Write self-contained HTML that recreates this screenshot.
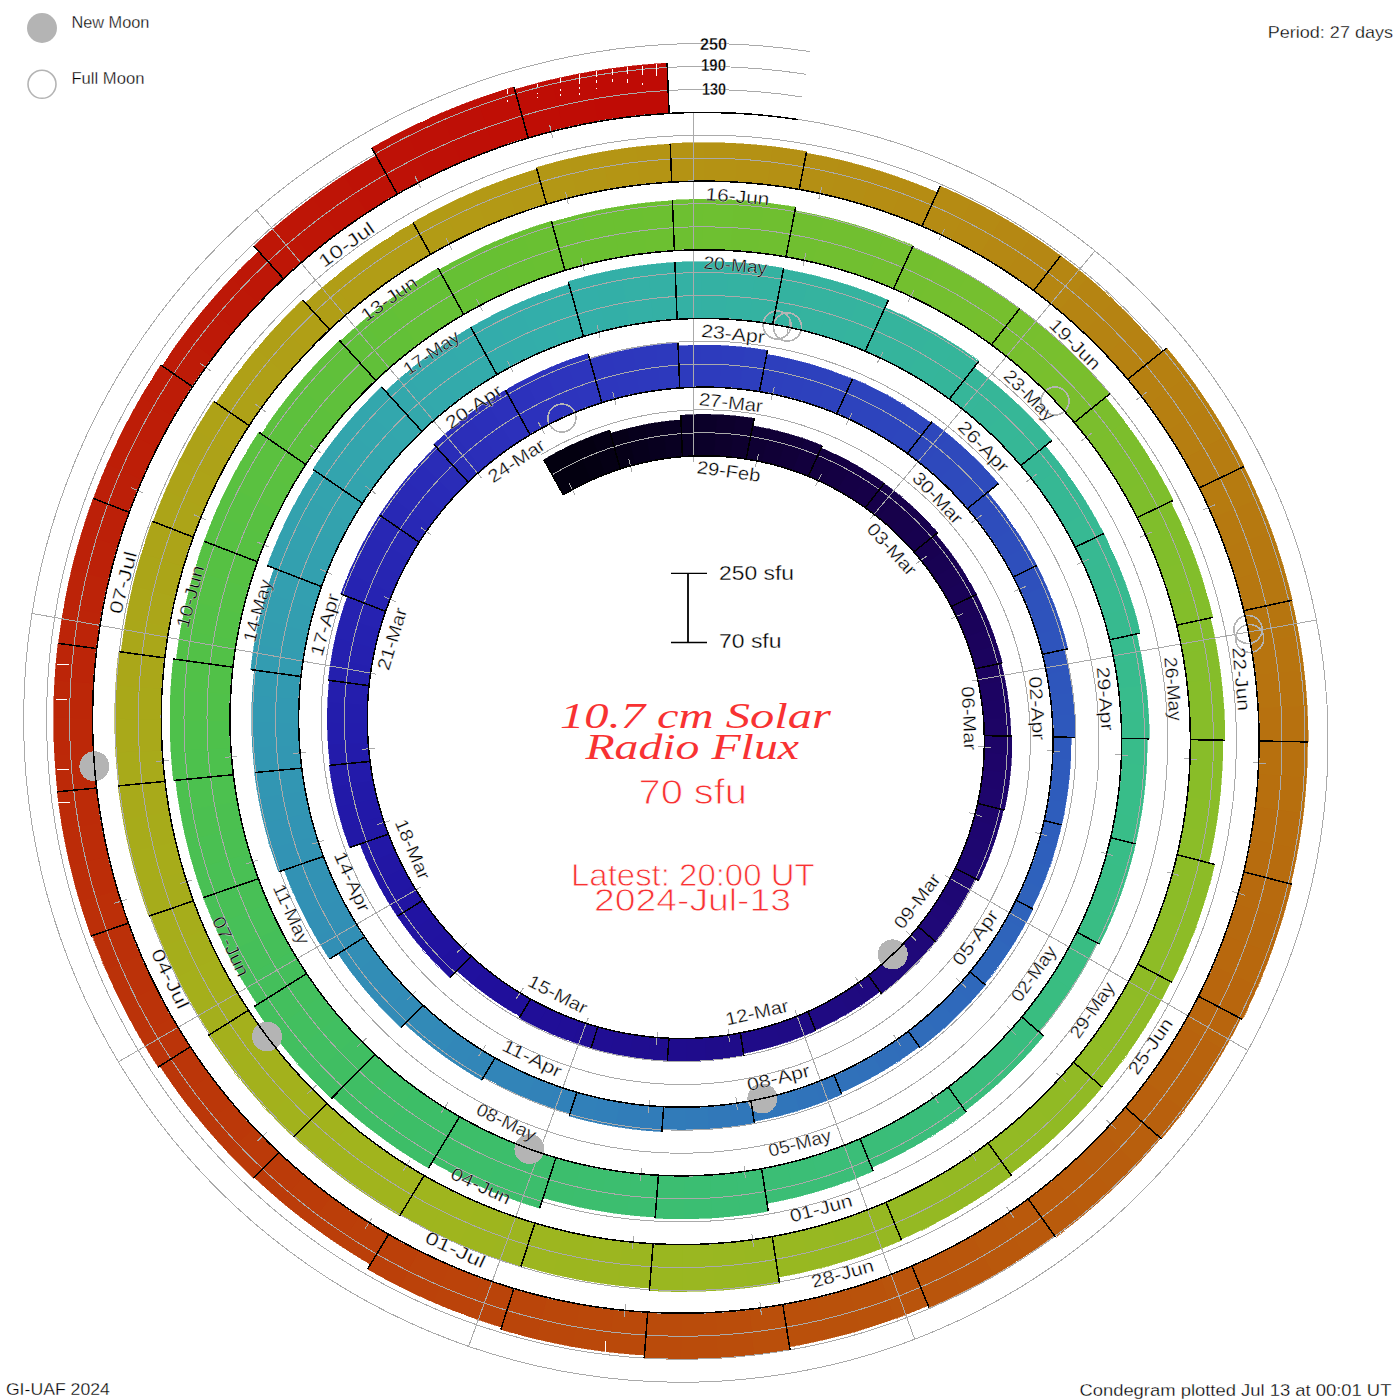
<!DOCTYPE html><html><head><meta charset="utf-8"><style>html,body{margin:0;padding:0;background:#fff;width:1400px;height:1400px;overflow:hidden}svg{display:block}text{font-family:"Liberation Sans",sans-serif;stroke:#fff;stroke-width:0.3px}</style></head><body>
<svg width="1400" height="1400" viewBox="0 0 1400 1400">
<rect width="1400" height="1400" fill="#fff"/>
<g shape-rendering="crispEdges">
<polygon fill="#030010" stroke="#030010" stroke-width="0.6" points="563.3,494.9 567.8,492.3 572.3,489.7 576.9,487.2 559.5,450.9 554.2,453.7 549.0,456.7 543.8,459.7"/>
<polygon fill="#030010" stroke="#030010" stroke-width="0.6" points="576.9,487.2 581.5,484.8 586.2,482.5 591.0,480.3 575.8,443.0 570.3,445.5 564.9,448.2 559.5,450.9"/>
<polygon fill="#040012" stroke="#040012" stroke-width="0.6" points="591.0,480.3 595.8,478.1 600.6,476.1 605.5,474.2 592.4,436.1 586.8,438.3 581.3,440.6 575.8,443.0"/>
<polygon fill="#050015" stroke="#050015" stroke-width="0.6" points="605.5,474.2 610.4,472.3 615.3,470.6 620.3,468.9 609.5,430.1 603.8,432.0 598.1,434.0 592.4,436.1"/>
<polygon fill="#060018" stroke="#060018" stroke-width="0.6" points="620.3,468.9 625.3,467.3 630.4,465.9 635.5,464.5 627.7,428.5 621.9,430.1 616.2,431.7 610.4,433.4"/>
<polygon fill="#07001c" stroke="#07001c" stroke-width="0.6" points="635.5,464.5 640.6,463.2 645.7,462.0 650.9,461.0 645.2,424.6 639.4,425.8 633.5,427.1 627.7,428.5"/>
<polygon fill="#08001f" stroke="#08001f" stroke-width="0.6" points="650.9,461.0 656.1,460.0 661.3,459.1 666.6,458.3 663.0,421.7 657.1,422.6 651.1,423.5 645.2,424.6"/>
<polygon fill="#090022" stroke="#090022" stroke-width="0.6" points="666.6,458.3 671.8,457.7 677.1,457.1 682.4,456.6 681.0,419.9 675.0,420.4 669.0,421.0 663.0,421.7"/>
<polygon fill="#0a0026" stroke="#0a0026" stroke-width="0.6" points="682.4,456.6 687.7,456.3 693.0,456.0 698.3,455.8 699.1,414.4 693.0,414.6 686.9,414.9 680.8,415.3"/>
<polygon fill="#0b0029" stroke="#0b0029" stroke-width="0.6" points="698.3,455.8 703.6,455.8 709.0,455.8 714.3,456.0 717.5,414.7 711.4,414.5 705.2,414.4 699.1,414.4"/>
<polygon fill="#0d002c" stroke="#0d002c" stroke-width="0.6" points="714.3,456.0 719.6,456.2 725.0,456.6 730.3,457.0 735.9,416.0 729.8,415.5 723.6,415.0 717.5,414.7"/>
<polygon fill="#0e002f" stroke="#0e002f" stroke-width="0.6" points="730.3,457.0 735.6,457.6 740.9,458.3 746.2,459.1 754.2,418.4 748.1,417.5 742.0,416.7 735.9,416.0"/>
<polygon fill="#0f0033" stroke="#0f0033" stroke-width="0.6" points="746.2,459.1 751.5,459.9 756.8,460.9 762.0,462.0 770.4,429.4 764.5,428.1 758.6,427.0 752.7,426.0"/>
<polygon fill="#100036" stroke="#100036" stroke-width="0.6" points="762.0,462.0 767.3,463.2 772.5,464.5 777.7,465.9 788.0,433.8 782.2,432.2 776.3,430.7 770.4,429.4"/>
<polygon fill="#110039" stroke="#110039" stroke-width="0.6" points="777.7,465.9 782.9,467.3 788.0,468.9 793.1,470.6 805.3,439.2 799.5,437.3 793.8,435.5 788.0,433.8"/>
<polygon fill="#12003d" stroke="#12003d" stroke-width="0.6" points="793.1,470.6 798.2,472.4 803.3,474.3 808.3,476.3 822.3,445.6 816.6,443.4 811.0,441.2 805.3,439.2"/>
<polygon fill="#130040" stroke="#130040" stroke-width="0.6" points="808.3,476.3 813.3,478.4 818.3,480.6 823.2,482.9 837.6,455.5 832.2,452.9 826.7,450.4 821.1,448.1"/>
<polygon fill="#140043" stroke="#140043" stroke-width="0.6" points="823.2,482.9 828.0,485.3 832.9,487.8 837.6,490.3 853.7,463.8 848.4,460.9 843.0,458.1 837.6,455.5"/>
<polygon fill="#150046" stroke="#150046" stroke-width="0.6" points="837.6,490.3 842.4,493.0 847.1,495.8 851.7,498.6 869.2,473.1 864.1,469.9 858.9,466.8 853.7,463.8"/>
<polygon fill="#160048" stroke="#160048" stroke-width="0.6" points="851.7,498.6 856.3,501.6 860.8,504.6 865.3,507.7 884.3,483.2 879.3,479.7 874.3,476.3 869.2,473.1"/>
<polygon fill="#16004a" stroke="#16004a" stroke-width="0.6" points="865.3,507.7 869.7,511.0 874.0,514.3 878.3,517.6 898.5,494.5 893.8,490.7 889.0,487.1 884.1,483.5"/>
<polygon fill="#17014b" stroke="#17014b" stroke-width="0.6" points="878.3,517.6 882.5,521.1 886.7,524.7 890.8,528.3 912.3,506.4 907.8,502.4 903.2,498.4 898.5,494.5"/>
<polygon fill="#17014d" stroke="#17014d" stroke-width="0.6" points="890.8,528.3 894.8,532.1 898.8,535.9 902.7,539.7 925.4,519.1 921.1,514.8 916.7,510.6 912.3,506.4"/>
<polygon fill="#17014f" stroke="#17014f" stroke-width="0.6" points="902.7,539.7 906.5,543.7 910.2,547.7 913.9,551.9 937.8,532.6 933.7,528.0 929.6,523.5 925.4,519.1"/>
<polygon fill="#180151" stroke="#180151" stroke-width="0.6" points="913.9,551.9 917.4,556.0 920.9,560.3 924.4,564.6 947.1,548.3 943.4,543.6 939.6,538.9 935.7,534.3"/>
<polygon fill="#180253" stroke="#180253" stroke-width="0.6" points="924.4,564.6 927.7,569.0 931.0,573.5 934.1,578.0 957.8,563.1 954.4,558.1 950.8,553.2 947.1,548.3"/>
<polygon fill="#190255" stroke="#190255" stroke-width="0.6" points="934.1,578.0 937.2,582.6 940.2,587.3 943.1,592.0 967.6,578.5 964.5,573.3 961.2,568.1 957.8,563.1"/>
<polygon fill="#190257" stroke="#190257" stroke-width="0.6" points="943.1,592.0 945.9,596.8 948.7,601.6 951.3,606.5 976.5,594.4 973.7,589.0 970.7,583.7 967.6,578.5"/>
<polygon fill="#1a0258" stroke="#1a0258" stroke-width="0.6" points="951.3,606.5 953.8,611.4 956.3,616.4 958.6,621.5 984.2,611.0 981.6,605.5 979.0,600.0 976.2,594.6"/>
<polygon fill="#1a025a" stroke="#1a025a" stroke-width="0.6" points="958.6,621.5 960.9,626.6 963.0,631.7 965.1,636.9 991.2,628.0 989.0,622.3 986.6,616.6 984.2,611.0"/>
<polygon fill="#1b025c" stroke="#1b025c" stroke-width="0.6" points="965.1,636.9 967.0,642.1 968.9,647.4 970.6,652.7 997.2,645.3 995.3,639.5 993.3,633.7 991.2,628.0"/>
<polygon fill="#1b035e" stroke="#1b035e" stroke-width="0.6" points="970.6,652.7 972.3,658.1 973.8,663.4 975.3,668.8 1002.3,663.0 1000.7,657.1 999.0,651.2 997.2,645.3"/>
<polygon fill="#1c0360" stroke="#1c0360" stroke-width="0.6" points="975.3,668.8 976.6,674.3 977.9,679.8 979.0,685.3 1005.2,681.2 1004.0,675.2 1002.6,669.2 1001.2,663.2"/>
<polygon fill="#1c0362" stroke="#1c0362" stroke-width="0.6" points="979.0,685.3 980.0,690.8 980.9,696.3 981.8,701.9 1008.1,699.3 1007.3,693.3 1006.3,687.2 1005.2,681.2"/>
<polygon fill="#1c0364" stroke="#1c0364" stroke-width="0.6" points="981.8,701.9 982.5,707.5 983.0,713.1 983.5,718.7 1010.0,717.7 1009.5,711.6 1008.9,705.4 1008.1,699.3"/>
<polygon fill="#1d0465" stroke="#1d0465" stroke-width="0.6" points="983.5,718.7 983.9,724.4 984.2,730.0 984.3,735.6 1010.8,736.2 1010.7,730.0 1010.4,723.8 1010.0,717.7"/>
<polygon fill="#1d0467" stroke="#1d0467" stroke-width="0.6" points="984.3,735.6 984.4,741.3 984.3,747.0 984.1,752.6 1011.7,754.8 1011.9,748.6 1012.0,742.4 1011.9,736.2"/>
<polygon fill="#1e0469" stroke="#1e0469" stroke-width="0.6" points="984.1,752.6 983.9,758.3 983.5,763.9 983.0,769.6 1010.3,773.3 1010.9,767.2 1011.3,761.0 1011.7,754.8"/>
<polygon fill="#1e046b" stroke="#1e046b" stroke-width="0.6" points="983.0,769.6 982.4,775.3 981.6,780.9 980.8,786.5 1007.9,791.8 1008.8,785.7 1009.6,779.5 1010.3,773.3"/>
<polygon fill="#1e056c" stroke="#1e056c" stroke-width="0.6" points="980.8,786.5 979.9,792.1 978.8,797.7 977.6,803.3 1004.4,810.2 1005.7,804.1 1006.8,798.0 1007.9,791.8"/>
<polygon fill="#1e056d" stroke="#1e056d" stroke-width="0.6" points="977.6,803.3 976.4,808.9 975.0,814.4 973.5,819.9 998.7,828.0 1000.4,822.0 1001.9,816.0 1003.3,809.9"/>
<polygon fill="#1e056f" stroke="#1e056f" stroke-width="0.6" points="973.5,819.9 971.9,825.4 970.2,830.9 968.4,836.3 993.1,845.9 995.1,840.0 997.0,834.0 998.7,828.0"/>
<polygon fill="#1e0670" stroke="#1e0670" stroke-width="0.6" points="968.4,836.3 966.5,841.7 964.5,847.1 962.3,852.4 986.4,863.4 988.8,857.6 991.0,851.7 993.1,845.9"/>
<polygon fill="#1e0672" stroke="#1e0672" stroke-width="0.6" points="962.3,852.4 960.1,857.7 957.8,863.0 955.3,868.2 978.8,880.5 981.4,874.9 984.0,869.1 986.4,863.4"/>
<polygon fill="#1e0673" stroke="#1e0673" stroke-width="0.6" points="955.3,868.2 952.8,873.3 950.1,878.4 947.4,883.5 967.4,895.6 970.4,890.1 973.3,884.6 976.0,879.1"/>
<polygon fill="#1e0774" stroke="#1e0774" stroke-width="0.6" points="947.4,883.5 944.5,888.5 941.6,893.5 938.5,898.4 957.8,911.6 961.1,906.4 964.3,901.0 967.4,895.6"/>
<polygon fill="#1f0776" stroke="#1f0776" stroke-width="0.6" points="938.5,898.4 935.4,903.3 932.2,908.1 928.8,912.8 947.3,927.1 950.9,922.0 954.4,916.9 957.8,911.6"/>
<polygon fill="#1f0877" stroke="#1f0877" stroke-width="0.6" points="928.8,912.8 925.4,917.5 921.9,922.1 918.3,926.6 935.9,942.0 939.8,937.1 943.6,932.2 947.3,927.1"/>
<polygon fill="#1f0878" stroke="#1f0878" stroke-width="0.6" points="918.3,926.6 914.6,931.1 910.8,935.5 906.9,939.8 923.4,955.9 927.5,951.3 931.6,946.5 935.6,941.7"/>
<polygon fill="#1f087a" stroke="#1f087a" stroke-width="0.6" points="906.9,939.8 903.0,944.1 898.9,948.3 894.8,952.4 910.3,969.4 914.7,965.0 919.1,960.5 923.4,955.9"/>
<polygon fill="#1f097b" stroke="#1f097b" stroke-width="0.6" points="894.8,952.4 890.6,956.4 886.3,960.4 881.9,964.2 896.4,982.1 901.1,978.0 905.7,973.7 910.3,969.4"/>
<polygon fill="#1f097d" stroke="#1f097d" stroke-width="0.6" points="881.9,964.2 877.5,968.0 873.0,971.7 868.4,975.3 881.7,994.0 886.7,990.2 891.6,986.2 896.4,982.1"/>
<polygon fill="#1f097e" stroke="#1f097e" stroke-width="0.6" points="868.4,975.3 863.7,978.9 858.9,982.3 854.1,985.7 864.7,1002.5 869.9,998.9 874.9,995.3 879.9,991.5"/>
<polygon fill="#1f0a7f" stroke="#1f0a7f" stroke-width="0.6" points="854.1,985.7 849.3,988.9 844.3,992.1 839.3,995.2 848.9,1012.6 854.3,1009.3 859.5,1006.0 864.7,1002.5"/>
<polygon fill="#1f0a81" stroke="#1f0a81" stroke-width="0.6" points="839.3,995.2 834.2,998.1 829.1,1001.0 823.9,1003.8 832.5,1021.7 838.0,1018.8 843.5,1015.7 848.9,1012.6"/>
<polygon fill="#1f0a82" stroke="#1f0a82" stroke-width="0.6" points="823.9,1003.8 818.7,1006.5 813.4,1009.0 808.0,1011.5 815.5,1029.9 821.3,1027.3 826.9,1024.6 832.5,1021.7"/>
<polygon fill="#1f0b84" stroke="#1f0b84" stroke-width="0.6" points="808.0,1011.5 802.6,1013.9 797.2,1016.2 791.7,1018.3 798.4,1037.9 804.2,1035.6 810.1,1033.2 815.8,1030.7"/>
<polygon fill="#1f0b85" stroke="#1f0b85" stroke-width="0.6" points="791.7,1018.3 786.1,1020.4 780.5,1022.3 774.9,1024.2 780.4,1044.1 786.5,1042.2 792.4,1040.1 798.4,1037.9"/>
<polygon fill="#1f0b86" stroke="#1f0b86" stroke-width="0.6" points="774.9,1024.2 769.2,1025.9 763.5,1027.6 757.8,1029.1 762.2,1049.3 768.3,1047.7 774.4,1046.0 780.4,1044.1"/>
<polygon fill="#1f0b88" stroke="#1f0b88" stroke-width="0.6" points="757.8,1029.1 752.0,1030.5 746.2,1031.8 740.4,1033.0 743.6,1053.4 749.8,1052.2 756.0,1050.8 762.2,1049.3"/>
<polygon fill="#1f0c89" stroke="#1f0c89" stroke-width="0.6" points="740.4,1033.0 734.5,1034.0 728.7,1035.0 722.8,1035.8 725.0,1058.7 731.3,1057.8 737.6,1056.8 743.9,1055.7"/>
<polygon fill="#1f0c8a" stroke="#1f0c8a" stroke-width="0.6" points="722.8,1035.8 716.8,1036.6 710.9,1037.2 704.9,1037.7 705.8,1060.7 712.2,1060.2 718.6,1059.5 725.0,1058.7"/>
<polygon fill="#1f0c8c" stroke="#1f0c8c" stroke-width="0.6" points="704.9,1037.7 699.0,1038.1 693.0,1038.3 687.0,1038.5 686.6,1061.5 693.0,1061.3 699.4,1061.1 705.8,1060.7"/>
<polygon fill="#1f0c8d" stroke="#1f0c8d" stroke-width="0.6" points="687.0,1038.5 681.0,1038.5 675.0,1038.5 669.0,1038.3 667.3,1061.2 673.7,1061.4 680.1,1061.5 686.6,1061.5"/>
<polygon fill="#200d8f" stroke="#200d8f" stroke-width="0.6" points="669.0,1038.3 663.0,1038.0 657.1,1037.5 651.1,1037.0 648.1,1059.0 654.5,1059.6 660.9,1060.1 667.3,1060.4"/>
<polygon fill="#200d90" stroke="#200d90" stroke-width="0.6" points="651.1,1037.0 645.1,1036.3 639.1,1035.5 633.2,1034.7 628.9,1056.4 635.3,1057.4 641.7,1058.3 648.1,1059.0"/>
<polygon fill="#200d92" stroke="#200d92" stroke-width="0.6" points="633.2,1034.7 627.2,1033.6 621.3,1032.5 615.4,1031.3 609.9,1052.8 616.2,1054.1 622.5,1055.3 628.9,1056.4"/>
<polygon fill="#200d93" stroke="#200d93" stroke-width="0.6" points="615.4,1031.3 609.5,1029.9 603.7,1028.4 597.8,1026.9 591.0,1048.0 597.3,1049.7 603.6,1051.3 609.9,1052.8"/>
<polygon fill="#200e94" stroke="#200e94" stroke-width="0.6" points="597.8,1026.9 592.0,1025.2 586.2,1023.3 580.5,1021.4 572.6,1041.8 578.7,1043.9 584.9,1045.9 591.1,1047.7"/>
<polygon fill="#200e96" stroke="#200e96" stroke-width="0.6" points="580.5,1021.4 574.8,1019.4 569.1,1017.2 563.5,1015.0 554.4,1034.9 560.4,1037.3 566.5,1039.6 572.6,1041.8"/>
<polygon fill="#200e97" stroke="#200e97" stroke-width="0.6" points="563.5,1015.0 557.9,1012.6 552.3,1010.1 546.8,1007.5 536.6,1026.9 542.5,1029.7 548.4,1032.3 554.4,1034.9"/>
<polygon fill="#200e98" stroke="#200e98" stroke-width="0.6" points="546.8,1007.5 541.4,1004.8 536.0,1002.0 530.6,999.1 519.3,1017.8 525.0,1021.0 530.8,1024.0 536.6,1026.9"/>
<polygon fill="#200f9a" stroke="#200f9a" stroke-width="0.6" points="530.6,999.1 525.3,996.1 520.1,992.9 514.9,989.7 503.4,1006.5 508.9,1009.9 514.5,1013.2 520.1,1016.5"/>
<polygon fill="#200f9b" stroke="#200f9b" stroke-width="0.6" points="514.9,989.7 509.8,986.4 504.7,982.9 499.7,979.4 487.3,995.5 492.6,999.2 497.9,1002.9 503.4,1006.5"/>
<polygon fill="#200f9c" stroke="#200f9c" stroke-width="0.6" points="499.7,979.4 494.8,975.8 489.9,972.1 485.1,968.2 471.7,983.5 476.8,987.6 482.0,991.6 487.3,995.5"/>
<polygon fill="#20109e" stroke="#20109e" stroke-width="0.6" points="485.1,968.2 480.4,964.3 475.7,960.3 471.2,956.2 456.9,970.7 461.8,975.1 466.7,979.3 471.7,983.5"/>
<polygon fill="#20119e" stroke="#20119e" stroke-width="0.6" points="471.2,956.2 466.7,952.0 462.2,947.7 457.9,943.3 435.7,963.5 440.4,968.3 445.2,973.0 450.1,977.6"/>
<polygon fill="#2112a0" stroke="#2112a0" stroke-width="0.6" points="457.9,943.3 453.7,938.9 449.5,934.3 445.4,929.7 422.1,948.5 426.5,953.6 431.0,958.6 435.7,963.5"/>
<polygon fill="#2113a0" stroke="#2113a0" stroke-width="0.6" points="445.4,929.7 441.4,925.0 437.5,920.2 433.7,915.3 409.3,932.8 413.4,938.1 417.7,943.4 422.1,948.5"/>
<polygon fill="#2113a2" stroke="#2113a2" stroke-width="0.6" points="433.7,915.3 430.0,910.4 426.3,905.4 422.8,900.3 397.4,916.3 401.3,921.9 405.2,927.4 409.3,932.8"/>
<polygon fill="#2114a2" stroke="#2114a2" stroke-width="0.6" points="422.8,900.3 419.4,895.1 416.0,889.9 412.8,884.6 386.5,899.1 390.1,904.9 393.7,910.6 397.4,916.3"/>
<polygon fill="#2115a4" stroke="#2115a4" stroke-width="0.6" points="412.8,884.6 409.7,879.2 406.6,873.8 403.7,868.3 376.7,881.3 379.8,887.3 383.1,893.2 386.5,899.1"/>
<polygon fill="#2216a4" stroke="#2216a4" stroke-width="0.6" points="403.7,868.3 400.9,862.8 398.2,857.2 395.6,851.5 367.8,862.9 370.6,869.1 373.6,875.2 376.7,881.3"/>
<polygon fill="#2217a6" stroke="#2217a6" stroke-width="0.6" points="395.6,851.5 393.1,845.8 390.7,840.0 388.4,834.2 360.0,843.9 362.5,850.3 365.1,856.6 367.8,862.9"/>
<polygon fill="#2218a6" stroke="#2218a6" stroke-width="0.6" points="388.4,834.2 386.3,828.4 384.2,822.5 382.3,816.5 342.8,827.5 344.9,834.2 347.2,840.9 349.6,847.5"/>
<polygon fill="#2218a8" stroke="#2218a8" stroke-width="0.6" points="382.3,816.5 380.4,810.5 378.7,804.5 377.1,798.4 337.1,807.1 338.8,813.9 340.7,820.7 342.8,827.5"/>
<polygon fill="#2219a8" stroke="#2219a8" stroke-width="0.6" points="377.1,798.4 375.7,792.3 374.3,786.2 373.1,780.0 332.6,786.4 333.9,793.3 335.4,800.2 337.1,807.1"/>
<polygon fill="#231aaa" stroke="#231aaa" stroke-width="0.6" points="373.1,780.0 371.9,773.9 370.9,767.6 370.1,761.4 329.3,765.4 330.2,772.4 331.3,779.4 332.6,786.4"/>
<polygon fill="#231baa" stroke="#231baa" stroke-width="0.6" points="370.1,761.4 369.3,755.2 368.7,748.9 368.1,742.6 328.2,744.2 328.7,751.2 329.4,758.3 330.2,765.3"/>
<polygon fill="#231cac" stroke="#231cac" stroke-width="0.6" points="368.1,742.6 367.7,736.3 367.5,730.0 367.3,723.7 327.3,722.9 327.5,730.0 327.8,737.1 328.2,744.2"/>
<polygon fill="#231dac" stroke="#231dac" stroke-width="0.6" points="367.3,723.7 367.3,717.4 367.4,711.0 367.6,704.7 327.7,701.6 327.5,708.7 327.3,715.8 327.3,722.9"/>
<polygon fill="#241ead" stroke="#241ead" stroke-width="0.6" points="367.6,704.7 367.9,698.4 368.4,692.1 369.0,685.7 329.4,680.3 328.7,687.4 328.1,694.5 327.7,701.6"/>
<polygon fill="#241fae" stroke="#241fae" stroke-width="0.6" points="369.0,685.7 369.7,679.4 370.5,673.1 371.5,666.9 331.3,659.0 330.2,666.0 329.2,673.1 328.4,680.2"/>
<polygon fill="#2520af" stroke="#2520af" stroke-width="0.6" points="371.5,666.9 372.6,660.6 373.8,654.3 375.1,648.1 335.4,637.9 333.9,644.9 332.5,651.9 331.3,659.0"/>
<polygon fill="#2521b0" stroke="#2521b0" stroke-width="0.6" points="375.1,648.1 376.5,641.9 378.1,635.7 379.8,629.6 340.7,617.1 338.8,624.0 337.0,630.9 335.4,637.9"/>
<polygon fill="#2622b1" stroke="#2622b1" stroke-width="0.6" points="379.8,629.6 381.6,623.5 383.5,617.4 385.6,611.3 347.3,596.5 345.0,603.3 342.8,610.2 340.7,617.1"/>
<polygon fill="#2623b2" stroke="#2623b2" stroke-width="0.6" points="385.6,611.3 387.7,605.3 390.0,599.3 392.4,593.4 348.7,573.5 345.9,580.3 343.3,587.1 340.8,594.0"/>
<polygon fill="#2725b2" stroke="#2725b2" stroke-width="0.6" points="392.4,593.4 394.9,587.5 397.6,581.6 400.3,575.8 357.8,553.5 354.7,560.1 351.6,566.8 348.7,573.5"/>
<polygon fill="#2726b3" stroke="#2726b3" stroke-width="0.6" points="400.3,575.8 403.2,570.1 406.1,564.4 409.2,558.7 368.1,533.9 364.6,540.4 361.1,546.9 357.8,553.5"/>
<polygon fill="#2827b4" stroke="#2827b4" stroke-width="0.6" points="409.2,558.7 412.4,553.2 415.7,547.6 419.1,542.2 379.5,515.0 375.6,521.3 371.8,527.6 368.1,533.9"/>
<polygon fill="#2828b5" stroke="#2828b5" stroke-width="0.6" points="419.1,542.2 422.6,536.8 426.3,531.4 430.0,526.2 392.1,496.8 387.8,502.8 383.6,508.9 379.5,515.0"/>
<polygon fill="#2929b6" stroke="#2929b6" stroke-width="0.6" points="430.0,526.2 433.8,521.0 437.8,515.9 441.8,510.8 405.7,479.2 401.0,485.0 396.5,490.8 392.1,496.8"/>
<polygon fill="#292ab7" stroke="#292ab7" stroke-width="0.6" points="441.8,510.8 446.0,505.8 450.2,500.9 454.5,496.1 420.3,462.5 415.3,468.0 410.4,473.6 405.7,479.2"/>
<polygon fill="#2a2cb7" stroke="#2a2cb7" stroke-width="0.6" points="454.5,496.1 459.0,491.4 463.5,486.7 468.1,482.2 435.9,446.6 430.6,451.8 425.4,457.1 420.3,462.5"/>
<polygon fill="#2a2db8" stroke="#2a2db8" stroke-width="0.6" points="468.1,482.2 472.8,477.7 477.6,473.3 482.5,469.0 450.5,429.3 444.8,434.3 439.3,439.3 433.8,444.4"/>
<polygon fill="#2b2eb9" stroke="#2b2eb9" stroke-width="0.6" points="482.5,469.0 487.5,464.8 492.5,460.7 497.7,456.7 468.0,415.2 462.1,419.8 456.2,424.5 450.5,429.3"/>
<polygon fill="#2b2fba" stroke="#2b2fba" stroke-width="0.6" points="497.7,456.7 502.9,452.8 508.2,449.0 513.5,445.3 486.4,402.1 480.2,406.4 474.0,410.7 468.0,415.2"/>
<polygon fill="#2c30bb" stroke="#2c30bb" stroke-width="0.6" points="513.5,445.3 519.0,441.7 524.5,438.2 530.1,434.8 505.5,390.1 499.0,394.0 492.6,398.0 486.4,402.1"/>
<polygon fill="#2c31bc" stroke="#2c31bc" stroke-width="0.6" points="530.1,434.8 535.8,431.5 541.5,428.3 547.3,425.2 525.3,379.2 518.6,382.7 512.0,386.4 505.5,390.1"/>
<polygon fill="#2d32bd" stroke="#2d32bd" stroke-width="0.6" points="547.3,425.2 553.1,422.3 559.0,419.4 565.0,416.7 545.7,369.5 538.8,372.6 532.0,375.8 525.3,379.2"/>
<polygon fill="#2d34bd" stroke="#2d34bd" stroke-width="0.6" points="565.0,416.7 571.0,414.1 577.1,411.6 583.2,409.2 566.7,360.9 559.6,363.6 552.6,366.5 545.7,369.5"/>
<polygon fill="#2d35bd" stroke="#2d35bd" stroke-width="0.6" points="583.2,409.2 589.4,406.9 595.6,404.7 601.9,402.7 588.2,353.6 581.0,355.9 573.8,358.3 566.7,360.9"/>
<polygon fill="#2d36bd" stroke="#2d36bd" stroke-width="0.6" points="601.9,402.7 608.2,400.8 614.6,399.0 620.9,397.3 611.4,353.4 604.2,355.2 597.0,357.2 589.8,359.4"/>
<polygon fill="#2d37bd" stroke="#2d37bd" stroke-width="0.6" points="620.9,397.3 627.4,395.8 633.8,394.4 640.3,393.1 633.4,348.6 626.0,350.1 618.7,351.6 611.4,353.4"/>
<polygon fill="#2d38bd" stroke="#2d38bd" stroke-width="0.6" points="640.3,393.1 646.8,391.9 653.4,390.9 659.9,390.0 655.6,345.2 648.1,346.2 640.7,347.3 633.4,348.6"/>
<polygon fill="#2d39bd" stroke="#2d39bd" stroke-width="0.6" points="659.9,390.0 666.5,389.2 673.1,388.5 679.7,388.0 678.0,343.0 670.5,343.6 663.0,344.3 655.6,345.2"/>
<polygon fill="#2d3abd" stroke="#2d3abd" stroke-width="0.6" points="679.7,388.0 686.4,387.6 693.0,387.3 699.6,387.2 700.5,345.2 693.0,345.3 685.5,345.6 678.1,346.0"/>
<polygon fill="#2d3bbd" stroke="#2d3bbd" stroke-width="0.6" points="699.6,387.2 706.3,387.1 713.0,387.2 719.6,387.5 722.9,345.6 715.4,345.3 707.9,345.2 700.5,345.2"/>
<polygon fill="#2d3cbd" stroke="#2d3cbd" stroke-width="0.6" points="719.6,387.5 726.3,387.9 732.9,388.4 739.6,389.0 745.3,347.4 737.8,346.6 730.3,346.1 722.9,345.6"/>
<polygon fill="#2d3ebd" stroke="#2d3ebd" stroke-width="0.6" points="739.6,389.0 746.2,389.7 752.8,390.6 759.4,391.6 767.5,350.4 760.1,349.3 752.7,348.2 745.3,347.4"/>
<polygon fill="#2d3fbd" stroke="#2d3fbd" stroke-width="0.6" points="759.4,391.6 766.0,392.8 772.6,394.1 779.2,395.5 788.6,358.7 781.4,357.1 774.1,355.6 766.8,354.4"/>
<polygon fill="#2d40bd" stroke="#2d40bd" stroke-width="0.6" points="779.2,395.5 785.7,397.0 792.2,398.6 798.7,400.4 810.3,364.2 803.1,362.2 795.9,360.4 788.6,358.7"/>
<polygon fill="#2d41bd" stroke="#2d41bd" stroke-width="0.6" points="798.7,400.4 805.1,402.3 811.5,404.4 817.9,406.5 831.6,371.1 824.5,368.7 817.4,366.4 810.3,364.2"/>
<polygon fill="#2d42bd" stroke="#2d42bd" stroke-width="0.6" points="817.9,406.5 824.2,408.8 830.5,411.2 836.7,413.8 852.5,379.2 845.5,376.3 838.6,373.7 831.6,371.1"/>
<polygon fill="#2d43bd" stroke="#2d43bd" stroke-width="0.6" points="836.7,413.8 842.9,416.4 849.1,419.2 855.2,422.1 873.1,388.0 866.4,384.8 859.5,381.7 852.7,378.7"/>
<polygon fill="#2d44bd" stroke="#2d44bd" stroke-width="0.6" points="855.2,422.1 861.2,425.1 867.2,428.3 873.1,431.5 893.0,398.5 886.5,394.9 879.8,391.4 873.1,388.0"/>
<polygon fill="#2d45bd" stroke="#2d45bd" stroke-width="0.6" points="873.1,431.5 879.0,434.9 884.8,438.4 890.5,442.0 912.3,410.2 906.0,406.2 899.5,402.3 893.0,398.5"/>
<polygon fill="#2d46bd" stroke="#2d46bd" stroke-width="0.6" points="890.5,442.0 896.2,445.7 901.8,449.5 907.4,453.4 930.9,423.0 924.8,418.6 918.6,414.4 912.3,410.2"/>
<polygon fill="#2e48bc" stroke="#2e48bc" stroke-width="0.6" points="907.4,453.4 912.8,457.5 918.2,461.6 923.5,465.9 949.8,435.7 943.9,431.0 937.9,426.3 931.9,421.8"/>
<polygon fill="#2e49bc" stroke="#2e49bc" stroke-width="0.6" points="923.5,465.9 928.7,470.2 933.8,474.7 938.9,479.3 966.9,450.7 961.3,445.6 955.6,440.6 949.8,435.7"/>
<polygon fill="#2e4abc" stroke="#2e4abc" stroke-width="0.6" points="938.9,479.3 943.9,483.9 948.7,488.7 953.5,493.6 983.2,466.7 977.8,461.3 972.4,455.9 966.9,450.7"/>
<polygon fill="#2e4bbc" stroke="#2e4bbc" stroke-width="0.6" points="953.5,493.6 958.2,498.5 962.8,503.6 967.3,508.7 998.5,483.6 993.5,477.9 988.4,472.2 983.2,466.7"/>
<polygon fill="#2e4cbc" stroke="#2e4cbc" stroke-width="0.6" points="967.3,508.7 971.7,514.0 976.0,519.3 980.3,524.7 1001.4,509.6 996.9,503.7 992.3,498.0 987.6,492.4"/>
<polygon fill="#2e4dbc" stroke="#2e4dbc" stroke-width="0.6" points="980.3,524.7 984.4,530.2 988.4,535.7 992.2,541.4 1014.2,527.5 1010.1,521.5 1005.8,515.5 1001.4,509.6"/>
<polygon fill="#2e4ebc" stroke="#2e4ebc" stroke-width="0.6" points="992.2,541.4 996.0,547.1 999.7,552.9 1003.3,558.8 1026.0,546.2 1022.2,539.9 1018.3,533.7 1014.2,527.5"/>
<polygon fill="#2e4fbc" stroke="#2e4fbc" stroke-width="0.6" points="1003.3,558.8 1006.7,564.8 1010.0,570.8 1013.3,576.9 1036.7,565.6 1033.3,559.1 1029.7,552.6 1026.0,546.2"/>
<polygon fill="#2e50bc" stroke="#2e50bc" stroke-width="0.6" points="1013.3,576.9 1016.4,583.0 1019.4,589.2 1022.2,595.5 1046.3,585.7 1043.2,578.9 1040.0,572.2 1036.7,565.6"/>
<polygon fill="#2e52bc" stroke="#2e52bc" stroke-width="0.6" points="1022.2,595.5 1025.0,601.8 1027.6,608.2 1030.1,614.7 1054.7,606.2 1052.0,599.3 1049.2,592.5 1046.3,585.7"/>
<polygon fill="#2e53bc" stroke="#2e53bc" stroke-width="0.6" points="1030.1,614.7 1032.5,621.2 1034.7,627.7 1036.8,634.3 1061.9,627.3 1059.6,620.2 1057.2,613.2 1054.7,606.2"/>
<polygon fill="#2e54bc" stroke="#2e54bc" stroke-width="0.6" points="1036.8,634.3 1038.8,640.9 1040.7,647.6 1042.4,654.3 1067.8,648.8 1066.0,641.6 1064.0,634.4 1061.9,627.3"/>
<polygon fill="#2e55bc" stroke="#2e55bc" stroke-width="0.6" points="1042.4,654.3 1044.0,661.1 1045.5,667.8 1046.9,674.7 1068.9,671.2 1067.5,664.0 1065.9,656.8 1064.2,649.6"/>
<polygon fill="#2e56bc" stroke="#2e56bc" stroke-width="0.6" points="1046.9,674.7 1048.1,681.5 1049.2,688.4 1050.1,695.3 1072.3,693.1 1071.3,685.8 1070.2,678.5 1068.9,671.2"/>
<polygon fill="#2e57bc" stroke="#2e57bc" stroke-width="0.6" points="1050.1,695.3 1050.9,702.2 1051.6,709.1 1052.2,716.1 1074.5,715.2 1073.9,707.8 1073.2,700.4 1072.3,693.1"/>
<polygon fill="#2e58bc" stroke="#2e58bc" stroke-width="0.6" points="1052.2,716.1 1052.6,723.0 1052.9,730.0 1053.0,737.0 1075.3,737.4 1075.2,730.0 1074.9,722.6 1074.5,715.2"/>
<polygon fill="#2e59bc" stroke="#2e59bc" stroke-width="0.6" points="1053.0,737.0 1053.0,744.0 1052.9,751.0 1052.6,758.0 1070.6,759.3 1070.9,752.0 1071.0,744.7 1071.0,737.3"/>
<polygon fill="#2e5abc" stroke="#2e5abc" stroke-width="0.6" points="1052.6,758.0 1052.2,764.9 1051.7,771.9 1051.0,778.9 1068.9,781.3 1069.6,774.0 1070.2,766.7 1070.6,759.3"/>
<polygon fill="#2e5cbc" stroke="#2e5cbc" stroke-width="0.6" points="1051.0,778.9 1050.2,785.9 1049.3,792.8 1048.2,799.8 1065.9,803.2 1067.0,795.9 1068.0,788.6 1068.9,781.3"/>
<polygon fill="#2e5dbc" stroke="#2e5dbc" stroke-width="0.6" points="1048.2,799.8 1047.0,806.7 1045.7,813.6 1044.2,820.5 1061.6,824.9 1063.2,817.7 1064.6,810.5 1065.9,803.2"/>
<polygon fill="#2e5ebc" stroke="#2e5ebc" stroke-width="0.6" points="1044.2,820.5 1042.6,827.3 1040.8,834.1 1038.9,840.9 1056.1,846.4 1058.0,839.3 1059.9,832.1 1061.6,824.9"/>
<polygon fill="#2e5fbc" stroke="#2e5fbc" stroke-width="0.6" points="1038.9,840.9 1036.9,847.7 1034.8,854.4 1032.5,861.1 1049.3,867.6 1051.7,860.5 1053.9,853.5 1056.1,846.4"/>
<polygon fill="#2e61bc" stroke="#2e61bc" stroke-width="0.6" points="1032.5,861.1 1030.1,867.7 1027.5,874.3 1024.9,880.8 1041.3,888.3 1044.1,881.4 1046.7,874.5 1049.3,867.6"/>
<polygon fill="#2f62bb" stroke="#2f62bb" stroke-width="0.6" points="1024.9,880.8 1022.1,887.3 1019.1,893.8 1016.1,900.2 1032.0,908.6 1035.2,901.9 1038.3,895.1 1041.3,888.3"/>
<polygon fill="#2f63bb" stroke="#2f63bb" stroke-width="0.6" points="1016.1,900.2 1012.9,906.5 1009.6,912.8 1006.2,919.0 1022.5,928.8 1026.1,922.3 1029.6,915.7 1032.9,909.0"/>
<polygon fill="#2f64bb" stroke="#2f64bb" stroke-width="0.6" points="1006.2,919.0 1002.7,925.2 999.0,931.2 995.2,937.3 1010.9,948.0 1014.9,941.7 1018.7,935.3 1022.5,928.8"/>
<polygon fill="#2f66bb" stroke="#2f66bb" stroke-width="0.6" points="995.2,937.3 991.3,943.2 987.3,949.1 983.1,954.9 998.2,966.5 1002.5,960.4 1006.8,954.3 1010.9,948.0"/>
<polygon fill="#2f67bb" stroke="#2f67bb" stroke-width="0.6" points="983.1,954.9 978.9,960.6 974.5,966.2 970.1,971.8 984.4,984.3 989.1,978.4 993.7,972.5 998.2,966.5"/>
<polygon fill="#2f68bb" stroke="#2f68bb" stroke-width="0.6" points="970.1,971.8 965.5,977.3 960.8,982.6 956.0,987.9 970.5,1002.1 975.5,996.6 980.5,990.9 985.4,985.1"/>
<polygon fill="#2f69bb" stroke="#2f69bb" stroke-width="0.6" points="956.0,987.9 951.1,993.1 946.1,998.2 941.0,1003.3 954.6,1018.3 960.0,1013.0 965.3,1007.6 970.5,1002.1"/>
<polygon fill="#2f6bbb" stroke="#2f6bbb" stroke-width="0.6" points="941.0,1003.3 935.8,1008.2 930.5,1013.0 925.1,1017.7 937.8,1033.5 943.5,1028.5 949.1,1023.5 954.6,1018.3"/>
<polygon fill="#306cba" stroke="#306cba" stroke-width="0.6" points="925.1,1017.7 919.6,1022.3 914.0,1026.8 908.3,1031.2 920.1,1047.7 926.1,1043.1 932.0,1038.4 937.8,1033.5"/>
<polygon fill="#306dba" stroke="#306dba" stroke-width="0.6" points="908.3,1031.2 902.5,1035.5 896.7,1039.7 890.8,1043.8 900.8,1059.7 907.0,1055.4 913.2,1051.0 919.2,1046.5"/>
<polygon fill="#306eba" stroke="#306eba" stroke-width="0.6" points="890.8,1043.8 884.8,1047.7 878.7,1051.6 872.5,1055.3 881.6,1071.8 888.1,1067.9 894.5,1063.8 900.8,1059.7"/>
<polygon fill="#3070ba" stroke="#3070ba" stroke-width="0.6" points="872.5,1055.3 866.3,1058.9 859.9,1062.4 853.6,1065.8 861.7,1082.7 868.4,1079.2 875.0,1075.5 881.6,1071.8"/>
<polygon fill="#3071ba" stroke="#3071ba" stroke-width="0.6" points="853.6,1065.8 847.1,1069.0 840.6,1072.1 834.0,1075.1 841.1,1092.5 848.0,1089.4 854.9,1086.1 861.7,1082.7"/>
<polygon fill="#3072ba" stroke="#3072ba" stroke-width="0.6" points="834.0,1075.1 827.4,1078.0 820.7,1080.7 813.9,1083.3 820.6,1102.9 827.7,1100.2 834.8,1097.3 841.8,1094.3"/>
<polygon fill="#3073ba" stroke="#3073ba" stroke-width="0.6" points="813.9,1083.3 807.1,1085.8 800.2,1088.2 793.3,1090.4 798.9,1110.3 806.2,1108.0 813.4,1105.5 820.6,1102.9"/>
<polygon fill="#3075ba" stroke="#3075ba" stroke-width="0.6" points="793.3,1090.4 786.4,1092.5 779.4,1094.4 772.3,1096.2 776.7,1116.5 784.1,1114.6 791.5,1112.5 798.9,1110.3"/>
<polygon fill="#3076ba" stroke="#3076ba" stroke-width="0.6" points="772.3,1096.2 765.3,1097.9 758.1,1099.4 751.0,1100.8 754.2,1121.3 761.7,1119.8 769.2,1118.2 776.7,1116.5"/>
<polygon fill="#3077ba" stroke="#3077ba" stroke-width="0.6" points="751.0,1100.8 743.8,1102.1 736.6,1103.2 729.4,1104.2 731.6,1126.4 739.2,1125.4 746.8,1124.2 754.4,1122.9"/>
<polygon fill="#3178b9" stroke="#3178b9" stroke-width="0.6" points="729.4,1104.2 722.2,1105.1 714.9,1105.8 707.6,1106.3 708.5,1128.6 716.2,1128.0 723.9,1127.3 731.6,1126.4"/>
<polygon fill="#317ab9" stroke="#317ab9" stroke-width="0.6" points="707.6,1106.3 700.3,1106.8 693.0,1107.0 685.7,1107.2 685.3,1129.5 693.0,1129.3 700.7,1129.1 708.5,1128.6"/>
<polygon fill="#317bb9" stroke="#317bb9" stroke-width="0.6" points="685.7,1107.2 678.4,1107.2 671.0,1107.0 663.7,1106.8 662.0,1129.0 669.7,1129.3 677.5,1129.5 685.3,1129.5"/>
<polygon fill="#317cb9" stroke="#317cb9" stroke-width="0.6" points="663.7,1106.8 656.4,1106.3 649.1,1105.8 641.8,1105.1 638.4,1129.7 646.2,1130.5 654.0,1131.1 661.8,1131.6"/>
<polygon fill="#317db9" stroke="#317db9" stroke-width="0.6" points="641.8,1105.1 634.5,1104.2 627.2,1103.2 619.9,1102.1 615.1,1126.5 622.9,1127.7 630.6,1128.8 638.4,1129.7"/>
<polygon fill="#317fb9" stroke="#317fb9" stroke-width="0.6" points="619.9,1102.1 612.7,1100.8 605.5,1099.4 598.3,1097.8 592.1,1121.9 599.7,1123.6 607.4,1125.1 615.1,1126.5"/>
<polygon fill="#3180b9" stroke="#3180b9" stroke-width="0.6" points="598.3,1097.8 591.1,1096.1 584.0,1094.3 576.8,1092.3 569.2,1116.0 576.8,1118.1 584.4,1120.1 592.1,1121.9"/>
<polygon fill="#3181b9" stroke="#3181b9" stroke-width="0.6" points="576.8,1092.3 569.8,1090.2 562.7,1087.9 555.7,1085.5 547.7,1106.3 555.1,1108.9 562.6,1111.3 570.0,1113.5"/>
<polygon fill="#3282b8" stroke="#3282b8" stroke-width="0.6" points="555.7,1085.5 548.8,1083.0 541.9,1080.3 535.0,1077.5 525.8,1097.8 533.1,1100.8 540.4,1103.6 547.7,1106.3"/>
<polygon fill="#3284b8" stroke="#3284b8" stroke-width="0.6" points="535.0,1077.5 528.2,1074.6 521.5,1071.5 514.8,1068.3 504.4,1088.0 511.5,1091.4 518.6,1094.7 525.8,1097.8"/>
<polygon fill="#3285b8" stroke="#3285b8" stroke-width="0.6" points="514.8,1068.3 508.2,1065.0 501.6,1061.5 495.1,1057.9 483.6,1077.0 490.5,1080.8 497.4,1084.5 504.4,1088.0"/>
<polygon fill="#3286b8" stroke="#3286b8" stroke-width="0.6" points="495.1,1057.9 488.7,1054.2 482.3,1050.3 476.0,1046.4 461.3,1067.8 468.0,1072.1 474.8,1076.2 481.7,1080.2"/>
<polygon fill="#3287b8" stroke="#3287b8" stroke-width="0.6" points="476.0,1046.4 469.8,1042.3 463.7,1038.1 457.6,1033.7 441.7,1054.3 448.1,1058.9 454.7,1063.4 461.3,1067.8"/>
<polygon fill="#3289b8" stroke="#3289b8" stroke-width="0.6" points="457.6,1033.7 451.6,1029.3 445.7,1024.7 439.9,1020.0 422.8,1039.6 429.0,1044.6 435.3,1049.5 441.7,1054.3"/>
<polygon fill="#328ab7" stroke="#328ab7" stroke-width="0.6" points="439.9,1020.0 434.2,1015.2 428.6,1010.3 423.0,1005.2 404.8,1023.8 410.7,1029.2 416.7,1034.4 422.8,1039.6"/>
<polygon fill="#328bb7" stroke="#328bb7" stroke-width="0.6" points="423.0,1005.2 417.6,1000.1 412.3,994.9 407.0,989.5 383.8,1010.6 389.4,1016.4 395.2,1022.1 401.1,1027.7"/>
<polygon fill="#328cb7" stroke="#328cb7" stroke-width="0.6" points="407.0,989.5 401.9,984.1 396.9,978.5 391.9,972.8 367.5,992.6 372.8,998.7 378.2,1004.7 383.8,1010.6"/>
<polygon fill="#328db6" stroke="#328db6" stroke-width="0.6" points="391.9,972.8 387.1,967.1 382.4,961.2 377.8,955.3 352.3,973.6 357.2,980.0 362.3,986.3 367.5,992.6"/>
<polygon fill="#328eb6" stroke="#328eb6" stroke-width="0.6" points="377.8,955.3 373.3,949.3 368.9,943.1 364.7,936.9 338.1,953.7 342.7,960.4 347.4,967.0 352.3,973.6"/>
<polygon fill="#328fb5" stroke="#328fb5" stroke-width="0.6" points="364.7,936.9 360.6,930.6 356.6,924.3 352.7,917.8 316.3,937.8 320.6,945.0 325.0,952.1 329.6,959.1"/>
<polygon fill="#3290b5" stroke="#3290b5" stroke-width="0.6" points="352.7,917.8 348.9,911.3 345.3,904.6 341.7,898.0 304.3,915.9 308.2,923.3 312.2,930.6 316.3,937.8"/>
<polygon fill="#3291b5" stroke="#3291b5" stroke-width="0.6" points="341.7,898.0 338.4,891.2 335.1,884.4 332.0,877.5 293.6,893.2 297.0,900.8 300.6,908.4 304.3,915.9"/>
<polygon fill="#3292b4" stroke="#3292b4" stroke-width="0.6" points="332.0,877.5 329.0,870.5 326.1,863.5 323.4,856.5 284.2,869.9 287.1,877.7 290.3,885.5 293.6,893.2"/>
<polygon fill="#3293b4" stroke="#3293b4" stroke-width="0.6" points="323.4,856.5 320.8,849.3 318.4,842.2 316.1,834.9 270.5,847.6 273.1,855.7 275.8,863.8 278.7,871.8"/>
<polygon fill="#3294b4" stroke="#3294b4" stroke-width="0.6" points="316.1,834.9 313.9,827.7 311.9,820.3 310.0,813.0 263.8,823.0 265.9,831.2 268.1,839.5 270.5,847.6"/>
<polygon fill="#3295b3" stroke="#3295b3" stroke-width="0.6" points="310.0,813.0 308.2,805.6 306.6,798.1 305.2,790.7 258.5,798.0 260.1,806.3 261.8,814.7 263.8,823.0"/>
<polygon fill="#3296b3" stroke="#3296b3" stroke-width="0.6" points="305.2,790.7 303.9,783.2 302.7,775.6 301.7,768.1 254.6,772.6 255.7,781.1 257.0,789.6 258.5,798.0"/>
<polygon fill="#3297b2" stroke="#3297b2" stroke-width="0.6" points="301.7,768.1 300.8,760.5 300.1,752.9 299.5,745.3 252.5,747.1 253.2,755.6 253.9,764.1 254.9,772.6"/>
<polygon fill="#3298b2" stroke="#3298b2" stroke-width="0.6" points="299.5,745.3 299.1,737.6 298.8,730.0 298.6,722.4 251.6,721.4 251.8,730.0 252.1,738.6 252.5,747.1"/>
<polygon fill="#3299b2" stroke="#3299b2" stroke-width="0.6" points="298.6,722.4 298.6,714.7 298.8,707.0 299.1,699.4 252.3,695.7 251.9,704.3 251.7,712.9 251.6,721.4"/>
<polygon fill="#329ab1" stroke="#329ab1" stroke-width="0.6" points="299.1,699.4 299.6,691.7 300.2,684.1 300.9,676.5 254.4,670.1 253.5,678.6 252.8,687.2 252.3,695.7"/>
<polygon fill="#339cb1" stroke="#339cb1" stroke-width="0.6" points="300.9,676.5 301.8,668.8 302.9,661.2 304.1,653.6 254.4,643.9 253.1,652.4 251.8,661.0 250.8,669.6"/>
<polygon fill="#339db0" stroke="#339db0" stroke-width="0.6" points="304.1,653.6 305.4,646.1 306.9,638.5 308.6,631.0 259.6,618.4 257.7,626.8 256.0,635.3 254.4,643.9"/>
<polygon fill="#339eb0" stroke="#339eb0" stroke-width="0.6" points="308.6,631.0 310.4,623.5 312.3,616.0 314.4,608.6 266.2,593.2 263.8,601.5 261.6,609.9 259.6,618.4"/>
<polygon fill="#339fb0" stroke="#339fb0" stroke-width="0.6" points="314.4,608.6 316.6,601.2 319.0,593.9 321.5,586.6 274.3,568.3 271.4,576.6 268.7,584.8 266.2,593.2"/>
<polygon fill="#33a0af" stroke="#33a0af" stroke-width="0.6" points="321.5,586.6 324.1,579.3 326.9,572.1 329.9,564.9 277.1,540.9 273.7,549.1 270.4,557.4 267.4,565.7"/>
<polygon fill="#33a1af" stroke="#33a1af" stroke-width="0.6" points="329.9,564.9 332.9,557.8 336.2,550.8 339.5,543.8 288.2,516.8 284.3,524.8 280.6,532.8 277.1,540.9"/>
<polygon fill="#33a2ae" stroke="#33a2ae" stroke-width="0.6" points="339.5,543.8 343.0,536.9 346.6,530.0 350.4,523.2 300.7,493.3 296.4,501.0 292.2,508.9 288.2,516.8"/>
<polygon fill="#33a3ae" stroke="#33a3ae" stroke-width="0.6" points="350.4,523.2 354.3,516.5 358.3,509.9 362.5,503.3 314.6,470.5 309.9,478.0 305.2,485.6 300.7,493.3"/>
<polygon fill="#33a4ae" stroke="#33a4ae" stroke-width="0.6" points="362.5,503.3 366.8,496.8 371.2,490.4 375.7,484.1 328.3,447.3 323.0,454.6 317.9,461.9 313.0,469.4"/>
<polygon fill="#33a5ad" stroke="#33a5ad" stroke-width="0.6" points="375.7,484.1 380.4,477.8 385.2,471.7 390.1,465.6 344.9,426.2 339.2,433.1 333.7,440.2 328.3,447.3"/>
<polygon fill="#33a6ad" stroke="#33a6ad" stroke-width="0.6" points="390.1,465.6 395.1,459.7 400.2,453.8 405.5,448.0 362.7,406.0 356.6,412.6 350.7,419.3 344.9,426.2"/>
<polygon fill="#33a7ad" stroke="#33a7ad" stroke-width="0.6" points="405.5,448.0 410.9,442.3 416.4,436.8 421.9,431.3 381.6,386.9 375.2,393.1 368.9,399.5 362.7,406.0"/>
<polygon fill="#33a8ac" stroke="#33a8ac" stroke-width="0.6" points="421.9,431.3 427.7,425.9 433.5,420.7 439.4,415.6 405.5,373.5 398.8,379.3 392.1,385.3 385.7,391.3"/>
<polygon fill="#33a9ac" stroke="#33a9ac" stroke-width="0.6" points="439.4,415.6 445.4,410.5 451.5,405.6 457.7,400.8 426.3,356.9 419.3,362.3 412.3,367.9 405.5,373.5"/>
<polygon fill="#33aaab" stroke="#33aaab" stroke-width="0.6" points="457.7,400.8 464.0,396.2 470.4,391.6 476.9,387.2 448.1,341.5 440.8,346.5 433.5,351.6 426.3,356.9"/>
<polygon fill="#33abab" stroke="#33abab" stroke-width="0.6" points="476.9,387.2 483.5,382.9 490.2,378.7 496.9,374.6 470.8,327.3 463.2,331.9 455.6,336.6 448.1,341.5"/>
<polygon fill="#33acab" stroke="#33acab" stroke-width="0.6" points="496.9,374.6 503.7,370.7 510.6,366.9 517.6,363.2 494.3,314.5 486.4,318.7 478.6,322.9 470.8,327.3"/>
<polygon fill="#33adaa" stroke="#33adaa" stroke-width="0.6" points="517.6,363.2 524.7,359.7 531.8,356.3 539.0,353.1 518.6,303.1 510.4,306.8 502.3,310.6 494.3,314.5"/>
<polygon fill="#33aeaa" stroke="#33aeaa" stroke-width="0.6" points="539.0,353.1 546.3,350.0 553.6,347.0 561.0,344.2 543.5,293.1 535.1,296.3 526.8,299.6 518.6,303.1"/>
<polygon fill="#33afa9" stroke="#33afa9" stroke-width="0.6" points="561.0,344.2 568.4,341.5 575.9,338.9 583.5,336.5 569.0,284.5 560.4,287.2 551.9,290.1 543.5,293.1"/>
<polygon fill="#33afa8" stroke="#33afa8" stroke-width="0.6" points="583.5,336.5 591.1,334.3 598.7,332.2 606.4,330.2 594.3,274.5 585.6,276.7 576.8,279.1 568.2,281.6"/>
<polygon fill="#33afa7" stroke="#33afa7" stroke-width="0.6" points="606.4,330.2 614.1,328.4 621.9,326.7 629.7,325.2 620.9,268.9 612.0,270.6 603.1,272.5 594.3,274.5"/>
<polygon fill="#34b0a6" stroke="#34b0a6" stroke-width="0.6" points="629.7,325.2 637.5,323.9 645.4,322.6 653.3,321.6 647.8,264.9 638.8,266.0 629.8,267.4 620.9,268.9"/>
<polygon fill="#34b0a5" stroke="#34b0a5" stroke-width="0.6" points="653.3,321.6 661.2,320.7 669.1,319.9 677.1,319.3 674.9,262.4 665.8,263.0 656.8,263.9 647.8,264.9"/>
<polygon fill="#34b1a4" stroke="#34b1a4" stroke-width="0.6" points="677.1,319.3 685.0,318.9 693.0,318.6 701.0,318.5 702.1,261.5 693.0,261.6 683.9,261.9 674.9,262.4"/>
<polygon fill="#34b1a3" stroke="#34b1a3" stroke-width="0.6" points="701.0,318.5 709.0,318.5 717.0,318.7 724.9,319.0 729.4,262.2 720.3,261.8 711.2,261.5 702.1,261.5"/>
<polygon fill="#34b2a2" stroke="#34b2a2" stroke-width="0.6" points="724.9,319.0 732.9,319.5 740.9,320.1 748.9,320.9 756.6,264.4 747.5,263.5 738.4,262.7 729.4,262.2"/>
<polygon fill="#34b2a1" stroke="#34b2a1" stroke-width="0.6" points="748.9,320.9 756.8,321.9 764.8,323.0 772.7,324.2 783.7,268.3 774.7,266.8 765.6,265.5 756.6,264.4"/>
<polygon fill="#34b2a0" stroke="#34b2a0" stroke-width="0.6" points="772.7,324.2 780.6,325.6 788.5,327.2 796.3,328.9 810.3,274.7 801.4,272.7 792.4,270.9 783.5,269.3"/>
<polygon fill="#35b39f" stroke="#35b39f" stroke-width="0.6" points="796.3,328.9 804.1,330.8 811.9,332.8 819.6,335.0 836.7,281.7 828.0,279.2 819.1,276.9 810.3,274.7"/>
<polygon fill="#35b39f" stroke="#35b39f" stroke-width="0.6" points="819.6,335.0 827.3,337.3 835.0,339.8 842.6,342.5 862.8,290.2 854.2,287.2 845.5,284.4 836.7,281.7"/>
<polygon fill="#35b49e" stroke="#35b49e" stroke-width="0.6" points="842.6,342.5 850.2,345.2 857.7,348.2 865.2,351.2 888.3,300.2 879.9,296.7 871.4,293.4 862.8,290.2"/>
<polygon fill="#35b49d" stroke="#35b49d" stroke-width="0.6" points="865.2,351.2 872.6,354.4 879.9,357.8 887.2,361.3 909.6,318.8 901.5,314.9 893.3,311.1 885.0,307.5"/>
<polygon fill="#35b49c" stroke="#35b49c" stroke-width="0.6" points="887.2,361.3 894.4,365.0 901.6,368.8 908.6,372.7 933.4,331.6 925.6,327.2 917.6,322.9 909.6,318.8"/>
<polygon fill="#35b59b" stroke="#35b59b" stroke-width="0.6" points="908.6,372.7 915.6,376.8 922.6,381.0 929.4,385.3 956.6,345.7 948.9,340.9 941.2,336.1 933.4,331.6"/>
<polygon fill="#35b59a" stroke="#35b59a" stroke-width="0.6" points="929.4,385.3 936.2,389.8 942.8,394.4 949.4,399.1 978.8,361.2 971.5,355.9 964.1,350.7 956.6,345.7"/>
<polygon fill="#36b699" stroke="#36b699" stroke-width="0.6" points="949.4,399.1 955.9,404.0 962.3,409.0 968.7,414.1 995.0,384.0 988.1,378.4 981.1,372.9 973.9,367.5"/>
<polygon fill="#36b698" stroke="#36b698" stroke-width="0.6" points="968.7,414.1 974.9,419.4 981.0,424.7 987.0,430.2 1015.0,401.7 1008.4,395.6 1001.8,389.7 995.0,384.0"/>
<polygon fill="#36b797" stroke="#36b797" stroke-width="0.6" points="987.0,430.2 992.9,435.8 998.7,441.6 1004.4,447.4 1034.0,420.5 1027.8,414.1 1021.5,407.8 1015.0,401.7"/>
<polygon fill="#36b796" stroke="#36b796" stroke-width="0.6" points="1004.4,447.4 1010.0,453.4 1015.5,459.4 1020.8,465.6 1051.9,440.5 1046.1,433.7 1040.1,427.1 1034.0,420.5"/>
<polygon fill="#36b795" stroke="#36b795" stroke-width="0.6" points="1020.8,465.6 1026.0,471.9 1031.2,478.2 1036.1,484.7 1061.8,466.4 1056.4,459.4 1050.9,452.6 1045.3,445.8"/>
<polygon fill="#36b894" stroke="#36b894" stroke-width="0.6" points="1036.1,484.7 1041.0,491.3 1045.8,498.0 1050.4,504.8 1077.0,488.0 1072.1,480.7 1067.0,473.5 1061.8,466.4"/>
<polygon fill="#36b894" stroke="#36b894" stroke-width="0.6" points="1050.4,504.8 1054.8,511.6 1059.2,518.6 1063.4,525.6 1091.0,510.4 1086.5,502.8 1081.8,495.3 1077.0,488.0"/>
<polygon fill="#37b993" stroke="#37b993" stroke-width="0.6" points="1063.4,525.6 1067.5,532.7 1071.4,539.9 1075.2,547.2 1103.7,533.6 1099.6,525.8 1095.4,518.1 1091.0,510.4"/>
<polygon fill="#37b992" stroke="#37b992" stroke-width="0.6" points="1075.2,547.2 1078.9,554.6 1082.4,562.0 1085.8,569.5 1115.0,557.6 1111.4,549.5 1107.6,541.5 1103.7,533.6"/>
<polygon fill="#37b991" stroke="#37b991" stroke-width="0.6" points="1085.8,569.5 1089.1,577.1 1092.1,584.7 1095.1,592.4 1124.9,582.2 1121.7,573.9 1118.4,565.7 1115.0,557.6"/>
<polygon fill="#37ba90" stroke="#37ba90" stroke-width="0.6" points="1095.1,592.4 1097.9,600.2 1100.5,608.0 1103.0,615.9 1133.4,607.4 1130.7,599.0 1127.9,590.6 1124.9,582.2"/>
<polygon fill="#37ba8f" stroke="#37ba8f" stroke-width="0.6" points="1103.0,615.9 1105.4,623.8 1107.5,631.7 1109.6,639.8 1140.4,633.1 1138.2,624.5 1135.9,615.9 1133.4,607.4"/>
<polygon fill="#37bb8e" stroke="#37bb8e" stroke-width="0.6" points="1109.6,639.8 1111.5,647.8 1113.2,655.9 1114.8,664.0 1142.0,659.8 1140.4,651.1 1138.5,642.5 1136.6,633.9"/>
<polygon fill="#37bb8d" stroke="#37bb8d" stroke-width="0.6" points="1114.8,664.0 1116.2,672.2 1117.4,680.4 1118.5,688.6 1146.0,685.9 1144.8,677.2 1143.5,668.5 1142.0,659.8"/>
<polygon fill="#38bc8c" stroke="#38bc8c" stroke-width="0.6" points="1118.5,688.6 1119.4,696.9 1120.2,705.1 1120.8,713.4 1148.4,712.3 1147.8,703.5 1147.0,694.7 1146.0,685.9"/>
<polygon fill="#38bc8b" stroke="#38bc8b" stroke-width="0.6" points="1120.8,713.4 1121.3,721.7 1121.6,730.0 1121.7,738.3 1149.3,738.8 1149.2,730.0 1148.9,721.2 1148.4,712.3"/>
<polygon fill="#38bc8a" stroke="#38bc8a" stroke-width="0.6" points="1121.7,738.3 1121.7,746.6 1121.5,755.0 1121.1,763.3 1146.6,765.2 1146.9,756.4 1147.2,747.6 1147.2,738.8"/>
<polygon fill="#38bd89" stroke="#38bd89" stroke-width="0.6" points="1121.1,763.3 1120.6,771.6 1119.9,779.9 1119.1,788.2 1144.4,791.6 1145.3,782.9 1146.0,774.1 1146.6,765.2"/>
<polygon fill="#38bd89" stroke="#38bd89" stroke-width="0.6" points="1119.1,788.2 1118.1,796.5 1116.9,804.7 1115.6,813.0 1140.6,817.9 1142.1,809.2 1143.3,800.4 1144.4,791.6"/>
<polygon fill="#38bd88" stroke="#38bd88" stroke-width="0.6" points="1115.6,813.0 1114.1,821.2 1112.5,829.4 1110.7,837.6 1135.4,843.9 1137.3,835.3 1139.1,826.6 1140.6,817.9"/>
<polygon fill="#38bd87" stroke="#38bd87" stroke-width="0.6" points="1110.7,837.6 1108.7,845.7 1106.6,853.8 1104.3,861.9 1128.8,869.7 1131.2,861.2 1133.5,852.6 1135.6,844.0"/>
<polygon fill="#38bd86" stroke="#38bd86" stroke-width="0.6" points="1104.3,861.9 1101.9,869.9 1099.3,877.9 1096.6,885.8 1120.5,895.1 1123.5,886.7 1126.2,878.2 1128.8,869.7"/>
<polygon fill="#39bd85" stroke="#39bd85" stroke-width="0.6" points="1096.6,885.8 1093.7,893.7 1090.6,901.5 1087.4,909.3 1110.8,919.9 1114.2,911.7 1117.5,903.4 1120.5,895.1"/>
<polygon fill="#39bd84" stroke="#39bd84" stroke-width="0.6" points="1087.4,909.3 1084.0,917.0 1080.5,924.6 1076.9,932.2 1099.6,944.2 1103.5,936.2 1107.2,928.1 1110.8,919.9"/>
<polygon fill="#39bd83" stroke="#39bd83" stroke-width="0.6" points="1076.9,932.2 1073.1,939.7 1069.1,947.1 1065.0,954.5 1085.1,966.6 1089.4,958.8 1093.6,951.0 1097.6,943.1"/>
<polygon fill="#39bd82" stroke="#39bd82" stroke-width="0.6" points="1065.0,954.5 1060.8,961.8 1056.4,969.0 1051.9,976.1 1071.2,989.4 1075.9,981.9 1080.6,974.3 1085.1,966.6"/>
<polygon fill="#39bd81" stroke="#39bd81" stroke-width="0.6" points="1051.9,976.1 1047.2,983.2 1042.4,990.1 1037.4,997.0 1055.9,1011.3 1061.2,1004.1 1066.2,996.8 1071.2,989.4"/>
<polygon fill="#39bd80" stroke="#39bd80" stroke-width="0.6" points="1037.4,997.0 1032.4,1003.7 1027.2,1010.4 1021.8,1017.0 1039.4,1032.3 1045.1,1025.4 1050.6,1018.4 1055.9,1011.3"/>
<polygon fill="#39bd7f" stroke="#39bd7f" stroke-width="0.6" points="1021.8,1017.0 1016.3,1023.4 1010.8,1029.8 1005.0,1036.0 1025.7,1056.3 1031.8,1049.7 1037.8,1042.9 1043.7,1036.0"/>
<polygon fill="#3abd7e" stroke="#3abd7e" stroke-width="0.6" points="1005.0,1036.0 999.2,1042.2 993.2,1048.2 987.1,1054.1 1006.6,1075.6 1013.1,1069.3 1019.5,1062.9 1025.7,1056.3"/>
<polygon fill="#3abd7d" stroke="#3abd7d" stroke-width="0.6" points="987.1,1054.1 980.9,1059.9 974.6,1065.6 968.2,1071.2 986.4,1093.7 993.3,1087.8 1000.0,1081.8 1006.6,1075.6"/>
<polygon fill="#3abd7c" stroke="#3abd7c" stroke-width="0.6" points="968.2,1071.2 961.7,1076.6 955.0,1081.9 948.3,1087.1 965.1,1110.7 972.3,1105.2 979.4,1099.5 986.4,1093.7"/>
<polygon fill="#3abd7b" stroke="#3abd7b" stroke-width="0.6" points="948.3,1087.1 941.4,1092.2 934.5,1097.1 927.4,1101.9 943.9,1128.1 951.5,1123.0 958.9,1117.7 966.3,1112.3"/>
<polygon fill="#3abd7a" stroke="#3abd7a" stroke-width="0.6" points="927.4,1101.9 920.3,1106.6 913.0,1111.1 905.7,1115.5 920.7,1142.6 928.5,1137.9 936.3,1133.1 943.9,1128.1"/>
<polygon fill="#3abd79" stroke="#3abd79" stroke-width="0.6" points="905.7,1115.5 898.3,1119.7 890.8,1123.8 883.2,1127.7 896.6,1155.7 904.7,1151.5 912.7,1147.1 920.7,1142.6"/>
<polygon fill="#3abd78" stroke="#3abd78" stroke-width="0.6" points="883.2,1127.7 875.5,1131.5 867.8,1135.2 860.0,1138.7 871.7,1167.4 880.1,1163.7 888.4,1159.8 896.6,1155.7"/>
<polygon fill="#3bbe78" stroke="#3bbe78" stroke-width="0.6" points="860.0,1138.7 852.1,1142.1 844.2,1145.3 836.1,1148.3 847.5,1181.4 856.1,1178.2 864.7,1174.7 873.2,1171.1"/>
<polygon fill="#3bbe77" stroke="#3bbe77" stroke-width="0.6" points="836.1,1148.3 828.1,1151.2 819.9,1154.0 811.7,1156.6 821.1,1190.3 830.0,1187.5 838.8,1184.6 847.5,1181.4"/>
<polygon fill="#3bbe76" stroke="#3bbe76" stroke-width="0.6" points="811.7,1156.6 803.5,1159.0 795.2,1161.3 786.9,1163.4 794.3,1197.6 803.3,1195.3 812.2,1192.9 821.1,1190.3"/>
<polygon fill="#3bbe75" stroke="#3bbe75" stroke-width="0.6" points="786.9,1163.4 778.5,1165.3 770.1,1167.1 761.6,1168.7 767.0,1203.3 776.2,1201.6 785.2,1199.7 794.3,1197.6"/>
<polygon fill="#3bbe74" stroke="#3bbe74" stroke-width="0.6" points="761.6,1168.7 753.1,1170.2 744.6,1171.5 736.1,1172.6 740.2,1215.4 749.6,1214.2 758.9,1212.8 768.3,1211.2"/>
<polygon fill="#3bbe73" stroke="#3bbe73" stroke-width="0.6" points="736.1,1172.6 727.5,1173.6 718.9,1174.4 710.3,1175.0 711.9,1218.0 721.4,1217.3 730.8,1216.4 740.2,1215.4"/>
<polygon fill="#3bbe72" stroke="#3bbe72" stroke-width="0.6" points="710.3,1175.0 701.6,1175.5 693.0,1175.7 684.4,1175.9 683.5,1218.9 693.0,1218.7 702.5,1218.4 711.9,1218.0"/>
<polygon fill="#3cbe71" stroke="#3cbe71" stroke-width="0.6" points="684.4,1175.9 675.7,1175.8 667.0,1175.6 658.4,1175.3 655.1,1218.1 664.5,1218.6 674.0,1218.8 683.5,1218.9"/>
<polygon fill="#3cbe70" stroke="#3cbe70" stroke-width="0.6" points="658.4,1175.3 649.7,1174.7 641.1,1174.0 632.5,1173.1 626.8,1214.7 636.2,1215.7 645.7,1216.5 655.1,1217.1"/>
<polygon fill="#3cbe6f" stroke="#3cbe6f" stroke-width="0.6" points="632.5,1173.1 623.9,1172.1 615.3,1170.9 606.7,1169.5 598.6,1210.7 608.0,1212.2 617.4,1213.6 626.8,1214.7"/>
<polygon fill="#3cbe6e" stroke="#3cbe6e" stroke-width="0.6" points="606.7,1169.5 598.1,1167.9 589.6,1166.2 581.1,1164.3 570.7,1205.0 579.9,1207.1 589.3,1209.0 598.6,1210.7"/>
<polygon fill="#3cbe6d" stroke="#3cbe6d" stroke-width="0.6" points="581.1,1164.3 572.7,1162.3 564.2,1160.1 555.9,1157.7 543.0,1197.7 552.2,1200.3 561.4,1202.7 570.7,1205.0"/>
<polygon fill="#3cbe6c" stroke="#3cbe6c" stroke-width="0.6" points="555.9,1157.7 547.5,1155.2 539.2,1152.5 531.0,1149.6 511.9,1199.0 521.1,1202.3 530.4,1205.3 539.7,1208.2"/>
<polygon fill="#3cbe6b" stroke="#3cbe6b" stroke-width="0.6" points="531.0,1149.6 522.8,1146.6 514.7,1143.4 506.6,1140.0 484.7,1188.3 493.7,1192.1 502.8,1195.6 511.9,1199.0"/>
<polygon fill="#3dbe6a" stroke="#3dbe6a" stroke-width="0.6" points="506.6,1140.0 498.6,1136.5 490.7,1132.9 482.8,1129.1 458.1,1176.0 466.9,1180.2 475.7,1184.4 484.7,1188.3"/>
<polygon fill="#3dbe69" stroke="#3dbe69" stroke-width="0.6" points="482.8,1129.1 475.0,1125.1 467.3,1121.0 459.6,1116.7 432.2,1162.1 440.8,1166.9 449.4,1171.5 458.1,1176.0"/>
<polygon fill="#3dbe68" stroke="#3dbe68" stroke-width="0.6" points="459.6,1116.7 452.0,1112.3 444.6,1107.7 437.2,1103.0 403.2,1152.5 411.6,1157.9 420.1,1163.1 428.6,1168.1"/>
<polygon fill="#3dbe67" stroke="#3dbe67" stroke-width="0.6" points="437.2,1103.0 429.9,1098.2 422.6,1093.2 415.5,1088.0 378.8,1135.4 386.8,1141.3 395.0,1147.0 403.2,1152.5"/>
<polygon fill="#3ebe66" stroke="#3ebe66" stroke-width="0.6" points="415.5,1088.0 408.5,1082.7 401.6,1077.3 394.8,1071.8 355.3,1117.0 363.0,1123.3 370.8,1129.4 378.8,1135.4"/>
<polygon fill="#3fbe64" stroke="#3fbe64" stroke-width="0.6" points="394.8,1071.8 388.0,1066.1 381.4,1060.2 374.9,1054.3 332.9,1097.1 340.3,1103.9 347.7,1110.5 355.3,1117.0"/>
<polygon fill="#40be62" stroke="#40be62" stroke-width="0.6" points="374.9,1054.3 368.6,1048.2 362.3,1042.0 356.2,1035.7 310.2,1077.3 317.2,1084.6 324.3,1091.6 331.5,1098.6"/>
<polygon fill="#41bf61" stroke="#41bf61" stroke-width="0.6" points="356.2,1035.7 350.1,1029.2 344.2,1022.7 338.5,1016.0 290.2,1054.9 296.7,1062.5 303.4,1070.0 310.2,1077.3"/>
<polygon fill="#42bf5f" stroke="#42bf5f" stroke-width="0.6" points="338.5,1016.0 332.8,1009.2 327.3,1002.3 321.9,995.2 271.5,1031.3 277.6,1039.3 283.8,1047.2 290.2,1054.9"/>
<polygon fill="#43bf5d" stroke="#43bf5d" stroke-width="0.6" points="321.9,995.2 316.7,988.1 311.5,980.9 306.6,973.6 254.1,1006.6 259.7,1015.0 265.5,1023.2 271.5,1031.3"/>
<polygon fill="#44bf5b" stroke="#44bf5b" stroke-width="0.6" points="306.6,973.6 301.7,966.1 297.1,958.6 292.5,951.0 241.7,979.0 246.8,987.6 252.1,996.1 257.5,1004.5"/>
<polygon fill="#45bf59" stroke="#45bf59" stroke-width="0.6" points="292.5,951.0 288.1,943.3 283.9,935.5 279.8,927.6 227.4,952.6 232.0,961.5 236.8,970.3 241.7,979.0"/>
<polygon fill="#47c058" stroke="#47c058" stroke-width="0.6" points="279.8,927.6 275.8,919.6 272.0,911.6 268.4,903.5 214.7,925.4 218.8,934.6 223.0,943.6 227.4,952.6"/>
<polygon fill="#48c056" stroke="#48c056" stroke-width="0.6" points="268.4,903.5 264.9,895.3 261.6,887.0 258.4,878.7 203.5,897.5 207.1,906.9 210.8,916.2 214.7,925.4"/>
<polygon fill="#49c054" stroke="#49c054" stroke-width="0.6" points="258.4,878.7 255.4,870.3 252.6,861.9 249.9,853.4 194.0,868.9 197.0,878.5 200.2,888.0 203.5,897.5"/>
<polygon fill="#4ac052" stroke="#4ac052" stroke-width="0.6" points="249.9,853.4 247.4,844.8 245.0,836.2 242.8,827.5 186.2,839.8 188.6,849.6 191.2,859.3 194.0,868.9"/>
<polygon fill="#4bc050" stroke="#4bc050" stroke-width="0.6" points="242.8,827.5 240.8,818.8 239.0,810.1 237.3,801.3 180.0,810.2 181.9,820.1 183.9,830.0 186.2,839.8"/>
<polygon fill="#4cc14f" stroke="#4cc14f" stroke-width="0.6" points="237.3,801.3 235.8,792.5 234.5,783.6 233.3,774.7 175.6,780.3 176.9,790.3 178.3,800.3 180.0,810.2"/>
<polygon fill="#4dc14d" stroke="#4dc14d" stroke-width="0.6" points="233.3,774.7 232.3,765.8 231.5,756.9 230.8,747.9 170.9,750.3 171.6,760.4 172.5,770.5 173.6,780.5"/>
<polygon fill="#4ec14b" stroke="#4ec14b" stroke-width="0.6" points="230.8,747.9 230.4,739.0 230.1,730.0 230.0,721.0 170.0,719.9 170.1,730.0 170.4,740.1 170.9,750.3"/>
<polygon fill="#50c149" stroke="#50c149" stroke-width="0.6" points="230.0,721.0 230.0,712.0 230.2,703.0 230.6,694.1 170.8,689.4 170.3,699.6 170.0,709.7 170.0,719.9"/>
<polygon fill="#51c148" stroke="#51c148" stroke-width="0.6" points="230.6,694.1 231.2,685.1 231.9,676.1 232.9,667.2 173.4,659.0 172.3,669.1 171.5,679.3 170.8,689.4"/>
<polygon fill="#52c147" stroke="#52c147" stroke-width="0.6" points="232.9,667.2 234.0,658.2 235.2,649.3 236.7,640.4 180.7,629.4 179.1,639.4 177.6,649.4 176.4,659.4"/>
<polygon fill="#53c146" stroke="#53c146" stroke-width="0.6" points="236.7,640.4 238.3,631.5 240.1,622.7 242.0,613.8 186.8,599.6 184.6,609.5 182.6,619.4 180.7,629.4"/>
<polygon fill="#55c145" stroke="#55c145" stroke-width="0.6" points="242.0,613.8 244.2,605.1 246.5,596.3 248.9,587.6 194.7,570.2 191.9,580.0 189.3,589.8 186.8,599.6"/>
<polygon fill="#56c143" stroke="#56c143" stroke-width="0.6" points="248.9,587.6 251.6,579.0 254.4,570.4 257.4,561.8 204.2,541.3 200.8,550.9 197.7,560.5 194.7,570.2"/>
<polygon fill="#57c142" stroke="#57c142" stroke-width="0.6" points="257.4,561.8 260.5,553.3 263.8,544.9 267.3,536.5 215.4,512.9 211.5,522.3 207.8,531.8 204.2,541.3"/>
<polygon fill="#58c141" stroke="#58c141" stroke-width="0.6" points="267.3,536.5 271.0,528.2 274.8,520.0 278.7,511.8 228.3,485.2 223.8,494.4 219.5,503.6 215.4,512.9"/>
<polygon fill="#5ac140" stroke="#5ac140" stroke-width="0.6" points="278.7,511.8 282.9,503.7 287.1,495.7 291.6,487.7 242.8,458.3 237.8,467.2 232.9,476.2 228.3,485.2"/>
<polygon fill="#5bc13f" stroke="#5bc13f" stroke-width="0.6" points="291.6,487.7 296.2,479.9 300.9,472.1 305.8,464.5 258.8,432.2 253.3,440.8 247.9,449.5 242.8,458.3"/>
<polygon fill="#5cc03d" stroke="#5cc03d" stroke-width="0.6" points="305.8,464.5 310.9,456.9 316.1,449.4 321.4,442.0 278.7,408.9 272.7,417.1 266.9,425.5 261.3,433.9"/>
<polygon fill="#5dc03c" stroke="#5dc03c" stroke-width="0.6" points="321.4,442.0 326.9,434.7 332.5,427.5 338.3,420.5 297.6,385.0 291.2,392.8 284.9,400.8 278.7,408.9"/>
<polygon fill="#5fc03b" stroke="#5fc03b" stroke-width="0.6" points="338.3,420.5 344.2,413.5 350.3,406.6 356.4,399.9 317.9,362.1 311.0,369.6 304.2,377.2 297.6,385.0"/>
<polygon fill="#60c03a" stroke="#60c03a" stroke-width="0.6" points="356.4,399.9 362.8,393.3 369.2,386.8 375.8,380.4 339.5,340.4 332.2,347.5 324.9,354.7 317.9,362.1"/>
<polygon fill="#61c039" stroke="#61c039" stroke-width="0.6" points="375.8,380.4 382.5,374.2 389.3,368.1 396.2,362.1 363.0,320.8 355.2,327.5 347.6,334.3 340.2,341.2"/>
<polygon fill="#62c037" stroke="#62c037" stroke-width="0.6" points="396.2,362.1 403.3,356.2 410.5,350.5 417.8,344.9 386.9,301.8 378.8,308.0 370.8,314.3 363.0,320.8"/>
<polygon fill="#64c036" stroke="#64c036" stroke-width="0.6" points="417.8,344.9 425.2,339.5 432.7,334.2 440.3,329.0 412.0,284.2 403.5,289.9 395.2,295.8 386.9,301.8"/>
<polygon fill="#65c035" stroke="#65c035" stroke-width="0.6" points="440.3,329.0 448.0,324.0 455.8,319.2 463.7,314.5 438.1,268.1 429.3,273.3 420.6,278.7 412.0,284.2"/>
<polygon fill="#66c034" stroke="#66c034" stroke-width="0.6" points="463.7,314.5 471.7,309.9 479.8,305.5 488.0,301.3 466.0,255.3 456.9,259.9 448.0,264.8 439.1,269.8"/>
<polygon fill="#67c033" stroke="#67c033" stroke-width="0.6" points="488.0,301.3 496.3,297.2 504.6,293.3 513.0,289.5 493.7,242.3 484.4,246.4 475.2,250.8 466.0,255.3"/>
<polygon fill="#68c032" stroke="#68c032" stroke-width="0.6" points="513.0,289.5 521.5,285.9 530.1,282.4 538.7,279.2 522.2,230.9 512.7,234.5 503.2,238.3 493.7,242.3"/>
<polygon fill="#69c032" stroke="#69c032" stroke-width="0.6" points="538.7,279.2 547.4,276.1 556.2,273.1 565.0,270.3 551.4,221.2 541.6,224.3 531.9,227.5 522.2,230.9"/>
<polygon fill="#6ac032" stroke="#6ac032" stroke-width="0.6" points="565.0,270.3 573.9,267.7 582.9,265.3 591.9,263.1 581.3,214.2 571.3,216.7 561.5,219.3 551.6,222.2"/>
<polygon fill="#6bc031" stroke="#6bc031" stroke-width="0.6" points="591.9,263.1 600.9,261.0 610.0,259.1 619.1,257.3 611.3,207.9 601.3,209.8 591.2,211.9 581.3,214.2"/>
<polygon fill="#6bc031" stroke="#6bc031" stroke-width="0.6" points="619.1,257.3 628.2,255.8 637.4,254.4 646.6,253.2 641.8,203.4 631.6,204.7 621.5,206.2 611.3,207.9"/>
<polygon fill="#6cc031" stroke="#6cc031" stroke-width="0.6" points="646.6,253.2 655.9,252.2 665.1,251.3 674.4,250.7 672.5,200.7 662.2,201.4 652.0,202.3 641.8,203.4"/>
<polygon fill="#6dc031" stroke="#6dc031" stroke-width="0.6" points="674.4,250.7 683.7,250.2 693.0,249.9 702.3,249.8 703.3,199.3 693.0,199.4 682.7,199.7 672.4,200.2"/>
<polygon fill="#6ec031" stroke="#6ec031" stroke-width="0.6" points="702.3,249.8 711.6,249.8 720.9,250.1 730.3,250.5 734.2,200.1 723.9,199.7 713.6,199.4 703.3,199.3"/>
<polygon fill="#6ebf30" stroke="#6ebf30" stroke-width="0.6" points="730.3,250.5 739.6,251.1 748.9,251.9 758.2,252.8 765.0,202.8 754.7,201.7 744.5,200.8 734.2,200.1"/>
<polygon fill="#6fbf30" stroke="#6fbf30" stroke-width="0.6" points="758.2,252.8 767.4,254.0 776.7,255.3 785.9,256.8 795.7,207.3 785.5,205.6 775.2,204.1 765.0,202.8"/>
<polygon fill="#70bf30" stroke="#70bf30" stroke-width="0.6" points="785.9,256.8 795.1,258.5 804.3,260.4 813.4,262.4 825.2,216.9 815.1,214.6 805.1,212.6 795.0,210.7"/>
<polygon fill="#71bf30" stroke="#71bf30" stroke-width="0.6" points="813.4,262.4 822.5,264.6 831.6,267.0 840.6,269.6 855.0,224.8 845.1,222.0 835.1,219.3 825.2,216.9"/>
<polygon fill="#71bf30" stroke="#71bf30" stroke-width="0.6" points="840.6,269.6 849.6,272.3 858.5,275.3 867.4,278.4 884.3,234.5 874.6,231.1 864.8,227.9 855.0,224.8"/>
<polygon fill="#72bf2f" stroke="#72bf2f" stroke-width="0.6" points="867.4,278.4 876.2,281.6 884.9,285.1 893.6,288.7 913.0,245.9 903.5,241.9 893.9,238.1 884.3,234.5"/>
<polygon fill="#73bf2f" stroke="#73bf2f" stroke-width="0.6" points="893.6,288.7 902.2,292.5 910.7,296.4 919.2,300.5 940.4,260.3 931.2,255.8 921.8,251.4 912.4,247.3"/>
<polygon fill="#74bf2f" stroke="#74bf2f" stroke-width="0.6" points="919.2,300.5 927.6,304.8 935.9,309.3 944.1,313.9 967.6,274.9 958.7,269.9 949.6,265.0 940.4,260.3"/>
<polygon fill="#75bf2f" stroke="#75bf2f" stroke-width="0.6" points="944.1,313.9 952.3,318.6 960.3,323.6 968.3,328.7 994.0,291.1 985.3,285.6 976.5,280.1 967.6,274.9"/>
<polygon fill="#76bf2e" stroke="#76bf2e" stroke-width="0.6" points="968.3,328.7 976.1,333.9 983.9,339.3 991.5,344.8 1019.4,308.9 1011.0,302.8 1002.6,296.9 994.0,291.1"/>
<polygon fill="#77bf2e" stroke="#77bf2e" stroke-width="0.6" points="991.5,344.8 999.1,350.5 1006.5,356.4 1013.8,362.4 1044.1,327.7 1036.1,321.1 1027.9,314.7 1019.7,308.5"/>
<polygon fill="#78bf2e" stroke="#78bf2e" stroke-width="0.6" points="1013.8,362.4 1021.0,368.5 1028.1,374.8 1035.1,381.2 1067.3,348.3 1059.7,341.3 1052.0,334.4 1044.1,327.7"/>
<polygon fill="#79bf2d" stroke="#79bf2d" stroke-width="0.6" points="1035.1,381.2 1042.0,387.7 1048.7,394.4 1055.3,401.2 1089.3,370.3 1082.1,362.9 1074.8,355.5 1067.3,348.3"/>
<polygon fill="#7abe2d" stroke="#7abe2d" stroke-width="0.6" points="1055.3,401.2 1061.8,408.2 1068.1,415.3 1074.3,422.5 1110.1,393.6 1103.3,385.7 1096.4,377.9 1089.3,370.3"/>
<polygon fill="#7bbe2d" stroke="#7bbe2d" stroke-width="0.6" points="1074.3,422.5 1080.3,429.8 1086.3,437.2 1092.0,444.8 1124.6,421.5 1118.3,413.3 1112.0,405.3 1105.4,397.3"/>
<polygon fill="#7cbe2c" stroke="#7cbe2c" stroke-width="0.6" points="1092.0,444.8 1097.7,452.5 1103.2,460.2 1108.5,468.1 1142.3,446.8 1136.6,438.3 1130.7,429.8 1124.6,421.5"/>
<polygon fill="#7dbe2c" stroke="#7dbe2c" stroke-width="0.6" points="1108.5,468.1 1113.7,476.1 1118.7,484.2 1123.6,492.4 1158.6,473.1 1153.3,464.2 1147.9,455.5 1142.3,446.8"/>
<polygon fill="#7ebe2c" stroke="#7ebe2c" stroke-width="0.6" points="1123.6,492.4 1128.3,500.7 1132.8,509.1 1137.2,517.6 1173.3,500.3 1168.6,491.2 1163.7,482.1 1158.6,473.1"/>
<polygon fill="#80be2b" stroke="#80be2b" stroke-width="0.6" points="1137.2,517.6 1141.5,526.1 1145.5,534.8 1149.4,543.5 1183.7,529.5 1179.5,520.1 1175.1,510.8 1170.6,501.6"/>
<polygon fill="#81be2b" stroke="#81be2b" stroke-width="0.6" points="1149.4,543.5 1153.1,552.3 1156.7,561.2 1160.1,570.2 1195.1,558.2 1191.5,548.6 1187.7,539.0 1183.7,529.5"/>
<polygon fill="#82be2b" stroke="#82be2b" stroke-width="0.6" points="1160.1,570.2 1163.3,579.2 1166.3,588.3 1169.2,597.4 1204.8,587.5 1201.8,577.7 1198.5,567.9 1195.1,558.2"/>
<polygon fill="#83be2a" stroke="#83be2a" stroke-width="0.6" points="1169.2,597.4 1171.9,606.6 1174.4,615.9 1176.7,625.2 1212.9,617.4 1210.4,607.4 1207.7,597.4 1204.8,587.5"/>
<polygon fill="#84be2a" stroke="#84be2a" stroke-width="0.6" points="1176.7,625.2 1178.9,634.6 1180.8,644.0 1182.6,653.4 1216.7,648.1 1214.8,638.0 1212.7,627.9 1210.4,617.9"/>
<polygon fill="#85bd2a" stroke="#85bd2a" stroke-width="0.6" points="1182.6,653.4 1184.2,662.9 1185.6,672.4 1186.9,682.0 1221.2,678.6 1219.9,668.4 1218.4,658.2 1216.7,648.1"/>
<polygon fill="#86bd29" stroke="#86bd29" stroke-width="0.6" points="1186.9,682.0 1187.9,691.5 1188.8,701.1 1189.5,710.7 1224.0,709.4 1223.2,699.1 1222.3,688.9 1221.2,678.6"/>
<polygon fill="#87bd29" stroke="#87bd29" stroke-width="0.6" points="1189.5,710.7 1190.0,720.4 1190.3,730.0 1190.4,739.6 1224.9,740.3 1224.8,730.0 1224.5,719.7 1224.0,709.4"/>
<polygon fill="#88bd29" stroke="#88bd29" stroke-width="0.6" points="1190.4,739.6 1190.3,749.3 1190.1,758.9 1189.6,768.6 1222.0,771.1 1222.5,760.8 1222.8,750.6 1222.9,740.3"/>
<polygon fill="#89bd28" stroke="#89bd28" stroke-width="0.6" points="1189.6,768.6 1189.0,778.2 1188.2,787.9 1187.2,797.5 1219.4,801.9 1220.5,791.6 1221.3,781.4 1222.0,771.1"/>
<polygon fill="#8abd28" stroke="#8abd28" stroke-width="0.6" points="1187.2,797.5 1186.0,807.1 1184.6,816.7 1183.0,826.2 1214.9,832.5 1216.6,822.3 1218.1,812.1 1219.4,801.9"/>
<polygon fill="#8bbd28" stroke="#8bbd28" stroke-width="0.6" points="1183.0,826.2 1181.3,835.8 1179.3,845.3 1177.2,854.7 1208.7,862.8 1211.0,852.8 1213.0,842.6 1214.9,832.5"/>
<polygon fill="#8cbc27" stroke="#8cbc27" stroke-width="0.6" points="1177.2,854.7 1174.9,864.1 1172.4,873.5 1169.8,882.9 1206.6,894.7 1209.5,884.6 1212.2,874.5 1214.7,864.4"/>
<polygon fill="#8cbc27" stroke="#8cbc27" stroke-width="0.6" points="1169.8,882.9 1166.9,892.1 1163.9,901.4 1160.7,910.6 1196.8,924.5 1200.2,914.6 1203.5,904.7 1206.6,894.7"/>
<polygon fill="#8dbc27" stroke="#8dbc27" stroke-width="0.6" points="1160.7,910.6 1157.3,919.7 1153.7,928.7 1149.9,937.7 1185.2,953.7 1189.2,944.0 1193.1,934.3 1196.8,924.5"/>
<polygon fill="#8ebc26" stroke="#8ebc26" stroke-width="0.6" points="1149.9,937.7 1146.0,946.6 1141.9,955.5 1137.7,964.2 1171.9,982.3 1176.5,972.8 1180.9,963.3 1185.2,953.7"/>
<polygon fill="#8ebb26" stroke="#8ebb26" stroke-width="0.6" points="1137.7,964.2 1133.2,972.9 1128.6,981.5 1123.8,990.0 1155.9,1009.4 1161.1,1000.2 1166.1,991.0 1170.8,981.7"/>
<polygon fill="#8fbb26" stroke="#8fbb26" stroke-width="0.6" points="1123.8,990.0 1118.9,998.4 1113.8,1006.7 1108.5,1015.0 1139.4,1036.2 1145.1,1027.4 1150.6,1018.4 1155.9,1009.4"/>
<polygon fill="#8fbb25" stroke="#8fbb25" stroke-width="0.6" points="1108.5,1015.0 1103.1,1023.1 1097.5,1031.1 1091.7,1039.0 1121.4,1062.0 1127.6,1053.5 1133.6,1044.9 1139.4,1036.2"/>
<polygon fill="#90bb25" stroke="#90bb25" stroke-width="0.6" points="1091.7,1039.0 1085.8,1046.9 1079.8,1054.5 1073.6,1062.1 1101.8,1086.8 1108.5,1078.7 1115.0,1070.4 1121.4,1062.0"/>
<polygon fill="#91ba25" stroke="#91ba25" stroke-width="0.6" points="1073.6,1062.1 1067.2,1069.6 1060.7,1076.9 1054.1,1084.1 1081.2,1110.7 1088.4,1103.0 1095.4,1095.1 1102.2,1087.1"/>
<polygon fill="#91ba24" stroke="#91ba24" stroke-width="0.6" points="1054.1,1084.1 1047.3,1091.2 1040.4,1098.2 1033.3,1105.0 1058.8,1133.1 1066.4,1125.8 1073.9,1118.4 1081.2,1110.7"/>
<polygon fill="#92ba24" stroke="#92ba24" stroke-width="0.6" points="1033.3,1105.0 1026.1,1111.7 1018.8,1118.2 1011.3,1124.7 1035.2,1154.2 1043.2,1147.4 1051.1,1140.3 1058.8,1133.1"/>
<polygon fill="#93ba24" stroke="#93ba24" stroke-width="0.6" points="1011.3,1124.7 1003.7,1130.9 996.0,1137.0 988.2,1143.0 1010.3,1173.9 1018.7,1167.5 1027.0,1161.0 1035.2,1154.2"/>
<polygon fill="#93b924" stroke="#93b924" stroke-width="0.6" points="988.2,1143.0 980.3,1148.8 972.2,1154.5 964.0,1160.0 985.4,1193.9 994.2,1187.9 1002.9,1181.8 1011.5,1175.6"/>
<polygon fill="#94b923" stroke="#94b923" stroke-width="0.6" points="964.0,1160.0 955.8,1165.4 947.4,1170.6 938.9,1175.6 958.2,1210.6 967.4,1205.2 976.4,1199.6 985.4,1193.9"/>
<polygon fill="#95b923" stroke="#95b923" stroke-width="0.6" points="938.9,1175.6 930.3,1180.5 921.6,1185.2 912.8,1189.7 930.1,1225.8 939.6,1220.9 948.9,1215.9 958.2,1210.6"/>
<polygon fill="#95b923" stroke="#95b923" stroke-width="0.6" points="912.8,1189.7 904.0,1194.1 895.0,1198.3 886.0,1202.3 901.1,1239.3 910.8,1235.0 920.5,1230.5 930.1,1225.8"/>
<polygon fill="#96b822" stroke="#96b822" stroke-width="0.6" points="886.0,1202.3 876.8,1206.2 867.7,1209.8 858.4,1213.3 871.7,1252.1 881.7,1248.4 891.6,1244.4 901.5,1240.3"/>
<polygon fill="#96b822" stroke="#96b822" stroke-width="0.6" points="858.4,1213.3 849.0,1216.7 839.6,1219.8 830.2,1222.7 841.2,1262.2 851.4,1259.1 861.6,1255.7 871.7,1252.1"/>
<polygon fill="#97b822" stroke="#97b822" stroke-width="0.6" points="830.2,1222.7 820.6,1225.5 811.1,1228.1 801.4,1230.5 810.1,1270.6 820.5,1268.0 830.9,1265.2 841.2,1262.2"/>
<polygon fill="#98b821" stroke="#98b821" stroke-width="0.6" points="801.4,1230.5 791.7,1232.7 782.0,1234.8 772.2,1236.6 778.6,1277.1 789.1,1275.1 799.6,1273.0 810.1,1270.6"/>
<polygon fill="#98b721" stroke="#98b721" stroke-width="0.6" points="772.2,1236.6 762.4,1238.2 752.6,1239.7 742.7,1241.0 747.3,1287.8 758.0,1286.4 768.8,1284.8 779.5,1283.0"/>
<polygon fill="#99b721" stroke="#99b721" stroke-width="0.6" points="742.7,1241.0 732.8,1242.1 722.9,1242.9 712.9,1243.6 714.8,1290.6 725.6,1289.9 736.4,1288.9 747.3,1287.8"/>
<polygon fill="#9ab721" stroke="#9ab721" stroke-width="0.6" points="712.9,1243.6 703.0,1244.1 693.0,1244.4 683.0,1244.6 682.1,1291.6 693.0,1291.4 703.9,1291.1 714.8,1290.6"/>
<polygon fill="#9ab720" stroke="#9ab720" stroke-width="0.6" points="683.0,1244.6 673.0,1244.5 663.1,1244.2 653.1,1243.7 649.4,1290.6 660.3,1291.1 671.2,1291.5 682.1,1291.6"/>
<polygon fill="#9bb620" stroke="#9bb620" stroke-width="0.6" points="653.1,1243.7 643.1,1243.1 633.1,1242.2 623.2,1241.2 617.2,1285.3 628.0,1286.4 638.8,1287.4 649.6,1288.1"/>
<polygon fill="#9cb620" stroke="#9cb620" stroke-width="0.6" points="623.2,1241.2 613.2,1239.9 603.3,1238.5 593.5,1236.9 584.9,1280.6 595.6,1282.3 606.4,1283.9 617.2,1285.3"/>
<polygon fill="#9cb61f" stroke="#9cb61f" stroke-width="0.6" points="593.5,1236.9 583.6,1235.1 573.8,1233.1 564.0,1230.9 552.9,1274.0 563.5,1276.4 574.2,1278.6 584.9,1280.6"/>
<polygon fill="#9db61f" stroke="#9db61f" stroke-width="0.6" points="564.0,1230.9 554.2,1228.5 544.5,1225.9 534.9,1223.1 521.3,1265.5 531.8,1268.5 542.3,1271.3 552.9,1274.0"/>
<polygon fill="#9db51f" stroke="#9db51f" stroke-width="0.6" points="534.9,1223.1 525.3,1220.2 515.7,1217.0 506.3,1213.7 489.9,1256.1 500.2,1259.8 510.6,1263.2 521.0,1266.4"/>
<polygon fill="#9eb51e" stroke="#9eb51e" stroke-width="0.6" points="506.3,1213.7 496.8,1210.2 487.5,1206.5 478.2,1202.6 459.4,1244.0 469.5,1248.2 479.6,1252.3 489.9,1256.1"/>
<polygon fill="#9fb51e" stroke="#9fb51e" stroke-width="0.6" points="478.2,1202.6 469.0,1198.5 459.8,1194.3 450.8,1189.9 429.6,1230.1 439.4,1234.9 449.3,1239.6 459.4,1244.0"/>
<polygon fill="#9fb51e" stroke="#9fb51e" stroke-width="0.6" points="450.8,1189.9 441.8,1185.3 432.9,1180.5 424.1,1175.5 400.6,1214.5 410.2,1219.9 419.8,1225.1 429.6,1230.1"/>
<polygon fill="#a0b41d" stroke="#a0b41d" stroke-width="0.6" points="424.1,1175.5 415.4,1170.4 406.8,1165.1 398.3,1159.7 371.7,1198.4 381.0,1204.4 390.4,1210.2 399.8,1215.8"/>
<polygon fill="#a1b41d" stroke="#a1b41d" stroke-width="0.6" points="398.3,1159.7 389.9,1154.1 381.6,1148.3 373.4,1142.3 344.6,1179.5 353.6,1186.0 362.6,1192.3 371.7,1198.4"/>
<polygon fill="#a1b41d" stroke="#a1b41d" stroke-width="0.6" points="373.4,1142.3 365.4,1136.2 357.4,1129.9 349.6,1123.5 318.7,1158.9 327.2,1165.9 335.9,1172.8 344.6,1179.5"/>
<polygon fill="#a2b31d" stroke="#a2b31d" stroke-width="0.6" points="349.6,1123.5 341.9,1116.9 334.3,1110.2 326.8,1103.3 293.9,1136.9 302.0,1144.4 310.3,1151.7 318.7,1158.9"/>
<polygon fill="#a2b21c" stroke="#a2b21c" stroke-width="0.6" points="326.8,1103.3 319.5,1096.3 312.3,1089.2 305.3,1081.8 270.3,1113.6 277.9,1121.6 285.7,1129.4 293.7,1137.1"/>
<polygon fill="#a3b11c" stroke="#a3b11c" stroke-width="0.6" points="305.3,1081.8 298.4,1074.4 291.6,1066.8 285.0,1059.1 248.2,1088.8 255.4,1097.2 262.7,1105.5 270.3,1113.6"/>
<polygon fill="#a3b11c" stroke="#a3b11c" stroke-width="0.6" points="285.0,1059.1 278.5,1051.3 272.2,1043.3 266.0,1035.2 227.5,1062.7 234.2,1071.5 241.1,1080.2 248.2,1088.8"/>
<polygon fill="#a4b01c" stroke="#a4b01c" stroke-width="0.6" points="266.0,1035.2 260.0,1027.0 254.2,1018.6 248.5,1010.2 208.4,1035.4 214.6,1044.6 221.0,1053.7 227.5,1062.7"/>
<polygon fill="#a4af1c" stroke="#a4af1c" stroke-width="0.6" points="248.5,1010.2 242.9,1001.6 237.6,993.0 232.4,984.2 193.0,1005.9 198.6,1015.5 204.4,1024.9 210.4,1034.2"/>
<polygon fill="#a5af1b" stroke="#a5af1b" stroke-width="0.6" points="232.4,984.2 227.3,975.3 222.5,966.3 217.8,957.2 177.2,976.6 182.3,986.5 187.5,996.3 193.0,1005.9"/>
<polygon fill="#a5ae1b" stroke="#a5ae1b" stroke-width="0.6" points="217.8,957.2 213.3,948.1 208.9,938.8 204.8,929.5 163.1,946.5 167.6,956.6 172.3,966.7 177.2,976.6"/>
<polygon fill="#a6ad1b" stroke="#a6ad1b" stroke-width="0.6" points="204.8,929.5 200.8,920.0 197.0,910.5 193.4,900.9 150.8,915.5 154.7,925.9 158.8,936.2 163.1,946.5"/>
<polygon fill="#a6ac1b" stroke="#a6ac1b" stroke-width="0.6" points="193.4,900.9 190.0,891.3 186.8,881.6 183.7,871.8 138.4,884.4 141.7,895.0 145.2,905.6 148.9,916.2"/>
<polygon fill="#a7ac1a" stroke="#a7ac1a" stroke-width="0.6" points="183.7,871.8 180.9,861.9 178.2,852.0 175.7,842.1 129.8,852.0 132.4,862.9 135.3,873.6 138.4,884.4"/>
<polygon fill="#a7ab1a" stroke="#a7ab1a" stroke-width="0.6" points="175.7,842.1 173.4,832.0 171.3,822.0 169.4,811.9 123.0,819.2 125.0,830.2 127.3,841.1 129.8,852.0"/>
<polygon fill="#a8aa1a" stroke="#a8aa1a" stroke-width="0.6" points="169.4,811.9 167.7,801.7 166.2,791.6 164.9,781.4 118.1,785.9 119.6,797.0 121.2,808.1 123.0,819.2"/>
<polygon fill="#a8aa1a" stroke="#a8aa1a" stroke-width="0.6" points="164.9,781.4 163.8,771.1 162.9,760.9 162.2,750.6 115.7,752.4 116.5,763.6 117.5,774.7 118.6,785.9"/>
<polygon fill="#a9a91a" stroke="#a9a91a" stroke-width="0.6" points="162.2,750.6 161.7,740.3 161.4,730.0 161.3,719.7 114.8,718.8 114.9,730.0 115.2,741.2 115.7,752.4"/>
<polygon fill="#a9a819" stroke="#a9a819" stroke-width="0.6" points="161.3,719.7 161.4,709.4 161.6,699.1 162.1,688.7 115.8,685.1 115.2,696.4 114.9,707.6 114.8,718.8"/>
<polygon fill="#aaa719" stroke="#aaa719" stroke-width="0.6" points="162.1,688.7 162.8,678.4 163.7,668.1 164.8,657.9 118.7,651.6 117.5,662.7 116.5,673.9 115.8,685.1"/>
<polygon fill="#aaa719" stroke="#aaa719" stroke-width="0.6" points="164.8,657.9 166.1,647.6 167.6,637.4 169.3,627.1 126.1,618.7 124.2,629.7 122.6,640.8 121.2,651.9"/>
<polygon fill="#aba619" stroke="#aba619" stroke-width="0.6" points="169.3,627.1 171.1,617.0 173.2,606.8 175.5,596.7 132.9,585.7 130.4,596.7 128.1,607.6 126.1,618.7"/>
<polygon fill="#aba518" stroke="#aba518" stroke-width="0.6" points="175.5,596.7 178.0,586.6 180.7,576.6 183.5,566.6 141.6,553.2 138.5,564.0 135.6,574.8 132.9,585.7"/>
<polygon fill="#aca418" stroke="#aca418" stroke-width="0.6" points="183.5,566.6 186.6,556.7 189.8,546.9 193.3,537.1 152.2,521.2 148.5,531.8 145.0,542.5 141.6,553.2"/>
<polygon fill="#aca418" stroke="#aca418" stroke-width="0.6" points="193.3,537.1 196.9,527.3 200.8,517.7 204.8,508.1 165.6,490.3 161.3,500.6 157.1,511.1 153.2,521.6"/>
<polygon fill="#ada318" stroke="#ada318" stroke-width="0.6" points="204.8,508.1 209.0,498.6 213.4,489.1 217.9,479.8 179.9,459.7 174.9,469.8 170.2,480.0 165.6,490.3"/>
<polygon fill="#ada218" stroke="#ada218" stroke-width="0.6" points="217.9,479.8 222.7,470.5 227.6,461.3 232.8,452.2 195.9,430.0 190.4,439.8 185.1,449.7 179.9,459.7"/>
<polygon fill="#aea217" stroke="#aea217" stroke-width="0.6" points="232.8,452.2 238.0,443.3 243.5,434.4 249.2,425.6 213.7,401.3 207.6,410.7 201.7,420.3 195.9,430.0"/>
<polygon fill="#aea117" stroke="#aea117" stroke-width="0.6" points="249.2,425.6 255.0,416.9 261.0,408.4 267.1,399.9 235.5,375.4 228.9,384.5 222.4,393.7 216.2,403.0"/>
<polygon fill="#afa017" stroke="#afa017" stroke-width="0.6" points="267.1,399.9 273.4,391.6 279.9,383.4 286.5,375.3 256.4,349.0 249.3,357.7 242.3,366.5 235.5,375.4"/>
<polygon fill="#af9f17" stroke="#af9f17" stroke-width="0.6" points="286.5,375.3 293.3,367.3 300.3,359.5 307.4,351.8 278.8,323.8 271.2,332.1 263.7,340.5 256.4,349.0"/>
<polygon fill="#b09f16" stroke="#b09f16" stroke-width="0.6" points="307.4,351.8 314.7,344.3 322.1,336.8 329.6,329.6 302.7,299.9 294.6,307.7 286.6,315.7 278.8,323.8"/>
<polygon fill="#b09e16" stroke="#b09e16" stroke-width="0.6" points="329.6,329.6 337.3,322.4 345.1,315.4 353.1,308.6 330.5,280.6 322.0,287.9 313.6,295.3 305.4,302.9"/>
<polygon fill="#b19d16" stroke="#b19d16" stroke-width="0.6" points="353.1,308.6 361.2,301.9 369.5,295.4 377.8,289.0 356.9,259.8 348.0,266.5 339.2,273.5 330.5,280.6"/>
<polygon fill="#b19d16" stroke="#b19d16" stroke-width="0.6" points="377.8,289.0 386.3,282.8 394.9,276.8 403.7,270.9 384.5,240.5 375.1,246.7 365.9,253.2 356.9,259.8"/>
<polygon fill="#b29c16" stroke="#b29c16" stroke-width="0.6" points="403.7,270.9 412.5,265.2 421.5,259.7 430.5,254.3 413.1,222.8 403.5,228.5 393.9,234.4 384.5,240.5"/>
<polygon fill="#b29b15" stroke="#b29b15" stroke-width="0.6" points="430.5,254.3 439.7,249.1 449.0,244.1 458.4,239.3 442.7,206.5 432.7,211.7 422.8,217.0 413.0,222.5"/>
<polygon fill="#b39a15" stroke="#b39a15" stroke-width="0.6" points="458.4,239.3 467.8,234.6 477.4,230.2 487.0,225.9 473.3,192.3 463.0,196.8 452.8,201.6 442.7,206.5"/>
<polygon fill="#b39915" stroke="#b39915" stroke-width="0.6" points="487.0,225.9 496.8,221.8 506.6,217.9 516.5,214.2 504.7,179.8 494.2,183.8 483.7,187.9 473.3,192.3"/>
<polygon fill="#b39815" stroke="#b39815" stroke-width="0.6" points="516.5,214.2 526.5,210.6 536.5,207.3 546.6,204.2 536.9,169.2 526.1,172.5 515.4,176.1 504.7,179.8"/>
<polygon fill="#b39715" stroke="#b39715" stroke-width="0.6" points="546.6,204.2 556.8,201.2 567.0,198.5 577.3,195.9 569.3,158.8 558.3,161.5 547.3,164.4 536.4,167.6"/>
<polygon fill="#b39615" stroke="#b39615" stroke-width="0.6" points="577.3,195.9 587.6,193.6 598.0,191.4 608.5,189.5 602.6,151.9 591.4,154.0 580.3,156.3 569.3,158.8"/>
<polygon fill="#b49514" stroke="#b49514" stroke-width="0.6" points="608.5,189.5 618.9,187.7 629.4,186.2 640.0,184.8 636.3,147.0 625.0,148.4 613.8,150.1 602.6,151.9"/>
<polygon fill="#b49414" stroke="#b49414" stroke-width="0.6" points="640.0,184.8 650.5,183.7 661.1,182.8 671.7,182.0 670.3,144.1 658.9,144.8 647.6,145.8 636.3,147.0"/>
<polygon fill="#b49314" stroke="#b49314" stroke-width="0.6" points="671.7,182.0 682.4,181.5 693.0,181.2 703.6,181.1 704.4,142.6 693.0,142.7 681.6,143.0 670.2,143.6"/>
<polygon fill="#b49214" stroke="#b49214" stroke-width="0.6" points="703.6,181.1 714.3,181.2 724.9,181.5 735.6,182.0 738.6,143.6 727.2,143.1 715.8,142.7 704.4,142.6"/>
<polygon fill="#b49114" stroke="#b49114" stroke-width="0.6" points="735.6,182.0 746.2,182.7 756.9,183.6 767.5,184.8 772.7,146.6 761.3,145.4 750.0,144.4 738.6,143.6"/>
<polygon fill="#b49014" stroke="#b49014" stroke-width="0.6" points="767.5,184.8 778.1,186.1 788.6,187.7 799.2,189.4 806.6,151.6 795.3,149.7 784.0,148.1 772.7,146.6"/>
<polygon fill="#b48f14" stroke="#b48f14" stroke-width="0.6" points="799.2,189.4 809.7,191.4 820.1,193.5 830.6,195.9 839.8,160.0 828.7,157.5 817.5,155.2 806.3,153.1"/>
<polygon fill="#b48e14" stroke="#b48e14" stroke-width="0.6" points="830.6,195.9 841.0,198.4 851.3,201.2 861.6,204.2 872.9,168.9 861.9,165.8 850.9,162.8 839.8,160.0"/>
<polygon fill="#b58d13" stroke="#b58d13" stroke-width="0.6" points="861.6,204.2 871.8,207.3 882.0,210.7 892.1,214.3 905.4,179.8 894.7,175.9 883.8,172.3 872.9,168.9"/>
<polygon fill="#b58c13" stroke="#b58c13" stroke-width="0.6" points="892.1,214.3 902.2,218.0 912.1,222.0 922.0,226.1 937.3,192.5 926.8,188.0 916.1,183.8 905.4,179.8"/>
<polygon fill="#b58b13" stroke="#b58b13" stroke-width="0.6" points="922.0,226.1 931.8,230.5 941.6,235.0 951.2,239.8 971.7,200.8 961.3,195.7 950.8,190.8 940.2,186.1"/>
<polygon fill="#b58a13" stroke="#b58a13" stroke-width="0.6" points="951.2,239.8 960.8,244.7 970.3,249.8 979.6,255.1 1002.4,217.4 992.3,211.7 982.0,206.1 971.7,200.8"/>
<polygon fill="#b58813" stroke="#b58813" stroke-width="0.6" points="979.6,255.1 988.9,260.5 998.1,266.2 1007.1,272.0 1032.0,235.7 1022.2,229.4 1012.4,223.3 1002.4,217.4"/>
<polygon fill="#b58713" stroke="#b58713" stroke-width="0.6" points="1007.1,272.0 1016.1,278.0 1024.9,284.2 1033.6,290.5 1060.6,255.8 1051.2,248.9 1041.7,242.2 1032.0,235.7"/>
<polygon fill="#b58612" stroke="#b58612" stroke-width="0.6" points="1033.6,290.5 1042.2,297.1 1050.7,303.7 1059.0,310.6 1087.9,277.4 1078.9,270.0 1069.8,262.8 1060.6,255.8"/>
<polygon fill="#b58412" stroke="#b58412" stroke-width="0.6" points="1059.0,310.6 1067.2,317.6 1075.3,324.8 1083.2,332.1 1114.0,300.7 1105.5,292.8 1096.8,285.0 1087.9,277.4"/>
<polygon fill="#b58312" stroke="#b58312" stroke-width="0.6" points="1083.2,332.1 1091.0,339.6 1098.7,347.3 1106.2,355.1 1138.7,325.5 1130.7,317.1 1122.4,308.8 1114.0,300.7"/>
<polygon fill="#b68212" stroke="#b68212" stroke-width="0.6" points="1106.2,355.1 1113.5,363.0 1120.7,371.1 1127.8,379.3 1162.0,351.7 1154.4,342.8 1146.7,334.1 1138.7,325.5"/>
<polygon fill="#b68011" stroke="#b68011" stroke-width="0.6" points="1127.8,379.3 1134.6,387.7 1141.4,396.2 1147.9,404.8 1188.6,375.8 1181.5,366.3 1174.2,357.1 1166.7,347.9"/>
<polygon fill="#b67f11" stroke="#b67f11" stroke-width="0.6" points="1147.9,404.8 1154.3,413.6 1160.5,422.5 1166.6,431.5 1208.9,404.8 1202.3,395.0 1195.6,385.3 1188.6,375.8"/>
<polygon fill="#b67e11" stroke="#b67e11" stroke-width="0.6" points="1166.6,431.5 1172.5,440.6 1178.2,449.9 1183.7,459.2 1227.5,435.1 1221.5,424.9 1215.3,414.8 1208.9,404.8"/>
<polygon fill="#b67c11" stroke="#b67c11" stroke-width="0.6" points="1183.7,459.2 1189.1,468.7 1194.2,478.3 1199.2,487.9 1244.3,466.4 1238.9,455.8 1233.3,445.4 1227.5,435.1"/>
<polygon fill="#b67b10" stroke="#b67b10" stroke-width="0.6" points="1199.2,487.9 1204.0,497.7 1208.6,507.6 1213.0,517.5 1258.8,498.8 1254.0,488.0 1249.1,477.2 1243.9,466.6"/>
<polygon fill="#b67910" stroke="#b67910" stroke-width="0.6" points="1213.0,517.5 1217.2,527.6 1221.3,537.7 1225.1,547.9 1271.9,531.9 1267.8,520.8 1263.4,509.8 1258.8,498.8"/>
<polygon fill="#b67810" stroke="#b67810" stroke-width="0.6" points="1225.1,547.9 1228.7,558.2 1232.1,568.6 1235.4,579.0 1283.1,565.7 1279.6,554.4 1275.9,543.1 1271.9,531.9"/>
<polygon fill="#b67710" stroke="#b67710" stroke-width="0.6" points="1235.4,579.0 1238.4,589.5 1241.2,600.1 1243.9,610.7 1292.2,600.2 1289.4,588.6 1286.3,577.2 1283.1,565.7"/>
<polygon fill="#b6750f" stroke="#b6750f" stroke-width="0.6" points="1243.9,610.7 1246.3,621.3 1248.5,632.0 1250.5,642.8 1298.9,635.2 1296.8,623.5 1294.4,611.9 1291.8,600.3"/>
<polygon fill="#b7740f" stroke="#b7740f" stroke-width="0.6" points="1250.5,642.8 1252.3,653.6 1253.9,664.4 1255.3,675.3 1304.0,670.6 1302.6,658.7 1300.8,647.0 1298.9,635.2"/>
<polygon fill="#b7730f" stroke="#b7730f" stroke-width="0.6" points="1255.3,675.3 1256.4,686.2 1257.4,697.1 1258.1,708.1 1307.1,706.2 1306.3,694.3 1305.3,682.4 1304.0,670.6"/>
<polygon fill="#b7710f" stroke="#b7710f" stroke-width="0.6" points="1258.1,708.1 1258.7,719.0 1259.0,730.0 1259.1,741.0 1308.1,741.9 1308.0,730.0 1307.6,718.1 1307.1,706.2"/>
<polygon fill="#b7700e" stroke="#b7700e" stroke-width="0.6" points="1259.1,741.0 1259.0,752.0 1258.7,762.9 1258.1,773.9 1306.5,777.7 1307.1,765.8 1307.4,753.8 1307.6,741.9"/>
<polygon fill="#b76f0e" stroke="#b76f0e" stroke-width="0.6" points="1258.1,773.9 1257.4,784.9 1256.4,795.8 1255.2,806.8 1303.3,813.4 1304.6,801.5 1305.6,789.6 1306.5,777.7"/>
<polygon fill="#b76d0e" stroke="#b76d0e" stroke-width="0.6" points="1255.2,806.8 1253.9,817.7 1252.3,828.6 1250.4,839.5 1298.0,848.8 1300.0,837.0 1301.8,825.2 1303.3,813.4"/>
<polygon fill="#b76c0e" stroke="#b76c0e" stroke-width="0.6" points="1250.4,839.5 1248.4,850.3 1246.2,861.1 1243.8,871.9 1290.7,884.0 1293.4,872.3 1295.8,860.6 1298.0,848.8"/>
<polygon fill="#b76a0e" stroke="#b76a0e" stroke-width="0.6" points="1243.8,871.9 1241.1,882.6 1238.2,893.2 1235.2,903.8 1282.3,919.0 1285.7,907.4 1288.8,895.8 1291.7,884.2"/>
<polygon fill="#b7690e" stroke="#b7690e" stroke-width="0.6" points="1235.2,903.8 1231.9,914.4 1228.4,924.9 1224.7,935.3 1270.9,953.1 1274.9,941.8 1278.7,930.4 1282.3,919.0"/>
<polygon fill="#b8680d" stroke="#b8680d" stroke-width="0.6" points="1224.7,935.3 1220.9,945.7 1216.8,955.9 1212.5,966.1 1257.6,986.6 1262.2,975.5 1266.7,964.4 1270.9,953.1"/>
<polygon fill="#b8660d" stroke="#b8660d" stroke-width="0.6" points="1212.5,966.1 1208.0,976.3 1203.3,986.3 1198.4,996.2 1242.2,1019.3 1247.6,1008.5 1252.7,997.6 1257.6,986.6"/>
<polygon fill="#b8650d" stroke="#b8650d" stroke-width="0.6" points="1198.4,996.2 1193.4,1006.1 1188.1,1015.8 1182.7,1025.5 1223.8,1050.3 1229.7,1039.8 1235.4,1029.3 1240.9,1018.6"/>
<polygon fill="#b8630d" stroke="#b8630d" stroke-width="0.6" points="1182.7,1025.5 1177.0,1035.1 1171.2,1044.5 1165.2,1053.8 1204.8,1081.0 1211.3,1070.9 1217.6,1060.6 1223.8,1050.3"/>
<polygon fill="#b8620d" stroke="#b8620d" stroke-width="0.6" points="1165.2,1053.8 1159.0,1063.1 1152.6,1072.2 1146.0,1081.1 1184.0,1110.5 1191.1,1100.8 1198.0,1091.0 1204.8,1081.0"/>
<polygon fill="#b8600d" stroke="#b8600d" stroke-width="0.6" points="1146.0,1081.1 1139.3,1090.0 1132.4,1098.7 1125.3,1107.3 1161.5,1138.9 1169.2,1129.6 1176.7,1120.1 1184.0,1110.5"/>
<polygon fill="#b85f0d" stroke="#b85f0d" stroke-width="0.6" points="1125.3,1107.3 1118.1,1115.8 1110.7,1124.1 1103.1,1132.2 1136.7,1165.2 1144.9,1156.3 1152.9,1147.3 1160.8,1138.2"/>
<polygon fill="#b85d0d" stroke="#b85d0d" stroke-width="0.6" points="1103.1,1132.2 1095.4,1140.3 1087.5,1148.1 1079.5,1155.9 1111.1,1190.7 1119.8,1182.3 1128.3,1173.8 1136.7,1165.2"/>
<polygon fill="#b95c0c" stroke="#b95c0c" stroke-width="0.6" points="1079.5,1155.9 1071.3,1163.5 1062.9,1170.9 1054.5,1178.1 1084.0,1214.7 1093.1,1206.9 1102.2,1198.9 1111.1,1190.7"/>
<polygon fill="#b95b0c" stroke="#b95b0c" stroke-width="0.6" points="1054.5,1178.1 1045.8,1185.2 1037.1,1192.1 1028.2,1198.9 1055.5,1237.1 1065.1,1229.8 1074.6,1222.4 1084.0,1214.7"/>
<polygon fill="#b9590c" stroke="#b9590c" stroke-width="0.6" points="1028.2,1198.9 1019.1,1205.5 1010.0,1211.9 1000.7,1218.1 1024.7,1256.2 1034.7,1249.5 1044.6,1242.6 1054.3,1235.5"/>
<polygon fill="#b9580c" stroke="#b9580c" stroke-width="0.6" points="1000.7,1218.1 991.2,1224.2 981.7,1230.1 972.1,1235.8 993.8,1275.2 1004.2,1269.0 1014.5,1262.7 1024.7,1256.2"/>
<polygon fill="#b9560c" stroke="#b9560c" stroke-width="0.6" points="972.1,1235.8 962.3,1241.3 952.4,1246.6 942.5,1251.7 961.9,1292.3 972.6,1286.8 983.3,1281.1 993.8,1275.2"/>
<polygon fill="#b9550c" stroke="#b9550c" stroke-width="0.6" points="942.5,1251.7 932.4,1256.6 922.2,1261.4 911.9,1265.9 929.0,1307.6 940.0,1302.7 951.0,1297.6 961.9,1292.3"/>
<polygon fill="#b9540c" stroke="#b9540c" stroke-width="0.6" points="911.9,1265.9 901.6,1270.3 891.1,1274.4 880.6,1278.3 894.5,1318.8 905.8,1314.6 917.0,1310.2 928.1,1305.5"/>
<polygon fill="#b9520b" stroke="#b9520b" stroke-width="0.6" points="880.6,1278.3 870.0,1282.1 859.3,1285.6 848.6,1288.9 860.1,1330.2 871.6,1326.6 883.1,1322.8 894.5,1318.8"/>
<polygon fill="#b9510b" stroke="#b9510b" stroke-width="0.6" points="848.6,1288.9 837.8,1292.0 826.9,1295.0 816.0,1297.7 825.0,1339.5 836.8,1336.6 848.5,1333.5 860.1,1330.2"/>
<polygon fill="#ba500b" stroke="#ba500b" stroke-width="0.6" points="816.0,1297.7 805.0,1300.1 793.9,1302.4 782.8,1304.5 789.5,1346.8 801.4,1344.6 813.2,1342.1 825.0,1339.5"/>
<polygon fill="#ba4f0b" stroke="#ba4f0b" stroke-width="0.6" points="782.8,1304.5 771.7,1306.3 760.6,1307.9 749.4,1309.4 753.8,1355.1 765.9,1353.6 777.9,1351.9 790.0,1349.9"/>
<polygon fill="#ba4d0b" stroke="#ba4d0b" stroke-width="0.6" points="749.4,1309.4 738.1,1310.6 726.9,1311.5 715.6,1312.3 717.4,1358.3 729.5,1357.5 741.7,1356.4 753.8,1355.1"/>
<polygon fill="#ba4c0b" stroke="#ba4c0b" stroke-width="0.6" points="715.6,1312.3 704.3,1312.8 693.0,1313.1 681.7,1313.3 680.8,1359.2 693.0,1359.1 705.2,1358.8 717.4,1358.3"/>
<polygon fill="#ba4b0b" stroke="#ba4b0b" stroke-width="0.6" points="681.7,1313.3 670.4,1313.1 659.1,1312.8 647.7,1312.2 644.2,1358.1 656.4,1358.7 668.6,1359.1 680.8,1359.2"/>
<polygon fill="#ba490a" stroke="#ba490a" stroke-width="0.6" points="647.7,1312.2 636.4,1311.5 625.2,1310.5 613.9,1309.3 608.1,1351.9 620.2,1353.2 632.3,1354.3 644.4,1355.1"/>
<polygon fill="#ba480a" stroke="#ba480a" stroke-width="0.6" points="613.9,1309.3 602.6,1307.8 591.4,1306.2 580.2,1304.3 571.9,1346.5 583.9,1348.5 596.0,1350.3 608.1,1351.9"/>
<polygon fill="#ba470a" stroke="#ba470a" stroke-width="0.6" points="580.2,1304.3 569.1,1302.2 557.9,1299.9 546.9,1297.4 536.1,1339.0 548.0,1341.7 560.0,1344.2 571.9,1346.5"/>
<polygon fill="#ba450a" stroke="#ba450a" stroke-width="0.6" points="546.9,1297.4 535.8,1294.7 524.8,1291.7 513.9,1288.5 500.8,1329.5 512.5,1332.9 524.3,1336.1 536.1,1339.0"/>
<polygon fill="#ba440a" stroke="#ba440a" stroke-width="0.6" points="513.9,1288.5 503.1,1285.2 492.2,1281.6 481.5,1277.8 466.9,1315.6 478.4,1319.7 489.9,1323.6 501.5,1327.2"/>
<polygon fill="#bb430a" stroke="#bb430a" stroke-width="0.6" points="481.5,1277.8 470.9,1273.8 460.3,1269.5 449.8,1265.1 433.0,1302.1 444.2,1306.8 455.5,1311.3 466.9,1315.6"/>
<polygon fill="#bb420a" stroke="#bb420a" stroke-width="0.6" points="449.8,1265.1 439.3,1260.5 429.0,1255.7 418.8,1250.6 399.8,1286.6 410.8,1292.0 421.8,1297.1 433.0,1302.1"/>
<polygon fill="#bb4009" stroke="#bb4009" stroke-width="0.6" points="418.8,1250.6 408.6,1245.4 398.6,1240.0 388.6,1234.4 367.6,1269.1 378.3,1275.1 389.0,1281.0 399.8,1286.6"/>
<polygon fill="#bb3f09" stroke="#bb3f09" stroke-width="0.6" points="388.6,1234.4 378.8,1228.5 369.1,1222.5 359.5,1216.3 339.7,1245.2 349.8,1251.8 360.1,1258.2 370.5,1264.3"/>
<polygon fill="#bb3e09" stroke="#bb3e09" stroke-width="0.6" points="359.5,1216.3 350.0,1209.9 340.6,1203.4 331.3,1196.6 309.9,1224.3 319.7,1231.4 329.6,1238.4 339.7,1245.2"/>
<polygon fill="#bb3c09" stroke="#bb3c09" stroke-width="0.6" points="331.3,1196.6 322.2,1189.7 313.3,1182.6 304.4,1175.3 281.4,1201.7 290.8,1209.4 300.3,1216.9 309.9,1224.3"/>
<polygon fill="#bb3b09" stroke="#bb3b09" stroke-width="0.6" points="304.4,1175.3 295.7,1167.8 287.1,1160.2 278.7,1152.4 254.2,1177.4 263.1,1185.6 272.2,1193.7 281.4,1201.7"/>
<polygon fill="#bb3a09" stroke="#bb3a09" stroke-width="0.6" points="278.7,1152.4 270.5,1144.4 262.4,1136.3 254.4,1128.0 227.7,1152.2 236.2,1161.0 244.8,1169.6 253.5,1178.1"/>
<polygon fill="#bb3809" stroke="#bb3809" stroke-width="0.6" points="254.4,1128.0 246.6,1119.6 239.0,1111.0 231.5,1102.2 203.5,1124.8 211.4,1134.1 219.5,1143.2 227.7,1152.2"/>
<polygon fill="#bb3709" stroke="#bb3709" stroke-width="0.6" points="231.5,1102.2 224.2,1093.3 217.1,1084.3 210.1,1075.1 180.8,1096.1 188.2,1105.8 195.8,1115.4 203.5,1124.8"/>
<polygon fill="#bb3609" stroke="#bb3609" stroke-width="0.6" points="210.1,1075.1 203.4,1065.8 196.8,1056.4 190.3,1046.8 159.9,1066.0 166.7,1076.2 173.7,1086.2 180.8,1096.1"/>
<polygon fill="#bb3409" stroke="#bb3409" stroke-width="0.6" points="190.3,1046.8 184.1,1037.1 178.1,1027.3 172.2,1017.4 138.9,1035.7 145.2,1046.3 151.6,1056.8 158.2,1067.1"/>
<polygon fill="#bb3309" stroke="#bb3309" stroke-width="0.6" points="172.2,1017.4 166.5,1007.3 161.1,997.1 155.8,986.9 121.5,1003.3 127.1,1014.2 132.9,1025.0 138.9,1035.7"/>
<polygon fill="#bb3209" stroke="#bb3209" stroke-width="0.6" points="155.8,986.9 150.7,976.5 145.9,966.0 141.2,955.4 106.0,969.8 111.0,981.1 116.1,992.2 121.5,1003.3"/>
<polygon fill="#bb3009" stroke="#bb3009" stroke-width="0.6" points="141.2,955.4 136.7,944.8 132.5,934.0 128.4,923.2 92.5,935.5 96.8,947.0 101.3,958.5 106.0,969.8"/>
<polygon fill="#bc2f08" stroke="#bc2f08" stroke-width="0.6" points="128.4,923.2 124.6,912.3 120.9,901.3 117.5,890.2 79.5,900.8 83.1,912.6 87.0,924.3 91.0,936.0"/>
<polygon fill="#bc2d08" stroke="#bc2d08" stroke-width="0.6" points="117.5,890.2 114.3,879.1 111.3,867.9 108.6,856.6 70.0,865.0 72.9,877.0 76.1,888.9 79.5,900.8"/>
<polygon fill="#bc2c08" stroke="#bc2c08" stroke-width="0.6" points="108.6,856.6 106.0,845.3 103.7,833.9 101.6,822.5 62.5,828.6 64.8,840.8 67.2,852.9 70.0,865.0"/>
<polygon fill="#bc2b08" stroke="#bc2b08" stroke-width="0.6" points="101.6,822.5 99.7,811.0 98.0,799.6 96.6,788.0 57.2,791.8 58.8,804.1 60.5,816.4 62.5,828.6"/>
<polygon fill="#bc2908" stroke="#bc2908" stroke-width="0.6" points="96.6,788.0 95.3,776.5 94.3,764.9 93.6,753.3 54.6,754.8 55.4,767.1 56.4,779.5 57.7,791.8"/>
<polygon fill="#bc2808" stroke="#bc2808" stroke-width="0.6" points="93.6,753.3 93.0,741.6 92.7,730.0 92.6,718.4 53.6,717.6 53.7,730.0 54.0,742.4 54.6,754.8"/>
<polygon fill="#bc2708" stroke="#bc2708" stroke-width="0.6" points="92.6,718.4 92.7,706.7 93.1,695.1 93.6,683.4 54.8,680.4 54.1,692.8 53.7,705.2 53.6,717.6"/>
<polygon fill="#bc2508" stroke="#bc2508" stroke-width="0.6" points="93.6,683.4 94.4,671.8 95.5,660.2 96.7,648.6 58.1,643.3 56.7,655.6 55.6,668.0 54.8,680.4"/>
<polygon fill="#bc2408" stroke="#bc2408" stroke-width="0.6" points="96.7,648.6 98.2,637.0 99.9,625.4 101.8,613.9 64.0,606.5 61.9,618.7 60.1,631.0 58.5,643.3"/>
<polygon fill="#bc2308" stroke="#bc2308" stroke-width="0.6" points="101.8,613.9 104.0,602.4 106.4,591.0 109.0,579.6 71.6,569.9 68.8,582.1 66.3,594.2 64.0,606.5"/>
<polygon fill="#bc2108" stroke="#bc2108" stroke-width="0.6" points="109.0,579.6 111.8,568.2 114.8,556.9 118.1,545.7 81.4,533.9 77.9,545.8 74.6,557.9 71.6,569.9"/>
<polygon fill="#bc2008" stroke="#bc2008" stroke-width="0.6" points="118.1,545.7 121.6,534.5 125.3,523.4 129.2,512.3 93.2,498.4 89.0,510.2 85.1,522.0 81.4,533.9"/>
<polygon fill="#bc1f08" stroke="#bc1f08" stroke-width="0.6" points="129.2,512.3 133.3,501.4 137.7,490.5 142.2,479.7 107.3,463.8 102.4,475.3 97.8,486.8 93.4,498.5"/>
<polygon fill="#bd1e07" stroke="#bd1e07" stroke-width="0.6" points="142.2,479.7 147.0,468.9 152.0,458.3 157.2,447.8 123.2,429.9 117.7,441.1 112.4,452.4 107.3,463.8"/>
<polygon fill="#bd1d07" stroke="#bd1d07" stroke-width="0.6" points="157.2,447.8 162.6,437.3 168.1,427.0 173.9,416.7 141.1,396.9 134.9,407.8 128.9,418.8 123.2,429.9"/>
<polygon fill="#bd1c07" stroke="#bd1c07" stroke-width="0.6" points="173.9,416.7 179.9,406.6 186.1,396.6 192.5,386.7 160.8,365.0 154.0,375.5 147.4,386.2 141.1,396.9"/>
<polygon fill="#bd1b07" stroke="#bd1b07" stroke-width="0.6" points="192.5,386.7 199.1,377.0 205.9,367.3 212.8,357.8 183.6,335.2 176.2,345.2 169.0,355.5 162.0,365.8"/>
<polygon fill="#bd1907" stroke="#bd1907" stroke-width="0.6" points="212.8,357.8 219.9,348.5 227.3,339.2 234.8,330.1 206.9,305.8 198.9,315.4 191.1,325.2 183.6,335.2"/>
<polygon fill="#bd1807" stroke="#bd1807" stroke-width="0.6" points="234.8,330.1 242.5,321.2 250.3,312.4 258.4,303.7 231.9,277.8 223.4,287.0 215.1,296.3 206.9,305.8"/>
<polygon fill="#bd1707" stroke="#bd1707" stroke-width="0.6" points="258.4,303.7 266.6,295.2 274.9,286.9 283.4,278.7 258.6,251.3 249.5,260.0 240.6,268.8 231.9,277.8"/>
<polygon fill="#be1606" stroke="#be1606" stroke-width="0.6" points="283.4,278.7 292.1,270.7 301.0,262.8 310.0,255.1 282.4,220.9 272.7,229.1 263.2,237.5 253.9,246.1"/>
<polygon fill="#be1506" stroke="#be1506" stroke-width="0.6" points="310.0,255.1 319.1,247.6 328.4,240.3 337.9,233.2 312.3,197.4 302.2,205.0 292.2,212.9 282.4,220.9"/>
<polygon fill="#be1406" stroke="#be1406" stroke-width="0.6" points="337.9,233.2 347.5,226.2 357.2,219.4 367.0,212.8 343.6,175.6 333.0,182.6 322.6,189.9 312.3,197.4"/>
<polygon fill="#be1206" stroke="#be1206" stroke-width="0.6" points="367.0,212.8 377.0,206.4 387.1,200.2 397.3,194.2 376.1,155.6 365.1,162.1 354.3,168.7 343.6,175.6"/>
<polygon fill="#be1106" stroke="#be1106" stroke-width="0.6" points="397.3,194.2 407.7,188.4 418.1,182.7 428.7,177.3 405.9,129.5 394.4,135.4 383.0,141.5 371.7,147.8"/>
<polygon fill="#be1006" stroke="#be1006" stroke-width="0.6" points="428.7,177.3 439.4,172.1 450.2,167.1 461.1,162.3 441.0,113.2 429.2,118.4 417.5,123.9 405.9,129.5"/>
<polygon fill="#be0f06" stroke="#be0f06" stroke-width="0.6" points="461.1,162.3 472.0,157.7 483.1,153.3 494.3,149.2 477.1,99.0 465.0,103.5 452.9,108.3 441.0,113.2"/>
<polygon fill="#bf0e05" stroke="#bf0e05" stroke-width="0.6" points="494.3,149.2 505.5,145.2 516.8,141.5 528.2,138.0 514.0,86.9 501.6,90.7 489.3,94.8 477.1,99.0"/>
<polygon fill="#bf0d05" stroke="#bf0d05" stroke-width="0.6" points="528.2,138.0 539.7,134.7 551.2,131.6 562.8,128.8 552.1,79.6 539.6,82.7 527.1,86.0 514.7,89.5"/>
<polygon fill="#bf0c05" stroke="#bf0c05" stroke-width="0.6" points="562.8,128.8 574.4,126.2 586.1,123.8 597.8,121.6 590.1,71.9 577.4,74.2 564.7,76.8 552.1,79.6"/>
<polygon fill="#bf0b05" stroke="#bf0b05" stroke-width="0.6" points="597.8,121.6 609.6,119.7 621.5,117.9 633.3,116.5 628.4,66.4 615.6,68.0 602.8,69.8 590.1,71.9"/>
<polygon fill="#bf0b05" stroke="#bf0b05" stroke-width="0.6" points="633.3,116.5 645.2,115.2 657.1,114.2 669.1,113.4 667.1,63.1 654.2,64.0 641.3,65.1 628.4,66.4"/>
</g>
<g shape-rendering="crispEdges">
<path d="M552.2,474.8 L561.0,469.7 L570.0,464.9 L579.2,460.4 L588.5,456.2 L598.0,452.4 L607.7,448.9 L617.4,445.7 L627.3,442.9 L637.3,440.4 L647.4,438.2 L657.6,436.4 L667.8,435.0 L678.1,433.9 L688.4,433.2 L698.8,432.8 L709.2,432.8 L719.6,433.2 L730.0,433.9 L740.4,435.0 L750.7,436.5 L761.0,438.3 L771.3,440.5 L781.4,443.0 L791.5,445.9 L801.5,449.2 L811.4,452.8 L821.2,456.8 L830.8,461.1 L840.3,465.7 L849.6,470.7 L858.8,476.0 L867.8,481.6 L876.6,487.6 L885.2,493.8 L893.5,500.4 L901.7,507.3 L909.6,514.4 L917.3,521.9 L924.7,529.6 L931.9,537.5 L938.7,545.8 L945.3,554.2 L951.6,562.9 L957.6,571.9 L963.3,581.0 L968.7,590.4 L973.8,599.9 L978.5,609.7 L982.9,619.6 L986.9,629.6 L990.6,639.9 L993.9,650.2 L996.9,660.7 L999.5,671.2 L1001.8,681.9 L1003.6,692.7 L1005.1,703.5 L1006.2,714.4 L1007.0,725.4 L1007.3,736.3 L1007.3,747.3 L1006.9,758.3 L1006.1,769.3 L1004.9,780.3 L1003.3,791.2 L1001.4,802.1 L999.0,812.9 L996.3,823.7 L993.2,834.3 L989.8,844.9 L985.9,855.3 L981.7,865.6 L977.1,875.8 L972.2,885.8 L966.9,895.7 L961.3,905.3 L955.3,914.8 L949.0,924.1 L942.4,933.2 L935.4,942.0 L928.1,950.6 L920.6,958.9 L912.7,967.0 L904.5,974.8 L896.1,982.4 L887.4,989.6 L878.4,996.5 L869.2,1003.2 L859.8,1009.5 L850.1,1015.5 L840.2,1021.1 L830.1,1026.4 L819.8,1031.4 L809.4,1036.0 L798.7,1040.2 L788.0,1044.1 L777.0,1047.6 L766.0,1050.7 L754.8,1053.4 L743.5,1055.8 L732.2,1057.7 L720.7,1059.3 L709.2,1060.4 L697.7,1061.2 L686.1,1061.5 L674.5,1061.4 L662.9,1061.0 L651.4,1060.1 L639.8,1058.8 L628.3,1057.1 L616.8,1055.1 L605.4,1052.6 L594.1,1049.7 L582.9,1046.4 L571.7,1042.7 L560.8,1038.6 L549.9,1034.2 L539.2,1029.3 L528.6,1024.1 L518.3,1018.5 L508.1,1012.6 L498.1,1006.3 L488.4,999.6 L478.8,992.6 L469.6,985.2 L460.5,977.5 L451.8,969.5 L443.3,961.2 L435.0,952.6 L427.1,943.7 L419.5,934.5 L412.2,925.1 L405.3,915.4 L398.7,905.4 L392.4,895.2 L386.4,884.8 L380.9,874.2 L375.7,863.3 L370.9,852.3 L366.4,841.1 L362.4,829.7 L358.7,818.2 L355.5,806.6 L352.7,794.8 L350.2,783.0 L348.2,771.0 L346.6,759.0 L345.4,746.9 L344.7,734.8 L344.3,722.6 L344.4,710.4 L344.9,698.2 L345.9,686.0 L347.2,673.9 L349.0,661.7 L351.3,649.7 L353.9,637.7 L357.0,625.8 L360.4,614.0 L364.3,602.3 L368.7,590.8 L373.4,579.4 L378.5,568.2 L384.0,557.1 L389.9,546.2 L396.2,535.5 L402.8,525.1 L409.9,514.8 L417.2,504.8 L425.0,495.1 L433.1,485.6 L441.5,476.4 L450.2,467.5 L459.3,458.9 L468.7,450.6 L478.3,442.6 L488.3,435.0 L498.5,427.7 L509.0,420.8 L519.7,414.2 L530.7,408.0 L541.8,402.2 L553.2,396.8 L564.8,391.7 L576.6,387.1 L588.5,382.9 L600.6,379.1 L612.8,375.7 L625.2,372.7 L637.6,370.2 L650.2,368.1 L662.8,366.5 L675.5,365.2 L688.2,364.5 L701.0,364.1 L713.8,364.3 L726.6,364.8 L739.4,365.9 L752.1,367.3 L764.8,369.2 L777.4,371.6 L790.0,374.4 L802.5,377.6 L814.8,381.3 L827.1,385.4 L839.2,389.9 L851.1,394.9 L862.9,400.3 L874.5,406.1 L885.9,412.3 L897.1,418.9 L908.0,425.9 L918.7,433.3 L929.2,441.1 L939.4,449.2 L949.3,457.7 L958.9,466.5 L968.2,475.7 L977.2,485.2 L985.9,495.1 L994.2,505.2 L1002.2,515.7 L1009.8,526.4 L1017.1,537.4 L1023.9,548.6 L1030.4,560.1 L1036.5,571.8 L1042.2,583.8 L1047.4,595.9 L1052.2,608.2 L1056.6,620.8 L1060.6,633.4 L1064.1,646.2 L1067.2,659.2 L1069.8,672.2 L1072.0,685.4 L1073.7,698.6 L1074.9,711.9 L1075.7,725.2 L1076.0,738.6 L1075.9,752.0 L1075.3,765.4 L1074.2,778.7 L1072.6,792.1 L1070.6,805.4 L1068.1,818.6 L1065.1,831.7 L1061.7,844.8 L1057.9,857.7 L1053.5,870.5 L1048.8,883.2 L1043.5,895.6 L1037.9,908.0 L1031.8,920.1 L1025.3,932.0 L1018.3,943.7 L1011.0,955.1 L1003.2,966.3 L995.1,977.2 L986.6,987.9 L977.7,998.2 L968.4,1008.3 L958.8,1018.0 L948.8,1027.4 L938.5,1036.5 L927.9,1045.2 L916.9,1053.5 L905.7,1061.4 L894.2,1069.0 L882.4,1076.1 L870.4,1082.9 L858.1,1089.2 L845.7,1095.1 L833.0,1100.6 L820.1,1105.6 L807.0,1110.1 L793.7,1114.3 L780.3,1117.9 L766.8,1121.1 L753.2,1123.8 L739.4,1126.1 L725.6,1127.8 L711.7,1129.1 L697.8,1129.9 L683.8,1130.2 L669.8,1130.0 L655.8,1129.3 L641.9,1128.2 L627.9,1126.5 L614.0,1124.4 L600.2,1121.8 L586.5,1118.6 L572.9,1115.1 L559.4,1111.0 L546.0,1106.5 L532.8,1101.4 L519.8,1096.0 L507.0,1090.0 L494.3,1083.7 L481.9,1076.8 L469.7,1069.6 L457.8,1061.9 L446.1,1053.8 L434.7,1045.2 L423.6,1036.3 L412.8,1027.0 L402.3,1017.3 L392.2,1007.2 L382.4,996.8 L373.0,986.1 L363.9,975.0 L355.3,963.5 L347.0,951.8 L339.1,939.8 L331.7,927.5 L324.7,914.9 L318.1,902.1 L312.0,889.1 L306.3,875.8 L301.1,862.3 L296.3,848.7 L292.1,834.9 L288.3,820.9 L285.0,806.8 L282.2,792.5 L279.8,778.2 L278.0,763.8 L276.7,749.3 L275.9,734.7 L275.6,720.2 L275.8,705.6 L276.6,691.0 L277.8,676.4 L279.6,661.9 L281.8,647.4 L284.6,633.0 L287.8,618.7 L291.6,604.6 L295.9,590.5 L300.6,576.6 L305.9,562.8 L311.6,549.2 L317.8,535.9 L324.5,522.7 L331.6,509.7 L339.2,497.1 L347.2,484.6 L355.7,472.5 L364.6,460.6 L373.9,449.1 L383.7,437.8 L393.8,426.9 L404.3,416.4 L415.2,406.2 L426.4,396.4 L438.0,387.0 L449.9,378.0 L462.1,369.4 L474.7,361.2 L487.5,353.5 L500.6,346.2 L513.9,339.4 L527.5,333.0 L541.4,327.1 L555.4,321.7 L569.6,316.8 L584.0,312.4 L598.6,308.4 L613.3,305.0 L628.1,302.1 L643.1,299.8 L658.1,297.9 L673.2,296.6 L688.3,295.7 L703.5,295.5 L718.7,295.7 L733.9,296.5 L749.0,297.8 L764.1,299.6 L779.2,302.0 L794.2,304.9 L809.0,308.3 L823.8,312.3 L838.4,316.7 L852.9,321.7 L867.2,327.2 L881.3,333.2 L895.3,339.7 L909.0,346.6 L922.4,354.1 L935.6,362.0 L948.5,370.4 L961.2,379.2 L973.5,388.5 L985.5,398.2 L997.1,408.3 L1008.5,418.9 L1019.4,429.8 L1030.0,441.2 L1040.2,452.9 L1049.9,464.9 L1059.3,477.3 L1068.2,490.1 L1076.7,503.1 L1084.7,516.5 L1092.3,530.1 L1099.3,544.0 L1105.9,558.2 L1112.0,572.6 L1117.6,587.2 L1122.7,602.0 L1127.3,616.9 L1131.4,632.1 L1134.9,647.4 L1137.9,662.8 L1140.3,678.3 L1142.3,694.0 L1143.6,709.6 L1144.4,725.4 L1144.7,741.2 L1144.4,756.9 L1143.6,772.7 L1142.2,788.5 L1140.3,804.2 L1137.8,819.8 L1134.7,835.4 L1131.2,850.9 L1127.0,866.2 L1122.4,881.4 L1117.2,896.4 L1111.5,911.3 L1105.2,926.0 L1098.5,940.4 L1091.2,954.6 L1083.5,968.6 L1075.2,982.3 L1066.5,995.7 L1057.3,1008.8 L1047.6,1021.6 L1037.5,1034.0 L1027.0,1046.1 L1016.0,1057.9 L1004.6,1069.2 L992.8,1080.2 L980.6,1090.8 L968.1,1100.9 L955.2,1110.6 L942.0,1119.8 L928.4,1128.6 L914.5,1136.9 L900.3,1144.7 L885.9,1152.1 L871.2,1158.9 L856.2,1165.2 L841.1,1171.0 L825.7,1176.3 L810.1,1181.0 L794.4,1185.2 L778.5,1188.8 L762.5,1191.9 L746.4,1194.4 L730.2,1196.4 L713.9,1197.8 L697.5,1198.6 L681.1,1198.9 L664.8,1198.6 L648.4,1197.7 L632.0,1196.2 L615.7,1194.2 L599.5,1191.6 L583.4,1188.4 L567.3,1184.6 L551.4,1180.3 L535.6,1175.5 L520.0,1170.1 L504.6,1164.1 L489.4,1157.6 L474.4,1150.6 L459.7,1143.0 L445.2,1135.0 L431.0,1126.4 L417.1,1117.3 L403.5,1107.8 L390.3,1097.7 L377.4,1087.2 L364.8,1076.2 L352.7,1064.8 L340.9,1053.0 L329.6,1040.8 L318.6,1028.1 L308.2,1015.1 L298.1,1001.7 L288.6,988.0 L279.5,973.9 L270.9,959.5 L262.8,944.8 L255.2,929.8 L248.1,914.5 L241.6,899.0 L235.6,883.3 L230.2,867.3 L225.3,851.2 L221.0,834.9 L217.2,818.4 L214.0,801.8 L211.5,785.1 L209.4,768.2 L208.0,751.4 L207.2,734.4 L207.0,717.4 L207.3,700.5 L208.3,683.5 L209.8,666.5 L211.9,649.6 L214.7,632.8 L218.0,616.1 L221.9,599.5 L226.3,583.0 L231.4,566.7 L237.0,550.5 L243.2,534.5 L250.0,518.8 L257.3,503.3 L265.1,488.0 L273.5,473.0 L282.4,458.3 L291.9,443.9 L301.8,429.9 L312.2,416.2 L323.1,402.8 L334.5,389.8 L346.3,377.2 L358.6,365.1 L371.3,353.3 L384.4,342.0 L397.9,331.2 L411.8,320.8 L426.0,310.9 L440.6,301.5 L455.6,292.6 L470.8,284.3 L486.3,276.4 L502.2,269.1 L518.2,262.4 L534.5,256.2 L551.1,250.6 L567.8,245.6 L584.7,241.1 L601.8,237.3 L619.0,234.0 L636.3,231.4 L653.7,229.3 L671.2,227.8 L688.7,227.0 L706.3,226.8 L723.9,227.2 L741.4,228.2 L759.0,229.8 L776.5,232.0 L793.9,234.9 L811.2,238.3 L828.4,242.4 L845.5,247.0 L862.3,252.3 L879.1,258.2 L895.6,264.6 L911.9,271.6 L927.9,279.2 L943.7,287.3 L959.2,296.0 L974.4,305.3 L989.3,315.0 L1003.8,325.3 L1018.0,336.1 L1031.8,347.4 L1045.2,359.2 L1058.2,371.5 L1070.8,384.2 L1082.9,397.3 L1094.6,410.9 L1105.8,424.9 L1116.5,439.3 L1126.7,454.0 L1136.4,469.2 L1145.6,484.6 L1154.2,500.4 L1162.3,516.5 L1169.8,532.8 L1176.8,549.5 L1183.2,566.4 L1188.9,583.5 L1194.1,600.8 L1198.7,618.3 L1202.7,635.9 L1206.0,653.7 L1208.8,671.6 L1210.9,689.6 L1212.3,707.7 L1213.2,725.9 L1213.4,744.0 L1213.0,762.2 L1211.9,780.4 L1210.2,798.5 L1207.9,816.6 L1204.9,834.6 L1201.3,852.5 L1197.1,870.3 L1192.2,887.9 L1186.8,905.4 L1180.7,922.6 L1174.0,939.7 L1166.8,956.5 L1158.9,973.1 L1150.5,989.4 L1141.5,1005.4 L1131.9,1021.1 L1121.8,1036.5 L1111.1,1051.5 L1099.9,1066.2 L1088.2,1080.4 L1076.0,1094.3 L1063.4,1107.7 L1050.2,1120.7 L1036.6,1133.2 L1022.5,1145.2 L1008.1,1156.8 L993.2,1167.9 L977.9,1178.4 L962.3,1188.4 L946.3,1197.9 L930.0,1206.8 L913.4,1215.1 L896.4,1222.8 L879.2,1230.0 L861.8,1236.6 L844.1,1242.5 L826.2,1247.8 L808.1,1252.5 L789.9,1256.6 L771.5,1260.1 L753.0,1262.9 L734.4,1265.0 L715.7,1266.5 L697.0,1267.4 L678.2,1267.5 L659.4,1267.1 L640.6,1266.0 L621.9,1264.2 L603.2,1261.8 L584.7,1258.7 L566.2,1254.9 L547.8,1250.6 L529.6,1245.5 L511.6,1239.9 L493.8,1233.6 L476.1,1226.7 L458.8,1219.1 L441.7,1211.0 L424.8,1202.3 L408.3,1192.9 L392.1,1183.0 L376.3,1172.6 L360.8,1161.5 L345.7,1150.0 L331.0,1137.9 L316.7,1125.3 L302.8,1112.2 L289.4,1098.6 L276.5,1084.5 L264.1,1070.0 L252.2,1055.0 L240.8,1039.7 L229.9,1023.9 L219.6,1007.7 L209.9,991.2 L200.7,974.4 L192.1,957.2 L184.2,939.7 L176.8,921.9 L170.0,903.9 L163.9,885.7 L158.4,867.2 L153.6,848.5 L149.4,829.7 L145.9,810.7 L143.0,791.6 L140.8,772.4 L139.3,753.1 L138.5,733.8 L138.3,714.4 L138.8,695.0 L140.0,675.7 L141.8,656.3 L144.4,637.1 L147.6,617.9 L151.4,598.8 L156.0,579.9 L161.2,561.1 L167.0,542.5 L173.6,524.1 L180.7,506.0 L188.5,488.1 L196.9,470.4 L205.9,453.1 L215.6,436.0 L225.8,419.3 L236.6,403.0 L248.0,387.0 L260.0,371.5 L272.5,356.3 L285.5,341.6 L299.0,327.3 L313.1,313.5 L327.6,300.2 L342.6,287.4 L358.0,275.2 L373.9,263.4 L390.2,252.3 L406.9,241.7 L423.9,231.6 L441.3,222.2 L459.0,213.4 L477.1,205.2 L495.4,197.6 L514.0,190.6 L532.8,184.4 L551.8,178.7 L571.1,173.8 L590.5,169.5 L610.1,165.9 L629.8,162.9 L649.6,160.7 L669.5,159.1 L689.4,158.3 L709.4,158.1 L729.4,158.7 L749.4,159.9 L769.3,161.8 L789.1,164.5 L808.9,167.8 L828.5,171.8 L848.0,176.5 L867.4,181.9 L886.5,188.0 L905.5,194.7 L924.2,202.1 L942.7,210.1 L960.8,218.8 L978.7,228.2 L996.3,238.1 L1013.4,248.7 L1030.3,259.9 L1046.7,271.6 L1062.8,284.0 L1078.4,296.9 L1093.5,310.3 L1108.2,324.3 L1122.4,338.8 L1136.1,353.7 L1149.2,369.2 L1161.9,385.1 L1173.9,401.5 L1185.4,418.3 L1196.3,435.5 L1206.7,453.0 L1216.4,471.0 L1225.4,489.2 L1233.9,507.8 L1241.6,526.7 L1248.8,545.9 L1255.2,565.3 L1261.0,584.9 L1266.1,604.7 L1270.5,624.8 L1274.2,644.9 L1277.2,665.2 L1279.5,685.6 L1281.0,706.1 L1281.9,726.7 L1282.0,747.2 L1281.5,767.8 L1280.2,788.4 L1278.1,808.9 L1275.4,829.3 L1272.0,849.7 L1267.8,869.9 L1262.9,890.0 L1257.4,909.9 L1251.1,929.6 L1244.1,949.1 L1236.5,968.4 L1228.2,987.4 L1219.2,1006.1 L1209.6,1024.5 L1199.3,1042.6 L1188.4,1060.3 L1176.9,1077.6 L1164.8,1094.5 L1152.0,1111.0 L1138.8,1127.0 L1124.9,1142.6 L1110.5,1157.7 L1095.6,1172.3 L1080.1,1186.4 L1064.2,1199.9 L1047.8,1212.9 L1030.9,1225.3 L1013.6,1237.1 L995.9,1248.3 L977.8,1258.9 L959.4,1268.9 L940.5,1278.2 L921.4,1286.9 L901.9,1294.9 L882.2,1302.2 L862.2,1308.8 L842.0,1314.7 L821.6,1320.0 L801.0,1324.5 L780.2,1328.2 L759.3,1331.3 L738.3,1333.6 L717.2,1335.2 L696.1,1336.1 L674.9,1336.2 L653.7,1335.6 L632.6,1334.2 L611.5,1332.1 L590.4,1329.3 L569.5,1325.7 L548.7,1321.4 L528.0,1316.4 L507.5,1310.6 L487.2,1304.2 L467.2,1297.0 L447.4,1289.1 L427.8,1280.5 L408.6,1271.3 L389.7,1261.3 L371.1,1250.8 L352.9,1239.5 L335.1,1227.6 L317.7,1215.2 L300.8,1202.0 L284.3,1188.4 L268.3,1174.1 L252.7,1159.2 L237.7,1143.9 L223.3,1128.0 L209.4,1111.6 L196.0,1094.7 L183.3,1077.3 L171.2,1059.5 L159.6,1041.3 L148.8,1022.7 L138.5,1003.7 L129.0,984.3 L120.1,964.6 L111.9,944.6 L104.4,924.3 L97.6,903.7 L91.5,882.9 L86.2,861.9 L81.6,840.7 L77.7,819.3 L74.6,797.8 L72.2,776.2 L70.6,754.6 L69.7,732.8 L69.6,711.0 L70.3,689.3 L71.7,667.5 L73.9,645.8 L76.8,624.2 L80.5,602.7 L85.0,581.3 L90.2,560.0 L96.1,539.0 L102.8,518.1 L110.2,497.5 L118.3,477.1 L127.1,457.1 L136.7,437.3 L146.9,417.9 L157.8,398.8 L169.4,380.1 L181.6,361.8 L194.5,343.9 L208.0,326.5 L222.1,309.6 L236.8,293.1 L252.0,277.2 L267.8,261.8 L284.2,246.9 L301.1,232.7 L318.5,219.0 L336.3,205.9 L354.6,193.4 L373.4,181.6 L392.5,170.5 L412.1,160.0 L432.0,150.2 L452.2,141.1 L472.8,132.6 L493.7,125.0 L514.8,118.0 L536.2,111.8 L557.8,106.3 L579.6,101.6 L601.5,97.6 L623.6,94.5 L645.8,92.0 L668.1,90.4 L690.5,89.5 L712.8,89.5 L735.2,90.2 L757.6,91.7 L779.9,93.9 L802.1,97.0" fill="none" stroke="#aaaaaa" stroke-width="1"/>
<path d="M541.1,454.6 L550.6,449.2 L560.3,444.0 L570.2,439.2 L580.3,434.8 L590.6,430.6 L601.0,426.9 L611.5,423.5 L622.2,420.5 L633.0,417.8 L643.9,415.5 L654.8,413.6 L665.9,412.1 L676.9,411.0 L688.1,410.2 L699.3,409.8 L710.5,409.9 L721.7,410.3 L732.9,411.1 L744.0,412.3 L755.2,413.9 L766.2,415.9 L777.3,418.3 L788.2,421.1 L799.1,424.2 L809.8,427.8 L820.4,431.7 L830.9,435.9 L841.3,440.6 L851.5,445.6 L861.5,451.0 L871.4,456.7 L881.0,462.8 L890.5,469.2 L899.7,476.0 L908.7,483.1 L917.4,490.5 L925.9,498.2 L934.2,506.2 L942.1,514.5 L949.8,523.1 L957.1,532.0 L964.2,541.1 L971.0,550.5 L977.4,560.1 L983.5,569.9 L989.2,580.0 L994.6,590.3 L999.7,600.7 L1004.4,611.4 L1008.7,622.2 L1012.6,633.2 L1016.2,644.3 L1019.3,655.6 L1022.1,666.9 L1024.5,678.4 L1026.5,689.9 L1028.0,701.6 L1029.2,713.3 L1030.0,725.0 L1030.3,736.8 L1030.3,748.6 L1029.8,760.4 L1028.9,772.2 L1027.6,783.9 L1025.9,795.7 L1023.8,807.3 L1021.2,818.9 L1018.3,830.4 L1014.9,841.9 L1011.2,853.2 L1007.1,864.4 L1002.5,875.4 L997.6,886.3 L992.3,897.0 L986.6,907.6 L980.5,917.9 L974.1,928.1 L967.3,938.0 L960.2,947.7 L952.7,957.1 L944.9,966.3 L936.8,975.2 L928.3,983.9 L919.6,992.2 L910.5,1000.3 L901.2,1008.0 L891.6,1015.4 L881.7,1022.5 L871.6,1029.2 L861.2,1035.6 L850.6,1041.7 L839.8,1047.3 L828.8,1052.6 L817.5,1057.5 L806.2,1062.0 L794.6,1066.1 L782.9,1069.8 L771.1,1073.1 L759.1,1076.0 L747.1,1078.5 L734.9,1080.6 L722.7,1082.2 L710.4,1083.4 L698.0,1084.2 L685.7,1084.5 L673.3,1084.4 L660.9,1083.9 L648.5,1082.9 L636.1,1081.5 L623.8,1079.7 L611.6,1077.5 L599.4,1074.8 L587.3,1071.7 L575.3,1068.1 L563.4,1064.2 L551.7,1059.8 L540.1,1055.0 L528.7,1049.8 L517.4,1044.2 L506.4,1038.2 L495.5,1031.8 L484.9,1025.0 L474.5,1017.9 L464.3,1010.4 L454.4,1002.5 L444.8,994.3 L435.4,985.8 L426.4,976.9 L417.6,967.7 L409.2,958.1 L401.1,948.3 L393.4,938.2 L385.9,927.8 L378.9,917.2 L372.2,906.3 L365.9,895.2 L360.0,883.8 L354.5,872.2 L349.4,860.5 L344.7,848.5 L340.4,836.4 L336.5,824.1 L333.1,811.7 L330.1,799.1 L327.5,786.5 L325.4,773.7 L323.7,760.9 L322.4,748.0 L321.7,735.1 L321.3,722.1 L321.4,709.1 L322.0,696.1 L323.1,683.1 L324.5,670.2 L326.5,657.3 L328.9,644.4 L331.7,631.7 L335.0,619.0 L338.7,606.5 L342.9,594.0 L347.5,581.7 L352.6,569.6 L358.0,557.6 L363.9,545.9 L370.2,534.3 L376.9,522.9 L384.0,511.8 L391.5,500.9 L399.4,490.3 L407.7,479.9 L416.3,469.9 L425.3,460.1 L434.6,450.6 L444.3,441.5 L454.3,432.7 L464.6,424.2 L475.2,416.1 L486.0,408.4 L497.2,401.0 L508.6,394.1 L520.3,387.5 L532.2,381.3 L544.3,375.6 L556.7,370.2 L569.2,365.3 L581.9,360.9 L594.7,356.8 L607.7,353.3 L620.9,350.1 L634.1,347.5 L647.5,345.3 L660.9,343.5 L674.4,342.3 L687.9,341.5 L701.5,341.2 L715.1,341.3 L728.7,341.9 L742.3,343.0 L755.8,344.6 L769.3,346.7 L782.7,349.2 L796.1,352.2 L809.3,355.7 L822.4,359.6 L835.4,364.0 L848.3,368.8 L860.9,374.1 L873.4,379.9 L885.7,386.0 L897.8,392.6 L909.7,399.7 L921.3,407.1 L932.7,415.0 L943.8,423.3 L954.6,431.9 L965.1,441.0 L975.3,450.4 L985.1,460.1 L994.7,470.2 L1003.9,480.7 L1012.7,491.5 L1021.1,502.6 L1029.2,513.9 L1036.9,525.6 L1044.1,537.6 L1051.0,549.8 L1057.4,562.2 L1063.4,574.9 L1068.9,587.8 L1074.0,600.9 L1078.7,614.1 L1082.8,627.6 L1086.5,641.2 L1089.8,654.9 L1092.5,668.7 L1094.8,682.7 L1096.6,696.7 L1097.9,710.8 L1098.7,724.9 L1099.0,739.1 L1098.8,753.3 L1098.2,767.5 L1097.0,781.7 L1095.3,795.8 L1093.1,809.9 L1090.5,823.9 L1087.3,837.8 L1083.7,851.6 L1079.6,865.3 L1075.0,878.9 L1069.9,892.3 L1064.3,905.5 L1058.3,918.5 L1051.8,931.3 L1044.9,943.9 L1037.6,956.3 L1029.8,968.4 L1021.5,980.3 L1012.9,991.8 L1003.8,1003.1 L994.4,1014.0 L984.6,1024.6 L974.4,1034.9 L963.8,1044.9 L952.9,1054.4 L941.6,1063.6 L930.0,1072.4 L918.1,1080.8 L906.0,1088.7 L893.5,1096.3 L880.7,1103.4 L867.8,1110.1 L854.5,1116.3 L841.1,1122.1 L827.4,1127.4 L813.6,1132.2 L799.6,1136.5 L785.4,1140.4 L771.1,1143.7 L756.6,1146.6 L742.1,1148.9 L727.5,1150.7 L712.8,1152.1 L698.0,1152.9 L683.3,1153.2 L668.5,1153.0 L653.7,1152.2 L638.9,1151.0 L624.2,1149.2 L609.5,1146.9 L594.9,1144.1 L580.4,1140.8 L566.0,1137.0 L551.8,1132.7 L537.7,1127.9 L523.7,1122.6 L510.0,1116.8 L496.4,1110.5 L483.0,1103.7 L469.9,1096.5 L457.1,1088.8 L444.5,1080.6 L432.1,1072.1 L420.1,1063.0 L408.4,1053.6 L397.0,1043.7 L386.0,1033.5 L375.3,1022.8 L365.0,1011.8 L355.0,1000.4 L345.5,988.7 L336.4,976.6 L327.6,964.2 L319.4,951.5 L311.5,938.5 L304.1,925.2 L297.2,911.7 L290.7,897.9 L284.8,883.9 L279.3,869.7 L274.3,855.3 L269.8,840.7 L265.8,825.9 L262.4,811.0 L259.4,796.0 L257.0,780.9 L255.1,765.6 L253.8,750.3 L252.9,735.0 L252.6,719.6 L252.9,704.2 L253.7,688.8 L255.0,673.5 L256.9,658.2 L259.3,642.9 L262.2,627.7 L265.7,612.7 L269.7,597.7 L274.2,582.9 L279.2,568.2 L284.8,553.7 L290.8,539.4 L297.4,525.3 L304.4,511.4 L312.0,497.8 L320.0,484.4 L328.5,471.3 L337.4,458.5 L346.8,446.0 L356.7,433.9 L366.9,422.0 L377.6,410.6 L388.7,399.5 L400.2,388.8 L412.0,378.5 L424.3,368.5 L436.8,359.1 L449.7,350.0 L462.9,341.4 L476.5,333.3 L490.3,325.7 L504.4,318.5 L518.7,311.8 L533.3,305.6 L548.1,299.9 L563.1,294.8 L578.2,290.1 L593.6,286.0 L609.1,282.4 L624.7,279.4 L640.4,276.9 L656.2,275.0 L672.1,273.6 L688.1,272.7 L704.0,272.5 L720.0,272.8 L736.0,273.6 L752.0,275.0 L767.9,277.0 L783.7,279.5 L799.5,282.5 L815.2,286.2 L830.7,290.3 L846.1,295.1 L861.3,300.3 L876.4,306.1 L891.2,312.4 L905.8,319.2 L920.2,326.6 L934.4,334.4 L948.3,342.8 L961.8,351.6 L975.1,360.9 L988.1,370.7 L1000.7,381.0 L1013.0,391.6 L1024.8,402.7 L1036.3,414.3 L1047.4,426.2 L1058.1,438.5 L1068.4,451.2 L1078.2,464.3 L1087.6,477.7 L1096.5,491.4 L1104.9,505.5 L1112.8,519.8 L1120.3,534.4 L1127.2,549.3 L1133.6,564.5 L1139.4,579.8 L1144.8,595.4 L1149.6,611.2 L1153.8,627.1 L1157.5,643.2 L1160.6,659.4 L1163.2,675.7 L1165.2,692.1 L1166.6,708.6 L1167.4,725.2 L1167.7,741.7 L1167.4,758.3 L1166.5,774.9 L1165.0,791.4 L1163.0,808.0 L1160.3,824.4 L1157.1,840.7 L1153.3,857.0 L1149.0,873.1 L1144.1,889.0 L1138.6,904.8 L1132.6,920.4 L1126.0,935.8 L1118.9,951.0 L1111.2,965.9 L1103.1,980.6 L1094.4,994.9 L1085.2,1009.0 L1075.5,1022.8 L1065.4,1036.2 L1054.7,1049.3 L1043.7,1062.0 L1032.1,1074.3 L1020.2,1086.2 L1007.8,1097.7 L995.0,1108.7 L981.8,1119.4 L968.2,1129.5 L954.3,1139.2 L940.1,1148.4 L925.5,1157.1 L910.6,1165.3 L895.5,1173.0 L880.0,1180.1 L864.3,1186.8 L848.4,1192.8 L832.2,1198.3 L815.9,1203.3 L799.4,1207.6 L782.7,1211.4 L765.9,1214.7 L749.0,1217.3 L732.0,1219.3 L714.9,1220.8 L697.7,1221.6 L680.6,1221.9 L663.4,1221.5 L646.2,1220.6 L629.1,1219.0 L612.0,1216.9 L594.9,1214.1 L578.0,1210.8 L561.2,1206.8 L544.5,1202.3 L528.0,1197.2 L511.6,1191.5 L495.5,1185.2 L479.5,1178.4 L463.8,1171.0 L448.4,1163.1 L433.2,1154.6 L418.4,1145.6 L403.8,1136.1 L389.6,1126.0 L375.7,1115.5 L362.2,1104.4 L349.0,1092.9 L336.3,1081.0 L324.0,1068.6 L312.1,1055.7 L300.7,1042.5 L289.7,1028.8 L279.2,1014.8 L269.2,1000.3 L259.7,985.6 L250.7,970.5 L242.2,955.1 L234.3,939.3 L226.9,923.3 L220.1,907.1 L213.8,890.6 L208.1,873.9 L203.0,856.9 L198.5,839.8 L194.6,822.6 L191.3,805.2 L188.6,787.7 L186.5,770.1 L185.0,752.4 L184.2,734.6 L184.0,716.8 L184.4,699.1 L185.4,681.3 L187.0,663.5 L189.2,645.8 L192.1,628.2 L195.6,610.7 L199.7,593.3 L204.4,576.1 L209.7,559.0 L215.6,542.1 L222.1,525.4 L229.2,508.9 L236.9,492.7 L245.1,476.7 L253.9,461.0 L263.2,445.6 L273.1,430.6 L283.5,415.9 L294.5,401.5 L305.9,387.6 L317.8,374.0 L330.2,360.8 L343.0,348.1 L356.3,335.8 L370.1,324.0 L384.2,312.7 L398.7,301.9 L413.7,291.5 L429.0,281.7 L444.6,272.4 L460.5,263.7 L476.8,255.5 L493.4,247.9 L510.2,240.9 L527.2,234.4 L544.5,228.6 L562.0,223.3 L579.7,218.7 L597.6,214.7 L615.6,211.3 L633.7,208.5 L651.9,206.4 L670.2,204.9 L688.5,204.0 L706.9,203.8 L725.3,204.2 L743.7,205.3 L762.0,207.0 L780.3,209.3 L798.5,212.3 L816.6,216.0 L834.5,220.2 L852.4,225.1 L870.0,230.6 L887.5,236.8 L904.8,243.5 L921.8,250.8 L938.5,258.8 L955.0,267.3 L971.2,276.4 L987.1,286.1 L1002.6,296.3 L1017.8,307.1 L1032.6,318.4 L1047.0,330.2 L1061.1,342.5 L1074.6,355.4 L1087.8,368.7 L1100.4,382.4 L1112.6,396.6 L1124.3,411.2 L1135.5,426.3 L1146.1,441.7 L1156.3,457.5 L1165.8,473.7 L1174.8,490.1 L1183.3,507.0 L1191.1,524.1 L1198.3,541.4 L1205.0,559.1 L1211.0,576.9 L1216.4,595.0 L1221.2,613.3 L1225.3,631.7 L1228.8,650.3 L1231.6,669.0 L1233.8,687.9 L1235.3,706.7 L1236.2,725.7 L1236.4,744.7 L1235.9,763.6 L1234.8,782.6 L1233.0,801.6 L1230.5,820.4 L1227.4,839.2 L1223.7,857.9 L1219.2,876.4 L1214.2,894.8 L1208.5,913.1 L1202.1,931.1 L1195.1,948.9 L1187.5,966.5 L1179.3,983.8 L1170.5,1000.8 L1161.1,1017.5 L1151.1,1033.8 L1140.5,1049.9 L1129.4,1065.5 L1117.7,1080.8 L1105.4,1095.7 L1092.7,1110.1 L1079.5,1124.1 L1065.7,1137.6 L1051.5,1150.7 L1036.8,1163.3 L1021.7,1175.3 L1006.2,1186.8 L990.3,1197.8 L973.9,1208.2 L957.3,1218.1 L940.2,1227.3 L922.9,1236.0 L905.2,1244.1 L887.3,1251.5 L869.1,1258.4 L850.6,1264.6 L832.0,1270.1 L813.1,1275.0 L794.1,1279.2 L774.9,1282.8 L755.6,1285.7 L736.2,1287.9 L716.7,1289.5 L697.1,1290.4 L677.6,1290.5 L658.0,1290.0 L638.4,1288.9 L618.9,1287.0 L599.4,1284.4 L580.0,1281.2 L560.8,1277.3 L541.6,1272.7 L522.7,1267.5 L503.9,1261.5 L485.3,1255.0 L466.9,1247.8 L448.8,1239.9 L431.0,1231.4 L413.5,1222.3 L396.3,1212.5 L379.4,1202.2 L362.9,1191.3 L346.7,1179.8 L331.0,1167.7 L315.7,1155.1 L300.8,1141.9 L286.4,1128.3 L272.5,1114.1 L259.0,1099.4 L246.1,1084.3 L233.7,1068.7 L221.8,1052.6 L210.5,1036.2 L199.8,1019.4 L189.7,1002.2 L180.1,984.6 L171.2,966.7 L162.9,948.5 L155.2,930.0 L148.2,911.2 L141.9,892.2 L136.2,872.9 L131.1,853.5 L126.8,833.8 L123.1,814.1 L120.2,794.2 L117.9,774.2 L116.3,754.1 L115.5,733.9 L115.3,713.8 L115.8,693.6 L117.1,673.4 L119.0,653.3 L121.7,633.2 L125.0,613.3 L129.1,593.4 L133.8,573.7 L139.3,554.2 L145.4,534.8 L152.2,515.7 L159.6,496.8 L167.8,478.1 L176.5,459.8 L186.0,441.7 L196.0,424.0 L206.7,406.6 L217.9,389.6 L229.8,373.0 L242.3,356.8 L255.3,341.0 L268.9,325.7 L283.0,310.9 L297.6,296.5 L312.7,282.7 L328.3,269.4 L344.4,256.7 L360.9,244.5 L377.9,232.8 L395.2,221.8 L413.0,211.4 L431.1,201.6 L449.5,192.4 L468.3,183.9 L487.4,176.0 L506.7,168.8 L526.3,162.3 L546.1,156.4 L566.2,151.3 L586.4,146.8 L606.8,143.1 L627.3,140.1 L647.9,137.7 L668.6,136.2 L689.3,135.3 L710.1,135.1 L730.9,135.7 L751.6,137.0 L772.3,139.0 L793.0,141.8 L813.5,145.3 L834.0,149.5 L854.2,154.4 L874.4,160.0 L894.3,166.3 L914.0,173.3 L933.4,181.0 L952.6,189.4 L971.5,198.5 L990.1,208.2 L1008.3,218.5 L1026.2,229.6 L1043.7,241.2 L1060.8,253.4 L1077.4,266.3 L1093.6,279.7 L1109.4,293.7 L1124.6,308.2 L1139.4,323.3 L1153.6,338.8 L1167.3,354.9 L1180.4,371.5 L1192.9,388.5 L1204.9,406.0 L1216.2,423.8 L1226.9,442.1 L1237.0,460.8 L1246.4,479.8 L1255.1,499.1 L1263.2,518.7 L1270.6,538.6 L1277.3,558.8 L1283.3,579.2 L1288.6,599.8 L1293.1,620.6 L1297.0,641.6 L1300.0,662.7 L1302.4,683.9 L1304.0,705.2 L1304.9,726.5 L1305.0,747.9 L1304.4,769.3 L1303.1,790.7 L1300.9,812.0 L1298.1,833.2 L1294.5,854.3 L1290.1,875.4 L1285.1,896.2 L1279.3,916.9 L1272.8,937.4 L1265.5,957.6 L1257.6,977.6 L1248.9,997.4 L1239.6,1016.8 L1229.6,1035.9 L1218.9,1054.6 L1207.6,1073.0 L1195.6,1091.0 L1183.0,1108.5 L1169.7,1125.7 L1155.9,1142.3 L1141.5,1158.5 L1126.6,1174.2 L1111.0,1189.3 L1095.0,1203.9 L1078.4,1218.0 L1061.4,1231.4 L1043.9,1244.3 L1025.9,1256.6 L1007.5,1268.2 L988.7,1279.2 L969.5,1289.5 L950.0,1299.2 L930.1,1308.2 L909.9,1316.4 L889.4,1324.0 L868.7,1330.9 L847.7,1337.0 L826.5,1342.4 L805.1,1347.1 L783.5,1351.0 L761.8,1354.2 L740.0,1356.6 L718.1,1358.2 L696.2,1359.1 L674.2,1359.2 L652.2,1358.5 L630.3,1357.1 L608.4,1354.9 L586.6,1352.0 L564.8,1348.2 L543.2,1343.8 L521.8,1338.5 L500.5,1332.5 L479.5,1325.8 L458.7,1318.3 L438.1,1310.2 L417.9,1301.2 L397.9,1291.6 L378.3,1281.3 L359.0,1270.3 L340.2,1258.6 L321.7,1246.3 L303.7,1233.3 L286.1,1219.7 L269.0,1205.5 L252.4,1190.7 L236.3,1175.3 L220.7,1159.3 L205.7,1142.8 L191.3,1125.8 L177.5,1108.3 L164.3,1090.3 L151.7,1071.8 L139.8,1052.9 L128.5,1033.6 L117.9,1013.8 L108.0,993.7 L98.8,973.3 L90.3,952.5 L82.6,931.5 L75.5,910.2 L69.2,888.6 L63.7,866.8 L58.9,844.8 L54.9,822.6 L51.7,800.4 L49.3,778.0 L47.6,755.5 L46.7,732.9 L46.6,710.3 L47.3,687.8 L48.8,665.2 L51.1,642.7 L54.2,620.3 L58.0,598.0 L62.6,575.8 L68.0,553.8 L74.2,532.0 L81.1,510.3 L88.8,489.0 L97.3,467.9 L106.4,447.1 L116.3,426.6 L126.9,406.4 L138.3,386.7 L150.3,367.3 L162.9,348.4 L176.3,329.9 L190.3,311.8 L204.9,294.3 L220.1,277.2 L236.0,260.7 L252.4,244.8 L269.3,229.4 L286.8,214.6 L304.9,200.4 L323.4,186.9 L342.3,174.0 L361.8,161.8 L381.6,150.2 L401.9,139.3 L422.5,129.2 L443.5,119.8 L464.9,111.1 L486.5,103.1 L508.4,95.9 L530.6,89.5 L552.9,83.8 L575.5,79.0 L598.3,74.9 L621.1,71.6 L644.1,69.1 L667.2,67.4 L690.4,66.5 L713.6,66.5 L736.7,67.2 L759.9,68.8 L783.0,71.1 L806.0,74.3" fill="none" stroke="#aaaaaa" stroke-width="1"/>
<path d="M530.0,434.5 L540.2,428.7 L550.6,423.2 L561.3,418.0 L572.1,413.3 L583.1,408.9 L594.3,404.9 L605.6,401.3 L617.1,398.0 L628.6,395.2 L640.3,392.8 L652.1,390.8 L663.9,389.2 L675.8,388.0 L687.7,387.2 L699.7,386.9 L711.7,386.9 L723.7,387.4 L735.7,388.3 L747.7,389.6 L759.6,391.4 L771.5,393.5 L783.3,396.1 L795.0,399.1 L806.6,402.5 L818.1,406.3 L829.5,410.5 L840.7,415.1 L851.8,420.1 L862.7,425.5 L873.4,431.3 L883.9,437.5 L894.3,444.0 L904.3,450.9 L914.2,458.2 L923.8,465.8 L933.2,473.7 L942.2,482.0 L951.0,490.6 L959.5,499.5 L967.7,508.7 L975.6,518.2 L983.1,527.9 L990.3,538.0 L997.1,548.3 L1003.6,558.8 L1009.8,569.6 L1015.5,580.6 L1020.9,591.8 L1025.9,603.2 L1030.4,614.8 L1034.6,626.5 L1038.4,638.4 L1041.8,650.4 L1044.7,662.6 L1047.2,674.9 L1049.3,687.2 L1051.0,699.6 L1052.2,712.1 L1053.0,724.7 L1053.3,737.3 L1053.2,749.9 L1052.7,762.5 L1051.7,775.0 L1050.3,787.6 L1048.5,800.1 L1046.2,812.6 L1043.4,824.9 L1040.3,837.2 L1036.7,849.4 L1032.7,861.5 L1028.2,873.4 L1023.3,885.2 L1018.1,896.8 L1012.4,908.2 L1006.3,919.5 L999.8,930.5 L992.9,941.3 L985.7,951.9 L978.0,962.2 L970.0,972.3 L961.7,982.1 L953.0,991.6 L944.0,1000.7 L934.6,1009.6 L924.9,1018.2 L915.0,1026.4 L904.7,1034.3 L894.2,1041.8 L883.3,1049.0 L872.3,1055.8 L861.0,1062.2 L849.4,1068.2 L837.7,1073.8 L825.7,1079.0 L813.6,1083.8 L801.3,1088.1 L788.8,1092.1 L776.2,1095.6 L763.4,1098.6 L750.6,1101.2 L737.6,1103.4 L724.6,1105.1 L711.5,1106.4 L698.4,1107.2 L685.2,1107.5 L672.0,1107.4 L658.8,1106.8 L645.6,1105.7 L632.5,1104.2 L619.4,1102.3 L606.3,1099.8 L593.4,1097.0 L580.5,1093.6 L567.7,1089.8 L555.1,1085.6 L542.6,1080.9 L530.3,1075.8 L518.2,1070.2 L506.2,1064.3 L494.5,1057.9 L482.9,1051.1 L471.6,1043.8 L460.6,1036.2 L449.8,1028.2 L439.3,1019.8 L429.0,1011.1 L419.1,1002.0 L409.5,992.5 L400.2,982.7 L391.3,972.5 L382.7,962.1 L374.5,951.3 L366.6,940.3 L359.1,929.0 L352.1,917.4 L345.4,905.5 L339.1,893.4 L333.3,881.1 L327.9,868.6 L322.9,855.9 L318.4,843.0 L314.3,830.0 L310.6,816.8 L307.5,803.4 L304.8,790.0 L302.5,776.4 L300.8,762.8 L299.5,749.1 L298.7,735.4 L298.3,721.6 L298.5,707.8 L299.1,694.0 L300.2,680.2 L301.8,666.5 L303.9,652.8 L306.5,639.2 L309.5,625.6 L313.0,612.2 L317.0,598.9 L321.5,585.7 L326.4,572.7 L331.8,559.8 L337.6,547.1 L343.8,534.6 L350.5,522.4 L357.7,510.3 L365.3,498.5 L373.2,487.0 L381.6,475.7 L390.4,464.8 L399.6,454.1 L409.1,443.8 L419.0,433.7 L429.3,424.1 L439.9,414.7 L450.8,405.8 L462.0,397.2 L473.6,389.0 L485.4,381.3 L497.6,373.9 L509.9,366.9 L522.6,360.4 L535.4,354.4 L548.5,348.7 L561.8,343.5 L575.2,338.8 L588.9,334.6 L602.7,330.8 L616.6,327.5 L630.6,324.7 L644.8,322.4 L659.0,320.6 L673.3,319.3 L687.6,318.5 L702.0,318.2 L716.4,318.3 L730.8,319.0 L745.2,320.2 L759.5,321.9 L773.8,324.1 L788.0,326.8 L802.1,330.0 L816.1,333.7 L830.0,337.9 L843.7,342.5 L857.3,347.7 L870.7,353.3 L884.0,359.4 L897.0,366.0 L909.8,373.0 L922.3,380.4 L934.6,388.4 L946.6,396.7 L958.3,405.5 L969.7,414.6 L980.8,424.2 L991.6,434.2 L1002.0,444.5 L1012.1,455.2 L1021.8,466.3 L1031.1,477.7 L1040.0,489.5 L1048.5,501.5 L1056.6,513.9 L1064.3,526.5 L1071.5,539.4 L1078.3,552.6 L1084.6,566.0 L1090.4,579.6 L1095.8,593.5 L1100.7,607.5 L1105.1,621.7 L1109.0,636.1 L1112.4,650.6 L1115.3,665.2 L1117.7,680.0 L1119.5,694.8 L1120.9,709.7 L1121.7,724.6 L1122.0,739.6 L1121.8,754.6 L1121.1,769.6 L1119.8,784.6 L1118.0,799.5 L1115.7,814.4 L1112.9,829.2 L1109.5,843.9 L1105.6,858.4 L1101.3,872.9 L1096.4,887.2 L1091.0,901.3 L1085.1,915.3 L1078.8,929.1 L1071.9,942.6 L1064.6,955.9 L1056.8,968.9 L1048.5,981.7 L1039.8,994.2 L1030.7,1006.4 L1021.1,1018.3 L1011.1,1029.8 L1000.7,1041.0 L990.0,1051.8 L978.8,1062.3 L967.3,1072.4 L955.4,1082.0 L943.1,1091.3 L930.6,1100.1 L917.7,1108.5 L904.5,1116.5 L891.1,1124.0 L877.4,1131.0 L863.4,1137.5 L849.2,1143.6 L834.8,1149.1 L820.2,1154.2 L805.4,1158.8 L790.4,1162.8 L775.3,1166.3 L760.1,1169.3 L744.8,1171.7 L729.4,1173.7 L713.9,1175.0 L698.3,1175.9 L682.7,1176.2 L667.1,1175.9 L651.6,1175.1 L636.0,1173.8 L620.5,1171.9 L605.0,1169.5 L589.6,1166.5 L574.4,1163.0 L559.2,1159.0 L544.2,1154.4 L529.3,1149.3 L514.6,1143.7 L500.1,1137.5 L485.8,1130.9 L471.8,1123.8 L458.0,1116.1 L444.4,1108.0 L431.2,1099.4 L418.2,1090.3 L405.5,1080.8 L393.2,1070.9 L381.2,1060.5 L369.6,1049.6 L358.4,1038.4 L347.5,1026.8 L337.1,1014.8 L327.0,1002.4 L317.4,989.7 L308.3,976.6 L299.6,963.2 L291.3,949.6 L283.6,935.6 L276.3,921.3 L269.5,906.8 L263.2,892.0 L257.5,877.0 L252.3,861.9 L247.6,846.5 L243.4,831.0 L239.8,815.3 L236.7,799.4 L234.2,783.5 L232.2,767.5 L230.8,751.4 L229.9,735.3 L229.6,719.1 L229.9,702.9 L230.8,686.7 L232.2,670.5 L234.2,654.4 L236.7,638.4 L239.8,622.4 L243.5,606.6 L247.7,590.8 L252.5,575.2 L257.8,559.8 L263.6,544.6 L270.0,529.5 L277.0,514.7 L284.4,500.1 L292.3,485.8 L300.8,471.8 L309.7,458.0 L319.2,444.6 L329.1,431.4 L339.4,418.7 L350.2,406.2 L361.5,394.2 L373.1,382.6 L385.2,371.3 L397.7,360.5 L410.5,350.1 L423.8,340.1 L437.3,330.7 L451.2,321.7 L465.4,313.1 L480.0,305.1 L494.8,297.6 L509.8,290.6 L525.2,284.1 L540.7,278.1 L556.5,272.7 L572.4,267.9 L588.5,263.6 L604.8,259.8 L621.2,256.7 L637.8,254.1 L654.4,252.0 L671.1,250.6 L687.8,249.7 L704.6,249.5 L721.4,249.8 L738.2,250.7 L754.9,252.2 L771.6,254.3 L788.3,256.9 L804.8,260.2 L821.3,264.0 L837.6,268.4 L853.7,273.4 L869.7,278.9 L885.5,285.0 L901.1,291.6 L916.4,298.8 L931.5,306.6 L946.4,314.8 L960.9,323.6 L975.2,332.9 L989.1,342.7 L1002.7,353.0 L1015.9,363.7 L1028.8,374.9 L1041.2,386.6 L1053.3,398.7 L1064.9,411.2 L1076.1,424.2 L1086.9,437.5 L1097.1,451.2 L1107.0,465.3 L1116.3,479.7 L1125.1,494.5 L1133.4,509.5 L1141.2,524.9 L1148.4,540.5 L1155.1,556.4 L1161.2,572.5 L1166.8,588.8 L1171.8,605.4 L1176.3,622.1 L1180.1,638.9 L1183.4,655.9 L1186.0,673.1 L1188.1,690.3 L1189.6,707.6 L1190.4,724.9 L1190.7,742.3 L1190.3,759.7 L1189.4,777.1 L1187.8,794.4 L1185.6,811.7 L1182.9,828.9 L1179.5,846.1 L1175.5,863.1 L1170.9,880.0 L1165.8,896.7 L1160.0,913.2 L1153.7,929.6 L1146.8,945.7 L1139.3,961.6 L1131.3,977.2 L1122.7,992.6 L1113.6,1007.6 L1104.0,1022.4 L1093.8,1036.8 L1083.1,1050.8 L1072.0,1064.5 L1060.4,1077.8 L1048.3,1090.7 L1035.7,1103.1 L1022.7,1115.1 L1009.3,1126.7 L995.5,1137.8 L981.3,1148.5 L966.7,1158.6 L951.8,1168.2 L936.5,1177.3 L920.9,1185.9 L905.0,1193.9 L888.8,1201.4 L872.4,1208.3 L855.7,1214.6 L838.8,1220.4 L821.7,1225.5 L804.4,1230.1 L786.9,1234.1 L769.3,1237.4 L751.6,1240.1 L733.8,1242.3 L715.9,1243.8 L698.0,1244.6 L680.0,1244.9 L662.0,1244.5 L644.0,1243.5 L626.1,1241.8 L608.2,1239.5 L590.4,1236.6 L572.7,1233.1 L555.1,1229.0 L537.6,1224.2 L520.3,1218.9 L503.2,1212.9 L486.3,1206.3 L469.7,1199.2 L453.2,1191.4 L437.1,1183.1 L421.2,1174.2 L405.7,1164.8 L390.4,1154.8 L375.6,1144.3 L361.1,1133.2 L346.9,1121.7 L333.2,1109.6 L319.9,1097.1 L307.0,1084.1 L294.6,1070.7 L282.7,1056.8 L271.2,1042.5 L260.2,1027.8 L249.8,1012.7 L239.8,997.3 L230.5,981.5 L221.6,965.3 L213.3,948.9 L205.6,932.2 L198.5,915.1 L192.0,897.9 L186.1,880.4 L180.8,862.7 L176.1,844.8 L172.0,826.8 L168.6,808.6 L165.8,790.3 L163.6,771.9 L162.1,753.4 L161.2,734.8 L161.0,716.2 L161.4,697.7 L162.5,679.1 L164.2,660.5 L166.6,642.1 L169.6,623.7 L173.2,605.4 L177.5,587.2 L182.5,569.2 L188.0,551.3 L194.2,533.7 L201.0,516.2 L208.5,499.0 L216.5,482.0 L225.1,465.4 L234.3,449.0 L244.1,432.9 L254.4,417.2 L265.3,401.9 L276.7,386.9 L288.7,372.3 L301.1,358.2 L314.1,344.4 L327.5,331.2 L341.4,318.4 L355.7,306.0 L370.5,294.2 L385.7,282.9 L401.3,272.1 L417.3,261.9 L433.6,252.2 L450.3,243.1 L467.3,234.6 L484.6,226.6 L502.1,219.3 L519.9,212.6 L538.0,206.5 L556.3,201.0 L574.7,196.2 L593.4,192.0 L612.2,188.5 L631.1,185.6 L650.1,183.4 L669.2,181.9 L688.3,181.0 L707.5,180.8 L726.7,181.3 L745.9,182.4 L765.0,184.2 L784.1,186.7 L803.1,189.8 L822.0,193.6 L840.7,198.1 L859.3,203.2 L877.7,208.9 L895.9,215.4 L913.9,222.4 L931.7,230.1 L949.2,238.4 L966.4,247.3 L983.2,256.8 L999.8,266.9 L1016.0,277.6 L1031.8,288.8 L1047.3,300.6 L1062.3,313.0 L1076.9,325.9 L1091.0,339.2 L1104.7,353.1 L1117.9,367.5 L1130.6,382.3 L1142.8,397.6 L1154.4,413.2 L1165.5,429.3 L1176.1,445.8 L1186.0,462.7 L1195.4,479.9 L1204.2,497.4 L1212.3,515.3 L1219.9,533.4 L1226.8,551.8 L1233.1,570.4 L1238.7,589.3 L1243.6,608.3 L1247.9,627.6 L1251.5,647.0 L1254.5,666.5 L1256.7,686.1 L1258.3,705.8 L1259.2,725.5 L1259.4,745.3 L1258.9,765.1 L1257.7,784.8 L1255.8,804.6 L1253.2,824.2 L1250.0,843.8 L1246.0,863.3 L1241.4,882.6 L1236.1,901.8 L1230.1,920.8 L1223.5,939.5 L1216.2,958.1 L1208.3,976.4 L1199.7,994.4 L1190.5,1012.1 L1180.7,1029.5 L1170.2,1046.6 L1159.2,1063.3 L1147.6,1079.6 L1135.4,1095.5 L1122.7,1110.9 L1109.4,1126.0 L1095.6,1140.5 L1081.2,1154.6 L1066.4,1168.2 L1051.1,1181.3 L1035.4,1193.8 L1019.2,1205.8 L1002.6,1217.2 L985.6,1228.1 L968.2,1238.3 L950.5,1247.9 L932.4,1257.0 L914.0,1265.4 L895.3,1273.1 L876.3,1280.2 L857.1,1286.6 L837.7,1292.4 L818.0,1297.5 L798.2,1301.9 L778.2,1305.6 L758.1,1308.6 L737.9,1310.9 L717.6,1312.5 L697.3,1313.4 L676.9,1313.5 L656.5,1313.0 L636.2,1311.7 L615.8,1309.8 L595.6,1307.1 L575.4,1303.7 L555.4,1299.7 L535.5,1294.9 L515.7,1289.4 L496.2,1283.2 L476.8,1276.4 L457.7,1268.8 L438.9,1260.6 L420.4,1251.8 L402.1,1242.3 L384.2,1232.1 L366.7,1221.4 L349.5,1210.0 L332.7,1198.0 L316.3,1185.4 L300.4,1172.3 L285.0,1158.6 L270.0,1144.3 L255.5,1129.6 L241.5,1114.3 L228.1,1098.6 L215.2,1082.3 L202.8,1065.6 L191.1,1048.5 L180.0,1031.0 L169.4,1013.1 L159.5,994.8 L150.3,976.2 L141.6,957.2 L133.7,938.0 L126.4,918.4 L119.8,898.7 L113.9,878.6 L108.7,858.4 L104.2,838.0 L100.4,817.4 L97.3,796.7 L95.0,775.9 L93.4,755.0 L92.5,734.1 L92.3,713.1 L92.9,692.1 L94.2,671.2 L96.2,650.2 L99.0,629.4 L102.5,608.6 L106.7,588.0 L111.7,567.5 L117.3,547.2 L123.7,527.1 L130.8,507.2 L138.6,487.6 L147.0,468.2 L156.2,449.1 L166.0,430.3 L176.4,411.9 L187.5,393.9 L199.2,376.2 L211.6,358.9 L224.6,342.1 L238.1,325.8 L252.2,309.9 L266.9,294.4 L282.1,279.6 L297.8,265.2 L314.0,251.4 L330.8,238.1 L347.9,225.5 L365.6,213.4 L383.6,202.0 L402.0,191.1 L420.9,181.0 L440.0,171.5 L459.5,162.6 L479.4,154.5 L499.5,147.0 L519.8,140.2 L540.4,134.2 L561.2,128.8 L582.2,124.2 L603.4,120.3 L624.7,117.2 L646.1,114.8 L667.6,113.2 L689.2,112.3 L710.7,112.1 L732.3,112.8 L753.9,114.1 L775.4,116.2 L796.8,119.1 L818.2,122.7 L839.4,127.1 L860.5,132.2 L881.3,138.1 L902.0,144.6 L922.5,151.9 L942.7,160.0 L962.6,168.7 L982.2,178.1 L1001.5,188.2 L1020.4,199.0 L1038.9,210.4 L1057.1,222.5 L1074.8,235.2 L1092.1,248.5 L1108.9,262.5 L1125.3,277.0 L1141.1,292.1 L1156.4,307.8 L1171.1,324.0 L1185.3,340.7 L1198.9,357.9 L1211.9,375.5 L1224.3,393.7 L1236.0,412.2 L1247.1,431.2 L1257.6,450.6 L1267.3,470.3 L1276.4,490.3 L1284.8,510.7 L1292.4,531.4 L1299.4,552.3 L1305.6,573.5 L1311.0,594.9 L1315.7,616.5 L1319.7,638.3 L1322.9,660.2 L1325.3,682.2 L1327.0,704.3 L1327.9,726.4 L1328.0,748.6 L1327.4,770.8 L1325.9,792.9 L1323.7,815.0 L1320.8,837.1 L1317.0,859.0 L1312.5,880.8 L1307.2,902.4 L1301.2,923.9 L1294.4,945.1 L1286.9,966.1 L1278.6,986.9 L1269.6,1007.3 L1260.0,1027.5 L1249.6,1047.3 L1238.5,1066.7 L1226.7,1085.8 L1214.3,1104.4 L1201.2,1122.6 L1187.4,1140.4 L1173.1,1157.6 L1158.2,1174.4 L1142.6,1190.6 L1126.5,1206.3 L1109.9,1221.5 L1092.7,1236.0 L1075.0,1250.0 L1056.9,1263.3 L1038.2,1276.0 L1019.1,1288.1 L999.6,1299.4 L979.7,1310.1 L959.5,1320.1 L938.8,1329.4 L917.9,1338.0 L896.7,1345.9 L875.1,1353.0 L853.4,1359.3 L831.4,1364.9 L809.2,1369.7 L786.9,1373.8 L764.4,1377.0 L741.8,1379.5 L719.1,1381.2 L696.3,1382.1 L673.5,1382.2 L650.8,1381.5 L628.0,1380.0 L605.3,1377.7 L582.7,1374.6 L560.2,1370.8 L537.8,1366.1 L515.6,1360.7 L493.5,1354.4 L471.7,1347.5 L450.2,1339.7 L428.9,1331.2 L407.9,1322.0 L387.2,1312.0 L366.9,1301.3 L346.9,1289.9 L327.4,1277.8 L308.3,1265.0 L289.6,1251.5 L271.4,1237.4 L253.7,1222.7 L236.5,1207.3 L219.8,1191.4 L203.7,1174.8 L188.2,1157.7 L173.3,1140.1 L159.0,1121.9 L145.3,1103.2 L132.3,1084.1 L119.9,1064.5 L108.3,1044.4 L97.3,1024.0 L87.0,1003.2 L77.5,982.0 L68.7,960.5 L60.7,938.7 L53.4,916.6 L46.9,894.2 L41.2,871.7 L36.3,848.9 L32.2,826.0 L28.9,802.9 L26.3,779.7 L24.6,756.4 L23.7,733.0 L23.7,709.6 L24.4,686.3 L25.9,662.9 L28.3,639.6 L31.5,616.4 L35.5,593.3 L40.3,570.3 L45.9,547.5 L52.3,524.9 L59.5,502.6 L67.5,480.4 L76.2,458.6 L85.7,437.1 L96.0,415.9 L107.0,395.0 L118.7,374.6 L131.1,354.5 L144.3,334.9 L158.1,315.8 L172.6,297.1 L187.7,278.9 L203.5,261.3 L219.9,244.2 L236.9,227.7 L254.5,211.8 L272.6,196.5 L291.3,181.9 L310.4,167.9 L330.1,154.5 L350.2,141.9 L370.8,129.9 L391.7,118.7 L413.1,108.2 L434.8,98.5 L456.9,89.5 L479.3,81.3 L502.0,73.8 L524.9,67.2 L548.1,61.4 L571.4,56.3 L595.0,52.1 L618.6,48.7 L642.4,46.2 L666.3,44.4 L690.3,43.5 L714.3,43.5 L738.2,44.3 L762.2,45.9 L786.1,48.3 L809.9,51.6" fill="none" stroke="#aaaaaa" stroke-width="1"/>
<line x1="693.0" y1="456.0" x2="693.0" y2="112.5" stroke="#aaaaaa" stroke-width="1"/>
<line x1="874.0" y1="514.3" x2="1094.8" y2="251.1" stroke="#aaaaaa" stroke-width="1"/>
<line x1="977.9" y1="679.8" x2="1316.2" y2="620.1" stroke="#aaaaaa" stroke-width="1"/>
<line x1="950.1" y1="878.4" x2="1247.6" y2="1050.2" stroke="#aaaaaa" stroke-width="1"/>
<line x1="797.2" y1="1016.2" x2="914.6" y2="1339.0" stroke="#aaaaaa" stroke-width="1"/>
<line x1="586.2" y1="1023.3" x2="468.7" y2="1346.1" stroke="#aaaaaa" stroke-width="1"/>
<line x1="416.0" y1="889.9" x2="118.6" y2="1061.7" stroke="#aaaaaa" stroke-width="1"/>
<line x1="370.5" y1="673.1" x2="32.3" y2="613.5" stroke="#aaaaaa" stroke-width="1"/>
<line x1="477.6" y1="473.3" x2="256.8" y2="210.2" stroke="#aaaaaa" stroke-width="1"/>
<line x1="575.0" y1="495.1" x2="569.2" y2="483.4" stroke="#aaaaaa" stroke-width="1"/>
<line x1="631.8" y1="471.7" x2="628.8" y2="459.1" stroke="#aaaaaa" stroke-width="1"/>
<line x1="693.0" y1="462.0" x2="693.0" y2="449.0" stroke="#aaaaaa" stroke-width="1"/>
<line x1="755.4" y1="466.7" x2="758.4" y2="454.1" stroke="#aaaaaa" stroke-width="1"/>
<line x1="815.6" y1="486.0" x2="821.4" y2="474.3" stroke="#aaaaaa" stroke-width="1"/>
<line x1="870.2" y1="518.9" x2="878.5" y2="508.9" stroke="#aaaaaa" stroke-width="1"/>
<line x1="916.1" y1="563.9" x2="926.6" y2="556.1" stroke="#aaaaaa" stroke-width="1"/>
<line x1="950.8" y1="618.8" x2="962.7" y2="613.7" stroke="#aaaaaa" stroke-width="1"/>
<line x1="972.0" y1="680.8" x2="984.8" y2="678.6" stroke="#aaaaaa" stroke-width="1"/>
<line x1="978.3" y1="746.6" x2="991.3" y2="747.4" stroke="#aaaaaa" stroke-width="1"/>
<line x1="969.2" y1="812.7" x2="981.7" y2="816.4" stroke="#aaaaaa" stroke-width="1"/>
<line x1="944.9" y1="875.4" x2="956.2" y2="881.9" stroke="#aaaaaa" stroke-width="1"/>
<line x1="906.4" y1="931.4" x2="915.9" y2="940.3" stroke="#aaaaaa" stroke-width="1"/>
<line x1="855.6" y1="977.3" x2="862.8" y2="988.2" stroke="#aaaaaa" stroke-width="1"/>
<line x1="795.1" y1="1010.5" x2="799.6" y2="1022.7" stroke="#aaaaaa" stroke-width="1"/>
<line x1="728.0" y1="1029.0" x2="729.5" y2="1042.0" stroke="#aaaaaa" stroke-width="1"/>
<line x1="657.8" y1="1031.6" x2="656.2" y2="1044.5" stroke="#aaaaaa" stroke-width="1"/>
<line x1="588.3" y1="1017.7" x2="583.8" y2="1029.9" stroke="#aaaaaa" stroke-width="1"/>
<line x1="523.4" y1="987.9" x2="516.2" y2="998.8" stroke="#aaaaaa" stroke-width="1"/>
<line x1="466.6" y1="943.6" x2="457.1" y2="952.5" stroke="#aaaaaa" stroke-width="1"/>
<line x1="421.2" y1="886.9" x2="410.0" y2="893.4" stroke="#aaaaaa" stroke-width="1"/>
<line x1="389.9" y1="820.7" x2="377.5" y2="824.5" stroke="#aaaaaa" stroke-width="1"/>
<line x1="374.7" y1="748.5" x2="361.7" y2="749.3" stroke="#aaaaaa" stroke-width="1"/>
<line x1="376.4" y1="674.2" x2="363.6" y2="671.9" stroke="#aaaaaa" stroke-width="1"/>
<line x1="395.5" y1="601.7" x2="383.6" y2="596.5" stroke="#aaaaaa" stroke-width="1"/>
<line x1="431.1" y1="535.0" x2="420.7" y2="527.3" stroke="#aaaaaa" stroke-width="1"/>
<line x1="481.5" y1="477.9" x2="473.1" y2="468.0" stroke="#aaaaaa" stroke-width="1"/>
<line x1="544.2" y1="433.7" x2="538.3" y2="422.0" stroke="#aaaaaa" stroke-width="1"/>
<line x1="615.9" y1="404.9" x2="612.9" y2="392.2" stroke="#aaaaaa" stroke-width="1"/>
<line x1="693.0" y1="393.3" x2="693.0" y2="380.3" stroke="#aaaaaa" stroke-width="1"/>
<line x1="771.2" y1="399.9" x2="774.2" y2="387.3" stroke="#aaaaaa" stroke-width="1"/>
<line x1="846.4" y1="424.6" x2="852.2" y2="412.9" stroke="#aaaaaa" stroke-width="1"/>
<line x1="914.3" y1="466.2" x2="922.7" y2="456.3" stroke="#aaaaaa" stroke-width="1"/>
<line x1="971.2" y1="522.9" x2="981.7" y2="515.1" stroke="#aaaaaa" stroke-width="1"/>
<line x1="1013.8" y1="591.6" x2="1025.8" y2="586.5" stroke="#aaaaaa" stroke-width="1"/>
<line x1="1039.6" y1="668.9" x2="1052.4" y2="666.6" stroke="#aaaaaa" stroke-width="1"/>
<line x1="1046.9" y1="750.6" x2="1059.9" y2="751.4" stroke="#aaaaaa" stroke-width="1"/>
<line x1="1035.1" y1="832.4" x2="1047.5" y2="836.1" stroke="#aaaaaa" stroke-width="1"/>
<line x1="1004.4" y1="909.8" x2="1015.7" y2="916.3" stroke="#aaaaaa" stroke-width="1"/>
<line x1="956.4" y1="978.5" x2="965.9" y2="987.4" stroke="#aaaaaa" stroke-width="1"/>
<line x1="893.4" y1="1034.7" x2="900.5" y2="1045.6" stroke="#aaaaaa" stroke-width="1"/>
<line x1="818.6" y1="1075.1" x2="823.0" y2="1087.3" stroke="#aaaaaa" stroke-width="1"/>
<line x1="735.9" y1="1097.3" x2="737.4" y2="1110.2" stroke="#aaaaaa" stroke-width="1"/>
<line x1="649.8" y1="1099.8" x2="648.3" y2="1112.7" stroke="#aaaaaa" stroke-width="1"/>
<line x1="564.8" y1="1082.3" x2="560.3" y2="1094.5" stroke="#aaaaaa" stroke-width="1"/>
<line x1="485.6" y1="1045.3" x2="478.5" y2="1056.2" stroke="#aaaaaa" stroke-width="1"/>
<line x1="416.6" y1="990.7" x2="407.2" y2="999.7" stroke="#aaaaaa" stroke-width="1"/>
<line x1="361.7" y1="921.2" x2="350.5" y2="927.8" stroke="#aaaaaa" stroke-width="1"/>
<line x1="324.1" y1="840.4" x2="311.7" y2="844.2" stroke="#aaaaaa" stroke-width="1"/>
<line x1="306.1" y1="752.5" x2="293.1" y2="753.3" stroke="#aaaaaa" stroke-width="1"/>
<line x1="308.8" y1="662.3" x2="296.0" y2="660.0" stroke="#aaaaaa" stroke-width="1"/>
<line x1="332.4" y1="574.5" x2="320.5" y2="569.3" stroke="#aaaaaa" stroke-width="1"/>
<line x1="376.0" y1="494.0" x2="365.6" y2="486.2" stroke="#aaaaaa" stroke-width="1"/>
<line x1="437.3" y1="425.3" x2="429.0" y2="415.3" stroke="#aaaaaa" stroke-width="1"/>
<line x1="513.3" y1="372.3" x2="507.5" y2="360.7" stroke="#aaaaaa" stroke-width="1"/>
<line x1="600.1" y1="338.0" x2="597.1" y2="325.4" stroke="#aaaaaa" stroke-width="1"/>
<line x1="693.0" y1="324.6" x2="693.0" y2="311.6" stroke="#aaaaaa" stroke-width="1"/>
<line x1="787.1" y1="333.1" x2="790.1" y2="320.4" stroke="#aaaaaa" stroke-width="1"/>
<line x1="877.2" y1="363.2" x2="883.1" y2="351.6" stroke="#aaaaaa" stroke-width="1"/>
<line x1="958.5" y1="413.6" x2="966.8" y2="403.6" stroke="#aaaaaa" stroke-width="1"/>
<line x1="1026.3" y1="481.8" x2="1036.8" y2="474.1" stroke="#aaaaaa" stroke-width="1"/>
<line x1="1076.9" y1="564.4" x2="1088.9" y2="559.2" stroke="#aaaaaa" stroke-width="1"/>
<line x1="1107.3" y1="657.0" x2="1120.1" y2="654.7" stroke="#aaaaaa" stroke-width="1"/>
<line x1="1115.5" y1="754.6" x2="1128.5" y2="755.4" stroke="#aaaaaa" stroke-width="1"/>
<line x1="1100.9" y1="852.1" x2="1113.3" y2="855.8" stroke="#aaaaaa" stroke-width="1"/>
<line x1="1063.9" y1="944.2" x2="1075.2" y2="950.7" stroke="#aaaaaa" stroke-width="1"/>
<line x1="1006.4" y1="1025.7" x2="1015.8" y2="1034.6" stroke="#aaaaaa" stroke-width="1"/>
<line x1="931.2" y1="1092.1" x2="938.3" y2="1103.0" stroke="#aaaaaa" stroke-width="1"/>
<line x1="842.1" y1="1139.6" x2="846.5" y2="1151.9" stroke="#aaaaaa" stroke-width="1"/>
<line x1="743.9" y1="1165.5" x2="745.4" y2="1178.4" stroke="#aaaaaa" stroke-width="1"/>
<line x1="641.8" y1="1168.0" x2="640.3" y2="1181.0" stroke="#aaaaaa" stroke-width="1"/>
<line x1="541.3" y1="1146.8" x2="536.8" y2="1159.0" stroke="#aaaaaa" stroke-width="1"/>
<line x1="447.9" y1="1102.7" x2="440.7" y2="1113.6" stroke="#aaaaaa" stroke-width="1"/>
<line x1="366.7" y1="1037.9" x2="357.2" y2="1046.8" stroke="#aaaaaa" stroke-width="1"/>
<line x1="302.2" y1="955.6" x2="291.0" y2="962.1" stroke="#aaaaaa" stroke-width="1"/>
<line x1="258.3" y1="860.1" x2="245.9" y2="863.9" stroke="#aaaaaa" stroke-width="1"/>
<line x1="237.5" y1="756.5" x2="224.5" y2="757.3" stroke="#aaaaaa" stroke-width="1"/>
<line x1="241.1" y1="650.3" x2="228.3" y2="648.1" stroke="#aaaaaa" stroke-width="1"/>
<line x1="269.4" y1="547.3" x2="257.4" y2="542.1" stroke="#aaaaaa" stroke-width="1"/>
<line x1="320.9" y1="453.0" x2="310.4" y2="445.2" stroke="#aaaaaa" stroke-width="1"/>
<line x1="393.2" y1="372.7" x2="384.8" y2="362.7" stroke="#aaaaaa" stroke-width="1"/>
<line x1="482.5" y1="310.9" x2="476.7" y2="299.3" stroke="#aaaaaa" stroke-width="1"/>
<line x1="584.3" y1="271.2" x2="581.3" y2="258.5" stroke="#aaaaaa" stroke-width="1"/>
<line x1="693.0" y1="255.9" x2="693.0" y2="242.9" stroke="#aaaaaa" stroke-width="1"/>
<line x1="802.9" y1="266.2" x2="805.9" y2="253.6" stroke="#aaaaaa" stroke-width="1"/>
<line x1="908.1" y1="301.8" x2="913.9" y2="290.2" stroke="#aaaaaa" stroke-width="1"/>
<line x1="1002.7" y1="361.0" x2="1011.0" y2="351.0" stroke="#aaaaaa" stroke-width="1"/>
<line x1="1081.5" y1="440.8" x2="1091.9" y2="433.0" stroke="#aaaaaa" stroke-width="1"/>
<line x1="1140.0" y1="537.2" x2="1151.9" y2="532.0" stroke="#aaaaaa" stroke-width="1"/>
<line x1="1174.9" y1="645.0" x2="1187.7" y2="642.8" stroke="#aaaaaa" stroke-width="1"/>
<line x1="1184.1" y1="758.6" x2="1197.1" y2="759.4" stroke="#aaaaaa" stroke-width="1"/>
<line x1="1166.7" y1="871.8" x2="1179.1" y2="875.5" stroke="#aaaaaa" stroke-width="1"/>
<line x1="1123.4" y1="978.5" x2="1134.7" y2="985.0" stroke="#aaaaaa" stroke-width="1"/>
<line x1="1056.4" y1="1072.8" x2="1065.8" y2="1081.7" stroke="#aaaaaa" stroke-width="1"/>
<line x1="968.9" y1="1149.5" x2="976.0" y2="1160.4" stroke="#aaaaaa" stroke-width="1"/>
<line x1="865.6" y1="1204.2" x2="870.0" y2="1216.4" stroke="#aaaaaa" stroke-width="1"/>
<line x1="751.9" y1="1233.7" x2="753.4" y2="1246.7" stroke="#aaaaaa" stroke-width="1"/>
<line x1="633.8" y1="1236.3" x2="632.3" y2="1249.2" stroke="#aaaaaa" stroke-width="1"/>
<line x1="517.8" y1="1211.4" x2="513.3" y2="1223.6" stroke="#aaaaaa" stroke-width="1"/>
<line x1="410.1" y1="1160.1" x2="403.0" y2="1171.0" stroke="#aaaaaa" stroke-width="1"/>
<line x1="316.7" y1="1085.0" x2="307.2" y2="1094.0" stroke="#aaaaaa" stroke-width="1"/>
<line x1="242.8" y1="990.0" x2="231.5" y2="996.5" stroke="#aaaaaa" stroke-width="1"/>
<line x1="192.5" y1="879.8" x2="180.0" y2="883.6" stroke="#aaaaaa" stroke-width="1"/>
<line x1="168.9" y1="760.5" x2="155.9" y2="761.3" stroke="#aaaaaa" stroke-width="1"/>
<line x1="173.5" y1="638.4" x2="160.7" y2="636.1" stroke="#aaaaaa" stroke-width="1"/>
<line x1="206.3" y1="520.0" x2="194.3" y2="514.9" stroke="#aaaaaa" stroke-width="1"/>
<line x1="265.8" y1="411.9" x2="255.3" y2="404.2" stroke="#aaaaaa" stroke-width="1"/>
<line x1="349.0" y1="320.0" x2="340.6" y2="310.1" stroke="#aaaaaa" stroke-width="1"/>
<line x1="451.7" y1="249.5" x2="445.8" y2="237.9" stroke="#aaaaaa" stroke-width="1"/>
<line x1="568.4" y1="204.3" x2="565.4" y2="191.7" stroke="#aaaaaa" stroke-width="1"/>
<line x1="693.0" y1="187.2" x2="693.0" y2="174.2" stroke="#aaaaaa" stroke-width="1"/>
<line x1="818.8" y1="199.4" x2="821.8" y2="186.7" stroke="#aaaaaa" stroke-width="1"/>
<line x1="938.9" y1="240.4" x2="944.7" y2="228.8" stroke="#aaaaaa" stroke-width="1"/>
<line x1="1046.8" y1="308.3" x2="1055.2" y2="298.4" stroke="#aaaaaa" stroke-width="1"/>
<line x1="1136.6" y1="399.8" x2="1147.0" y2="392.0" stroke="#aaaaaa" stroke-width="1"/>
<line x1="1203.1" y1="510.0" x2="1215.0" y2="504.8" stroke="#aaaaaa" stroke-width="1"/>
<line x1="1242.6" y1="633.1" x2="1255.4" y2="630.8" stroke="#aaaaaa" stroke-width="1"/>
<line x1="1252.7" y1="762.6" x2="1265.6" y2="763.4" stroke="#aaaaaa" stroke-width="1"/>
<line x1="1232.5" y1="891.5" x2="1245.0" y2="895.2" stroke="#aaaaaa" stroke-width="1"/>
<line x1="1182.9" y1="1012.9" x2="1194.2" y2="1019.4" stroke="#aaaaaa" stroke-width="1"/>
<line x1="1106.3" y1="1120.0" x2="1115.8" y2="1128.9" stroke="#aaaaaa" stroke-width="1"/>
<line x1="1006.7" y1="1206.9" x2="1013.8" y2="1217.7" stroke="#aaaaaa" stroke-width="1"/>
<line x1="889.1" y1="1268.8" x2="893.5" y2="1281.0" stroke="#aaaaaa" stroke-width="1"/>
<line x1="759.9" y1="1302.0" x2="761.4" y2="1314.9" stroke="#aaaaaa" stroke-width="1"/>
<line x1="625.8" y1="1304.5" x2="624.3" y2="1317.4" stroke="#aaaaaa" stroke-width="1"/>
<line x1="494.3" y1="1275.9" x2="489.9" y2="1288.1" stroke="#aaaaaa" stroke-width="1"/>
<line x1="372.4" y1="1217.5" x2="365.2" y2="1228.4" stroke="#aaaaaa" stroke-width="1"/>
<line x1="266.7" y1="1132.2" x2="257.3" y2="1141.1" stroke="#aaaaaa" stroke-width="1"/>
<line x1="183.3" y1="1024.3" x2="172.0" y2="1030.8" stroke="#aaaaaa" stroke-width="1"/>
<line x1="126.7" y1="899.5" x2="114.2" y2="903.3" stroke="#aaaaaa" stroke-width="1"/>
<line x1="100.3" y1="764.5" x2="87.3" y2="765.3" stroke="#aaaaaa" stroke-width="1"/>
<line x1="105.8" y1="626.5" x2="93.0" y2="624.2" stroke="#aaaaaa" stroke-width="1"/>
<line x1="143.2" y1="492.8" x2="131.3" y2="487.7" stroke="#aaaaaa" stroke-width="1"/>
<line x1="210.7" y1="370.9" x2="200.2" y2="363.2" stroke="#aaaaaa" stroke-width="1"/>
<line x1="304.8" y1="267.4" x2="296.5" y2="257.5" stroke="#aaaaaa" stroke-width="1"/>
<line x1="420.8" y1="188.1" x2="415.0" y2="176.5" stroke="#aaaaaa" stroke-width="1"/>
<line x1="552.6" y1="137.5" x2="549.6" y2="124.8" stroke="#aaaaaa" stroke-width="1"/>
<circle cx="892.7" cy="954.4" r="15" fill="#b4b4b4"/>
<circle cx="762.4" cy="1098.5" r="15" fill="#b4b4b4"/>
<circle cx="529.4" cy="1149.0" r="15" fill="#b4b4b4"/>
<circle cx="267.0" cy="1036.5" r="15" fill="#b4b4b4"/>
<circle cx="94.4" cy="766.3" r="15" fill="#b4b4b4"/>
<circle cx="561.9" cy="418.1" r="14" fill="none" stroke="#b4b4b4" stroke-width="1.6"/>
<circle cx="777.1" cy="325.0" r="14" fill="none" stroke="#b4b4b4" stroke-width="1.6"/>
<circle cx="787.5" cy="327.0" r="14" fill="none" stroke="#b4b4b4" stroke-width="1.6"/>
<circle cx="1055.0" cy="401.0" r="14" fill="none" stroke="#b4b4b4" stroke-width="1.6"/>
<circle cx="1248.0" cy="629.5" r="14" fill="none" stroke="#b4b4b4" stroke-width="1.6"/>
<circle cx="1249.7" cy="638.5" r="14" fill="none" stroke="#b4b4b4" stroke-width="1.6"/>
<path d="M563.3,494.9 L571.4,490.2 L579.7,485.8 L588.1,481.6 L596.7,477.7 L605.5,474.2 L614.4,470.9 L623.3,467.9 L632.5,465.3 L641.7,463.0 L651.0,461.0 L660.3,459.3 L669.8,457.9 L679.3,456.9 L688.8,456.2 L698.4,455.8 L708.0,455.8 L717.6,456.1 L727.1,456.8 L736.7,457.7 L746.3,459.1 L755.8,460.7 L765.3,462.7 L774.7,465.0 L784.0,467.7 L793.2,470.7 L802.4,474.0 L811.4,477.6 L820.3,481.5 L829.1,485.8 L837.7,490.4 L846.2,495.3 L854.5,500.4 L862.7,505.9 L870.6,511.7 L878.4,517.7 L886.0,524.0 L893.3,530.6 L900.4,537.5 L907.3,544.6 L914.0,552.0 L920.3,559.6 L926.5,567.4 L932.3,575.4 L937.9,583.7 L943.2,592.1 L948.2,600.8 L952.9,609.6 L957.3,618.6 L961.4,627.8 L965.1,637.1 L968.6,646.5 L971.7,656.1 L974.5,665.8 L976.9,675.6 L979.0,685.5 L980.8,695.4 L982.2,705.5 L983.3,715.6 L984.0,725.7 L984.3,735.9 L984.3,746.1 L984.0,756.3 L983.3,766.4 L982.2,776.6 L980.8,786.8 L979.0,796.9 L976.8,806.9 L974.3,816.9 L971.5,826.8 L968.3,836.6 L964.8,846.3 L960.9,855.8 L956.7,865.3 L952.1,874.6 L947.2,883.8 L942.0,892.8 L936.5,901.6 L930.7,910.2 L924.5,918.6 L918.1,926.8 L911.4,934.8 L904.4,942.6 L897.1,950.1 L889.5,957.4 L881.7,964.4 L873.6,971.2 L865.3,977.7 L856.8,983.9 L848.0,989.7 L839.0,995.3 L829.8,1000.6 L820.5,1005.6 L810.9,1010.2 L801.2,1014.5 L791.3,1018.5 L781.3,1022.1 L771.1,1025.4 L760.9,1028.3 L750.5,1030.8 L740.0,1033.0 L729.4,1034.9 L718.8,1036.3 L708.1,1037.4 L697.4,1038.2 L686.6,1038.5 L675.8,1038.5 L665.0,1038.1 L654.2,1037.3 L643.5,1036.1 L632.7,1034.6 L622.1,1032.7 L611.4,1030.4 L600.9,1027.7 L590.4,1024.7 L580.1,1021.3 L569.8,1017.5 L559.7,1013.4 L549.7,1008.9 L539.9,1004.0 L530.2,998.9 L520.7,993.3 L511.4,987.5 L502.3,981.3 L493.4,974.7 L484.7,967.9 L476.3,960.8 L468.1,953.3 L460.1,945.6 L452.5,937.6 L445.1,929.3 L437.9,920.8 L431.1,912.0 L424.6,902.9 L418.4,893.6 L412.5,884.1 L407.0,874.4 L401.8,864.5 L396.9,854.4 L392.4,844.1 L388.2,833.7 L384.4,823.1 L381.0,812.4 L377.9,801.5 L375.2,790.5 L372.9,779.5 L371.0,768.3 L369.5,757.1 L368.4,745.8 L367.7,734.4 L367.3,723.1 L367.4,711.7 L367.8,700.3 L368.7,688.9 L369.9,677.5 L371.6,666.2 L373.7,655.0 L376.1,643.8 L378.9,632.6 L382.2,621.6 L385.8,610.7 L389.8,599.9 L394.2,589.2 L398.9,578.7 L404.1,568.3 L409.6,558.1 L415.4,548.1 L421.6,538.3 L428.2,528.7 L435.1,519.4 L442.3,510.2 L449.8,501.4 L457.7,492.7 L465.9,484.4 L474.3,476.3 L483.1,468.5 L492.1,461.1 L501.4,453.9 L510.9,447.1 L520.7,440.6 L530.8,434.4 L541.0,428.6 L551.5,423.1 L562.1,418.0 L573.0,413.2 L584.0,408.9 L595.1,404.9 L606.4,401.3 L617.9,398.1 L629.4,395.3 L641.1,392.9 L652.9,391.0 L664.7,389.4 L676.6,388.2 L688.5,387.5 L700.5,387.1 L712.5,387.2 L724.5,387.7 L736.4,388.7 L748.4,390.0 L760.3,391.8 L772.2,394.0 L783.9,396.6 L795.6,399.6 L807.2,403.0 L818.7,406.8 L830.1,411.1 L841.3,415.7 L852.4,420.7 L863.2,426.2 L873.9,432.0 L884.5,438.1 L894.7,444.7 L904.8,451.6 L914.6,458.9 L924.2,466.5 L933.5,474.4 L942.6,482.7 L951.4,491.3 L959.8,500.3 L968.0,509.5 L975.8,519.0 L983.3,528.8 L990.5,538.8 L997.3,549.1 L1003.8,559.7 L1009.9,570.5 L1015.6,581.5 L1020.9,592.7 L1025.9,604.1 L1030.4,615.6 L1034.6,627.4 L1038.3,639.3 L1041.7,651.3 L1044.6,663.4 L1047.1,675.7 L1049.1,688.0 L1050.8,700.5 L1052.0,713.0 L1052.7,725.5 L1053.0,738.1 L1052.9,750.7 L1052.3,763.2 L1051.3,775.8 L1049.9,788.4 L1048.0,800.9 L1045.7,813.3 L1043.0,825.7 L1039.8,837.9 L1036.1,850.1 L1032.1,862.2 L1027.6,874.1 L1022.7,885.8 L1017.4,897.4 L1011.7,908.8 L1005.6,920.0 L999.1,931.0 L992.2,941.8 L984.9,952.4 L977.3,962.7 L969.3,972.7 L960.9,982.5 L952.2,991.9 L943.2,1001.1 L933.8,1010.0 L924.1,1018.5 L914.1,1026.7 L903.9,1034.6 L893.3,1042.1 L882.5,1049.2 L871.4,1055.9 L860.1,1062.3 L848.5,1068.3 L836.8,1073.9 L824.8,1079.0 L812.7,1083.8 L800.4,1088.1 L787.9,1092.0 L775.3,1095.5 L762.5,1098.5 L749.7,1101.1 L736.7,1103.2 L723.7,1104.9 L710.6,1106.1 L697.5,1106.9 L684.3,1107.2 L671.1,1107.1 L658.0,1106.4 L644.8,1105.4 L631.6,1103.8 L618.6,1101.8 L605.5,1099.4 L592.6,1096.5 L579.7,1093.1 L567.0,1089.3 L554.4,1085.0 L541.9,1080.3 L529.6,1075.2 L517.5,1069.6 L505.6,1063.6 L493.8,1057.2 L482.3,1050.4 L471.1,1043.1 L460.0,1035.5 L449.3,1027.5 L438.8,1019.0 L428.6,1010.3 L418.7,1001.1 L409.1,991.7 L399.9,981.8 L390.9,971.7 L382.4,961.2 L374.2,950.5 L366.4,939.4 L358.9,928.1 L351.9,916.5 L345.2,904.6 L339.0,892.5 L333.2,880.2 L327.8,867.7 L322.9,855.0 L318.4,842.1 L314.3,829.0 L310.7,815.8 L307.6,802.5 L304.9,789.1 L302.7,775.5 L301.0,761.9 L299.7,748.2 L298.9,734.5 L298.6,720.7 L298.8,706.9 L299.5,693.1 L300.6,679.4 L302.3,665.6 L304.4,652.0 L307.0,638.4 L310.0,624.8 L313.6,611.4 L317.6,598.1 L322.1,584.9 L327.0,571.9 L332.4,559.1 L338.2,546.4 L344.5,534.0 L351.3,521.7 L358.4,509.7 L366.0,497.9 L374.0,486.4 L382.4,475.2 L391.2,464.3 L400.4,453.6 L409.9,443.3 L419.9,433.3 L430.1,423.7 L440.8,414.4 L451.7,405.5 L463.0,396.9 L474.5,388.8 L486.4,381.0 L498.5,373.7 L510.9,366.8 L523.5,360.3 L536.4,354.2 L549.5,348.7 L562.7,343.5 L576.2,338.8 L589.8,334.6 L603.6,330.9 L617.5,327.6 L631.6,324.9 L645.7,322.6 L659.9,320.8 L674.2,319.5 L688.6,318.7 L702.9,318.5 L717.3,318.7 L731.7,319.4 L746.1,320.6 L760.4,322.3 L774.6,324.6 L788.8,327.3 L802.9,330.5 L816.9,334.2 L830.8,338.4 L844.5,343.1 L858.1,348.3 L871.5,354.0 L884.7,360.1 L897.7,366.7 L910.4,373.7 L922.9,381.2 L935.2,389.1 L947.2,397.5 L958.9,406.3 L970.3,415.5 L981.3,425.1 L992.1,435.0 L1002.5,445.4 L1012.5,456.1 L1022.2,467.2 L1031.5,478.6 L1040.4,490.4 L1048.8,502.5 L1056.9,514.8 L1064.5,527.5 L1071.7,540.4 L1078.4,553.6 L1084.7,567.0 L1090.5,580.6 L1095.8,594.5 L1100.7,608.5 L1105.1,622.7 L1108.9,637.1 L1112.3,651.6 L1115.1,666.2 L1117.5,681.0 L1119.3,695.8 L1120.6,710.7 L1121.4,725.6 L1121.7,740.6 L1121.5,755.6 L1120.7,770.6 L1119.4,785.5 L1117.6,800.4 L1115.2,815.3 L1112.4,830.1 L1109.0,844.7 L1105.1,859.3 L1100.7,873.7 L1095.8,888.0 L1090.4,902.1 L1084.5,916.1 L1078.1,929.8 L1071.2,943.3 L1063.8,956.6 L1056.0,969.6 L1047.7,982.4 L1039.0,994.8 L1029.8,1007.0 L1020.3,1018.8 L1010.3,1030.3 L999.8,1041.5 L989.0,1052.3 L977.9,1062.7 L966.3,1072.8 L954.4,1082.4 L942.2,1091.6 L929.6,1100.4 L916.7,1108.8 L903.5,1116.7 L890.1,1124.2 L876.3,1131.2 L862.4,1137.7 L848.2,1143.7 L833.7,1149.2 L819.1,1154.2 L804.3,1158.8 L789.4,1162.7 L774.3,1166.2 L759.1,1169.2 L743.7,1171.6 L728.3,1173.5 L712.8,1174.8 L697.3,1175.6 L681.7,1175.9 L666.1,1175.6 L650.6,1174.8 L635.0,1173.4 L619.5,1171.5 L604.1,1169.0 L588.7,1166.0 L573.4,1162.5 L558.3,1158.4 L543.3,1153.8 L528.5,1148.7 L513.8,1143.0 L499.3,1136.9 L485.1,1130.2 L471.0,1123.0 L457.2,1115.4 L443.7,1107.2 L430.5,1098.6 L417.5,1089.5 L404.9,1080.0 L392.6,1070.0 L380.7,1059.6 L369.1,1048.7 L357.9,1037.5 L347.0,1025.8 L336.6,1013.8 L326.6,1001.4 L317.1,988.7 L307.9,975.6 L299.3,962.2 L291.1,948.5 L283.3,934.5 L276.1,920.2 L269.4,905.7 L263.1,891.0 L257.4,876.0 L252.2,860.8 L247.6,845.4 L243.4,829.9 L239.8,814.2 L236.8,798.4 L234.3,782.4 L232.4,766.4 L231.0,750.3 L230.2,734.2 L229.9,718.0 L230.3,701.8 L231.2,685.7 L232.6,669.5 L234.6,653.4 L237.2,637.4 L240.3,621.5 L244.0,605.6 L248.3,589.9 L253.1,574.3 L258.4,558.9 L264.3,543.7 L270.7,528.7 L277.7,513.9 L285.2,499.3 L293.1,485.0 L301.6,471.0 L310.6,457.3 L320.0,443.9 L330.0,430.8 L340.3,418.0 L351.2,405.7 L362.4,393.6 L374.1,382.0 L386.2,370.8 L398.7,360.0 L411.6,349.7 L424.8,339.8 L438.4,330.3 L452.3,321.3 L466.5,312.8 L481.1,304.9 L495.9,297.4 L511.0,290.4 L526.3,284.0 L541.8,278.0 L557.6,272.7 L573.5,267.9 L589.7,263.6 L605.9,259.9 L622.4,256.8 L638.9,254.2 L655.5,252.2 L672.2,250.8 L688.9,250.0 L705.7,249.8 L722.5,250.1 L739.2,251.1 L756.0,252.6 L772.7,254.7 L789.3,257.4 L805.8,260.7 L822.2,264.5 L838.5,269.0 L854.7,274.0 L870.6,279.5 L886.4,285.7 L902.0,292.4 L917.3,299.6 L932.4,307.3 L947.2,315.6 L961.7,324.4 L975.9,333.8 L989.8,343.6 L1003.4,353.9 L1016.6,364.6 L1029.4,375.9 L1041.8,387.6 L1053.8,399.7 L1065.4,412.3 L1076.6,425.2 L1087.3,438.6 L1097.6,452.3 L1107.3,466.4 L1116.6,480.8 L1125.4,495.6 L1133.6,510.6 L1141.4,526.0 L1148.6,541.6 L1155.2,557.5 L1161.3,573.6 L1166.9,590.0 L1171.9,606.5 L1176.2,623.2 L1180.1,640.1 L1183.3,657.1 L1185.9,674.2 L1187.9,691.4 L1189.4,708.7 L1190.2,726.1 L1190.4,743.4 L1190.0,760.8 L1189.0,778.2 L1187.4,795.5 L1185.2,812.8 L1182.4,830.0 L1178.9,847.1 L1174.9,864.1 L1170.3,881.0 L1165.1,897.7 L1159.3,914.2 L1153.0,930.5 L1146.0,946.6 L1138.5,962.5 L1130.5,978.1 L1121.9,993.4 L1112.7,1008.4 L1103.1,1023.1 L1092.9,1037.5 L1082.2,1051.5 L1071.0,1065.2 L1059.4,1078.4 L1047.2,1091.3 L1034.7,1103.7 L1021.7,1115.7 L1008.2,1127.2 L994.4,1138.3 L980.2,1148.9 L965.6,1159.0 L950.6,1168.6 L935.4,1177.6 L919.8,1186.2 L903.8,1194.1 L887.7,1201.6 L871.2,1208.4 L854.5,1214.7 L837.6,1220.4 L820.5,1225.6 L803.2,1230.1 L785.7,1234.0 L768.1,1237.3 L750.4,1240.0 L732.6,1242.1 L714.7,1243.5 L696.8,1244.4 L678.8,1244.6 L660.8,1244.1 L642.9,1243.1 L624.9,1241.4 L607.1,1239.1 L589.3,1236.1 L571.6,1232.6 L554.0,1228.4 L536.6,1223.6 L519.3,1218.2 L502.2,1212.2 L485.4,1205.6 L468.7,1198.4 L452.3,1190.6 L436.2,1182.3 L420.4,1173.4 L404.8,1163.9 L389.6,1153.9 L374.8,1143.3 L360.3,1132.3 L346.2,1120.7 L332.5,1108.6 L319.3,1096.1 L306.4,1083.1 L294.0,1069.6 L282.1,1055.7 L270.7,1041.4 L259.8,1026.7 L249.4,1011.6 L239.5,996.1 L230.1,980.3 L221.3,964.1 L213.1,947.7 L205.4,930.9 L198.4,913.9 L191.9,896.7 L186.0,879.2 L180.7,861.5 L176.1,843.6 L172.0,825.5 L168.7,807.4 L165.9,789.0 L163.8,770.6 L162.3,752.2 L161.5,733.6 L161.3,715.0 L161.7,696.5 L162.9,677.9 L164.6,659.4 L167.0,640.9 L170.1,622.5 L173.8,604.2 L178.1,586.1 L183.1,568.1 L188.7,550.3 L194.9,532.6 L201.8,515.2 L209.2,498.0 L217.3,481.1 L225.9,464.4 L235.2,448.1 L245.0,432.1 L255.3,416.4 L266.2,401.1 L277.7,386.1 L289.7,371.6 L302.2,357.5 L315.1,343.8 L328.6,330.5 L342.5,317.8 L356.9,305.5 L371.7,293.7 L386.9,282.4 L402.5,271.7 L418.5,261.5 L434.8,251.9 L451.5,242.8 L468.5,234.3 L485.8,226.4 L503.4,219.1 L521.2,212.5 L539.3,206.4 L557.6,201.0 L576.0,196.2 L594.7,192.1 L613.4,188.6 L632.4,185.8 L651.4,183.6 L670.4,182.1 L689.6,181.3 L708.8,181.1 L727.9,181.6 L747.1,182.8 L766.2,184.6 L785.3,187.1 L804.2,190.3 L823.1,194.2 L841.8,198.7 L860.4,203.8 L878.8,209.6 L897.0,216.1 L915.0,223.2 L932.7,230.9 L950.2,239.2 L967.3,248.2 L984.2,257.7 L1000.7,267.8 L1016.9,278.6 L1032.7,289.8 L1048.1,301.7 L1063.1,314.0 L1077.6,326.9 L1091.7,340.3 L1105.4,354.2 L1118.5,368.6 L1131.2,383.5 L1143.3,398.7 L1154.9,414.5 L1166.0,430.6 L1176.5,447.1 L1186.4,463.9 L1195.7,481.2 L1204.5,498.7 L1212.6,516.6 L1220.1,534.7 L1226.9,553.1 L1233.2,571.7 L1238.7,590.6 L1243.6,609.7 L1247.9,628.9 L1251.4,648.3 L1254.3,667.8 L1256.5,687.4 L1258.1,707.1 L1258.9,726.8 L1259.1,746.6 L1258.5,766.3 L1257.3,786.1 L1255.4,805.8 L1252.7,825.5 L1249.4,845.0 L1245.5,864.5 L1240.8,883.8 L1235.5,902.9 L1229.4,921.9 L1222.8,940.6 L1215.4,959.2 L1207.5,977.4 L1198.9,995.4 L1189.6,1013.1 L1179.7,1030.5 L1169.3,1047.5 L1158.2,1064.2 L1146.6,1080.4 L1134.4,1096.3 L1121.6,1111.7 L1108.3,1126.7 L1094.4,1141.3 L1080.1,1155.3 L1065.2,1168.8 L1049.9,1181.9 L1034.2,1194.4 L1018.0,1206.3 L1001.3,1217.7 L984.3,1228.5 L966.9,1238.7 L949.2,1248.3 L931.1,1257.3 L912.7,1265.6 L894.0,1273.3 L875.0,1280.3 L855.8,1286.7 L836.3,1292.4 L816.7,1297.5 L796.9,1301.8 L776.9,1305.5 L756.8,1308.4 L736.6,1310.7 L716.3,1312.2 L696.0,1313.1 L675.6,1313.2 L655.2,1312.6 L634.9,1311.3 L614.6,1309.3 L594.3,1306.6 L574.2,1303.2 L554.1,1299.1 L534.2,1294.2 L514.5,1288.7 L495.0,1282.5 L475.7,1275.6 L456.6,1268.0 L437.8,1259.8 L419.3,1250.9 L401.1,1241.4 L383.2,1231.2 L365.7,1220.4 L348.6,1209.0 L331.8,1197.0 L315.5,1184.4 L299.6,1171.2 L284.2,1157.5 L269.2,1143.2 L254.8,1128.4 L240.8,1113.1 L227.4,1097.3 L214.6,1081.1 L202.3,1064.4 L190.6,1047.2 L179.5,1029.7 L169.0,1011.8 L159.2,993.5 L149.9,974.8 L141.4,955.9 L133.5,936.6 L126.2,917.1 L119.7,897.3 L113.8,877.2 L108.7,857.0 L104.2,836.6 L100.5,816.0 L97.4,795.3 L95.1,774.5 L93.6,753.7 L92.7,732.7 L92.6,711.7 L93.2,690.8 L94.6,669.8 L96.7,648.9 L99.5,628.1 L103.1,607.3 L107.3,586.7 L112.3,566.3 L118.0,546.0 L124.4,525.9 L131.6,506.0 L139.4,486.4 L147.9,467.1 L157.0,448.0 L166.9,429.3 L177.4,410.9 L188.5,392.9 L200.3,375.2 L212.7,358.0 L225.6,341.2 L239.2,324.9 L253.4,309.0 L268.1,293.7 L283.3,278.8 L299.1,264.5 L315.3,250.7 L332.0,237.5 L349.2,224.9 L366.9,212.9 L384.9,201.5 L403.4,190.7 L422.2,180.6 L441.4,171.1 L460.9,162.3 L480.8,154.2 L500.9,146.8 L521.3,140.1 L541.9,134.1 L562.7,128.8 L583.7,124.2 L604.8,120.4 L626.1,117.3 L647.5,115.0 L669.0,113.4 L690.6,112.5 L712.1,112.5 L733.7,113.1 L755.3,114.5 L776.8,116.7 L798.2,119.6" fill="none" stroke="#000" stroke-width="1.5"/>
<line x1="563.3" y1="494.9" x2="543.8" y2="459.7" stroke="#000" stroke-width="1.5"/>
<line x1="620.3" y1="468.9" x2="609.5" y2="430.1" stroke="#000" stroke-width="1.5"/>
<line x1="682.4" y1="456.6" x2="680.8" y2="415.3" stroke="#000" stroke-width="1.5"/>
<line x1="746.2" y1="459.1" x2="754.2" y2="418.4" stroke="#000" stroke-width="1.5"/>
<line x1="808.3" y1="476.3" x2="822.3" y2="445.6" stroke="#000" stroke-width="1.5"/>
<line x1="865.3" y1="507.7" x2="884.3" y2="483.2" stroke="#000" stroke-width="1.5"/>
<line x1="913.9" y1="551.9" x2="937.8" y2="532.6" stroke="#000" stroke-width="1.5"/>
<line x1="951.3" y1="606.5" x2="976.5" y2="594.4" stroke="#000" stroke-width="1.5"/>
<line x1="975.3" y1="668.8" x2="1002.3" y2="663.0" stroke="#000" stroke-width="1.5"/>
<line x1="984.3" y1="735.6" x2="1011.9" y2="736.2" stroke="#000" stroke-width="1.5"/>
<line x1="977.6" y1="803.3" x2="1004.4" y2="810.2" stroke="#000" stroke-width="1.5"/>
<line x1="955.3" y1="868.2" x2="978.8" y2="880.5" stroke="#000" stroke-width="1.5"/>
<line x1="918.3" y1="926.6" x2="935.9" y2="942.0" stroke="#000" stroke-width="1.5"/>
<line x1="868.4" y1="975.3" x2="881.7" y2="994.0" stroke="#000" stroke-width="1.5"/>
<line x1="808.0" y1="1011.5" x2="815.8" y2="1030.7" stroke="#000" stroke-width="1.5"/>
<line x1="740.4" y1="1033.0" x2="743.9" y2="1055.7" stroke="#000" stroke-width="1.5"/>
<line x1="669.0" y1="1038.3" x2="667.3" y2="1061.2" stroke="#000" stroke-width="1.5"/>
<line x1="597.8" y1="1026.9" x2="591.0" y2="1048.0" stroke="#000" stroke-width="1.5"/>
<line x1="530.6" y1="999.1" x2="519.3" y2="1017.8" stroke="#000" stroke-width="1.5"/>
<line x1="471.2" y1="956.2" x2="450.1" y2="977.6" stroke="#000" stroke-width="1.5"/>
<line x1="422.8" y1="900.3" x2="397.4" y2="916.3" stroke="#000" stroke-width="1.5"/>
<line x1="388.4" y1="834.2" x2="349.6" y2="847.5" stroke="#000" stroke-width="1.5"/>
<line x1="370.1" y1="761.4" x2="329.3" y2="765.4" stroke="#000" stroke-width="1.5"/>
<line x1="369.0" y1="685.7" x2="328.4" y2="680.2" stroke="#000" stroke-width="1.5"/>
<line x1="385.6" y1="611.3" x2="340.8" y2="594.0" stroke="#000" stroke-width="1.5"/>
<line x1="419.1" y1="542.2" x2="379.5" y2="515.0" stroke="#000" stroke-width="1.5"/>
<line x1="468.1" y1="482.2" x2="433.8" y2="444.4" stroke="#000" stroke-width="1.5"/>
<line x1="530.1" y1="434.8" x2="505.5" y2="390.1" stroke="#000" stroke-width="1.5"/>
<line x1="601.9" y1="402.7" x2="588.2" y2="353.6" stroke="#000" stroke-width="1.5"/>
<line x1="679.7" y1="388.0" x2="678.0" y2="343.0" stroke="#000" stroke-width="1.5"/>
<line x1="759.4" y1="391.6" x2="767.5" y2="350.4" stroke="#000" stroke-width="1.5"/>
<line x1="836.7" y1="413.8" x2="852.7" y2="378.7" stroke="#000" stroke-width="1.5"/>
<line x1="907.4" y1="453.4" x2="931.9" y2="421.8" stroke="#000" stroke-width="1.5"/>
<line x1="967.3" y1="508.7" x2="998.5" y2="483.6" stroke="#000" stroke-width="1.5"/>
<line x1="1013.3" y1="576.9" x2="1036.7" y2="565.6" stroke="#000" stroke-width="1.5"/>
<line x1="1042.4" y1="654.3" x2="1067.8" y2="648.8" stroke="#000" stroke-width="1.5"/>
<line x1="1053.0" y1="737.0" x2="1075.3" y2="737.4" stroke="#000" stroke-width="1.5"/>
<line x1="1044.2" y1="820.5" x2="1061.6" y2="824.9" stroke="#000" stroke-width="1.5"/>
<line x1="1016.1" y1="900.2" x2="1032.9" y2="909.0" stroke="#000" stroke-width="1.5"/>
<line x1="970.1" y1="971.8" x2="985.4" y2="985.1" stroke="#000" stroke-width="1.5"/>
<line x1="908.3" y1="1031.2" x2="920.1" y2="1047.7" stroke="#000" stroke-width="1.5"/>
<line x1="834.0" y1="1075.1" x2="841.8" y2="1094.3" stroke="#000" stroke-width="1.5"/>
<line x1="751.0" y1="1100.8" x2="754.4" y2="1122.9" stroke="#000" stroke-width="1.5"/>
<line x1="663.7" y1="1106.8" x2="661.8" y2="1131.6" stroke="#000" stroke-width="1.5"/>
<line x1="576.8" y1="1092.3" x2="569.2" y2="1116.0" stroke="#000" stroke-width="1.5"/>
<line x1="495.1" y1="1057.9" x2="481.7" y2="1080.2" stroke="#000" stroke-width="1.5"/>
<line x1="423.0" y1="1005.2" x2="401.1" y2="1027.7" stroke="#000" stroke-width="1.5"/>
<line x1="364.7" y1="936.9" x2="329.6" y2="959.1" stroke="#000" stroke-width="1.5"/>
<line x1="323.4" y1="856.5" x2="278.7" y2="871.8" stroke="#000" stroke-width="1.5"/>
<line x1="301.7" y1="768.1" x2="254.6" y2="772.6" stroke="#000" stroke-width="1.5"/>
<line x1="300.9" y1="676.5" x2="250.8" y2="669.6" stroke="#000" stroke-width="1.5"/>
<line x1="321.5" y1="586.6" x2="267.4" y2="565.7" stroke="#000" stroke-width="1.5"/>
<line x1="362.5" y1="503.3" x2="313.0" y2="469.4" stroke="#000" stroke-width="1.5"/>
<line x1="421.9" y1="431.3" x2="381.6" y2="386.9" stroke="#000" stroke-width="1.5"/>
<line x1="496.9" y1="374.6" x2="470.8" y2="327.3" stroke="#000" stroke-width="1.5"/>
<line x1="583.5" y1="336.5" x2="568.2" y2="281.6" stroke="#000" stroke-width="1.5"/>
<line x1="677.1" y1="319.3" x2="674.9" y2="262.4" stroke="#000" stroke-width="1.5"/>
<line x1="772.7" y1="324.2" x2="783.7" y2="268.3" stroke="#000" stroke-width="1.5"/>
<line x1="865.2" y1="351.2" x2="888.3" y2="300.2" stroke="#000" stroke-width="1.5"/>
<line x1="949.4" y1="399.1" x2="978.8" y2="361.2" stroke="#000" stroke-width="1.5"/>
<line x1="1020.8" y1="465.6" x2="1051.9" y2="440.5" stroke="#000" stroke-width="1.5"/>
<line x1="1075.2" y1="547.2" x2="1103.7" y2="533.6" stroke="#000" stroke-width="1.5"/>
<line x1="1109.6" y1="639.8" x2="1140.4" y2="633.1" stroke="#000" stroke-width="1.5"/>
<line x1="1121.7" y1="738.3" x2="1149.3" y2="738.8" stroke="#000" stroke-width="1.5"/>
<line x1="1110.7" y1="837.6" x2="1135.6" y2="844.0" stroke="#000" stroke-width="1.5"/>
<line x1="1076.9" y1="932.2" x2="1099.6" y2="944.2" stroke="#000" stroke-width="1.5"/>
<line x1="1021.8" y1="1017.0" x2="1043.7" y2="1036.0" stroke="#000" stroke-width="1.5"/>
<line x1="948.3" y1="1087.1" x2="966.3" y2="1112.3" stroke="#000" stroke-width="1.5"/>
<line x1="860.0" y1="1138.7" x2="873.2" y2="1171.1" stroke="#000" stroke-width="1.5"/>
<line x1="761.6" y1="1168.7" x2="768.3" y2="1211.2" stroke="#000" stroke-width="1.5"/>
<line x1="658.4" y1="1175.3" x2="655.1" y2="1218.1" stroke="#000" stroke-width="1.5"/>
<line x1="555.9" y1="1157.7" x2="539.7" y2="1208.2" stroke="#000" stroke-width="1.5"/>
<line x1="459.6" y1="1116.7" x2="428.6" y2="1168.1" stroke="#000" stroke-width="1.5"/>
<line x1="374.9" y1="1054.3" x2="331.5" y2="1098.6" stroke="#000" stroke-width="1.5"/>
<line x1="306.6" y1="973.6" x2="254.1" y2="1006.6" stroke="#000" stroke-width="1.5"/>
<line x1="258.4" y1="878.7" x2="203.5" y2="897.5" stroke="#000" stroke-width="1.5"/>
<line x1="233.3" y1="774.7" x2="173.6" y2="780.5" stroke="#000" stroke-width="1.5"/>
<line x1="232.9" y1="667.2" x2="173.4" y2="659.0" stroke="#000" stroke-width="1.5"/>
<line x1="257.4" y1="561.8" x2="204.2" y2="541.3" stroke="#000" stroke-width="1.5"/>
<line x1="305.8" y1="464.5" x2="258.8" y2="432.2" stroke="#000" stroke-width="1.5"/>
<line x1="375.8" y1="380.4" x2="339.5" y2="340.4" stroke="#000" stroke-width="1.5"/>
<line x1="463.7" y1="314.5" x2="438.1" y2="268.1" stroke="#000" stroke-width="1.5"/>
<line x1="565.0" y1="270.3" x2="551.4" y2="221.2" stroke="#000" stroke-width="1.5"/>
<line x1="674.4" y1="250.7" x2="672.4" y2="200.2" stroke="#000" stroke-width="1.5"/>
<line x1="785.9" y1="256.8" x2="795.7" y2="207.3" stroke="#000" stroke-width="1.5"/>
<line x1="893.6" y1="288.7" x2="913.0" y2="245.9" stroke="#000" stroke-width="1.5"/>
<line x1="991.5" y1="344.8" x2="1019.7" y2="308.5" stroke="#000" stroke-width="1.5"/>
<line x1="1074.3" y1="422.5" x2="1110.1" y2="393.6" stroke="#000" stroke-width="1.5"/>
<line x1="1137.2" y1="517.6" x2="1173.3" y2="500.3" stroke="#000" stroke-width="1.5"/>
<line x1="1176.7" y1="625.2" x2="1212.9" y2="617.4" stroke="#000" stroke-width="1.5"/>
<line x1="1190.4" y1="739.6" x2="1224.9" y2="740.3" stroke="#000" stroke-width="1.5"/>
<line x1="1177.2" y1="854.7" x2="1214.7" y2="864.4" stroke="#000" stroke-width="1.5"/>
<line x1="1137.7" y1="964.2" x2="1171.9" y2="982.3" stroke="#000" stroke-width="1.5"/>
<line x1="1073.6" y1="1062.1" x2="1102.2" y2="1087.1" stroke="#000" stroke-width="1.5"/>
<line x1="988.2" y1="1143.0" x2="1011.5" y2="1175.6" stroke="#000" stroke-width="1.5"/>
<line x1="886.0" y1="1202.3" x2="901.5" y2="1240.3" stroke="#000" stroke-width="1.5"/>
<line x1="772.2" y1="1236.6" x2="779.5" y2="1283.0" stroke="#000" stroke-width="1.5"/>
<line x1="653.1" y1="1243.7" x2="649.4" y2="1290.6" stroke="#000" stroke-width="1.5"/>
<line x1="534.9" y1="1223.1" x2="521.0" y2="1266.4" stroke="#000" stroke-width="1.5"/>
<line x1="424.1" y1="1175.5" x2="399.8" y2="1215.8" stroke="#000" stroke-width="1.5"/>
<line x1="326.8" y1="1103.3" x2="293.7" y2="1137.1" stroke="#000" stroke-width="1.5"/>
<line x1="248.5" y1="1010.2" x2="208.4" y2="1035.4" stroke="#000" stroke-width="1.5"/>
<line x1="193.4" y1="900.9" x2="148.9" y2="916.2" stroke="#000" stroke-width="1.5"/>
<line x1="164.9" y1="781.4" x2="118.1" y2="785.9" stroke="#000" stroke-width="1.5"/>
<line x1="164.8" y1="657.9" x2="118.7" y2="651.6" stroke="#000" stroke-width="1.5"/>
<line x1="193.3" y1="537.1" x2="152.2" y2="521.2" stroke="#000" stroke-width="1.5"/>
<line x1="249.2" y1="425.6" x2="213.7" y2="401.3" stroke="#000" stroke-width="1.5"/>
<line x1="329.6" y1="329.6" x2="302.7" y2="299.9" stroke="#000" stroke-width="1.5"/>
<line x1="430.5" y1="254.3" x2="413.0" y2="222.5" stroke="#000" stroke-width="1.5"/>
<line x1="546.6" y1="204.2" x2="536.4" y2="167.6" stroke="#000" stroke-width="1.5"/>
<line x1="671.7" y1="182.0" x2="670.2" y2="143.6" stroke="#000" stroke-width="1.5"/>
<line x1="799.2" y1="189.4" x2="806.6" y2="151.6" stroke="#000" stroke-width="1.5"/>
<line x1="922.0" y1="226.1" x2="940.2" y2="186.1" stroke="#000" stroke-width="1.5"/>
<line x1="1033.6" y1="290.5" x2="1060.6" y2="255.8" stroke="#000" stroke-width="1.5"/>
<line x1="1127.8" y1="379.3" x2="1166.7" y2="347.9" stroke="#000" stroke-width="1.5"/>
<line x1="1199.2" y1="487.9" x2="1244.3" y2="466.4" stroke="#000" stroke-width="1.5"/>
<line x1="1243.9" y1="610.7" x2="1292.2" y2="600.2" stroke="#000" stroke-width="1.5"/>
<line x1="1259.1" y1="741.0" x2="1308.1" y2="741.9" stroke="#000" stroke-width="1.5"/>
<line x1="1243.8" y1="871.9" x2="1291.7" y2="884.2" stroke="#000" stroke-width="1.5"/>
<line x1="1198.4" y1="996.2" x2="1242.2" y2="1019.3" stroke="#000" stroke-width="1.5"/>
<line x1="1125.3" y1="1107.3" x2="1161.5" y2="1138.9" stroke="#000" stroke-width="1.5"/>
<line x1="1028.2" y1="1198.9" x2="1055.5" y2="1237.1" stroke="#000" stroke-width="1.5"/>
<line x1="911.9" y1="1265.9" x2="929.0" y2="1307.6" stroke="#000" stroke-width="1.5"/>
<line x1="782.8" y1="1304.5" x2="790.0" y2="1349.9" stroke="#000" stroke-width="1.5"/>
<line x1="647.7" y1="1312.2" x2="644.2" y2="1358.1" stroke="#000" stroke-width="1.5"/>
<line x1="513.9" y1="1288.5" x2="500.8" y2="1329.5" stroke="#000" stroke-width="1.5"/>
<line x1="388.6" y1="1234.4" x2="367.6" y2="1269.1" stroke="#000" stroke-width="1.5"/>
<line x1="278.7" y1="1152.4" x2="253.5" y2="1178.1" stroke="#000" stroke-width="1.5"/>
<line x1="190.3" y1="1046.8" x2="158.2" y2="1067.1" stroke="#000" stroke-width="1.5"/>
<line x1="128.4" y1="923.2" x2="91.0" y2="936.0" stroke="#000" stroke-width="1.5"/>
<line x1="96.6" y1="788.0" x2="57.2" y2="791.8" stroke="#000" stroke-width="1.5"/>
<line x1="96.7" y1="648.6" x2="58.1" y2="643.3" stroke="#000" stroke-width="1.5"/>
<line x1="129.2" y1="512.3" x2="93.2" y2="498.4" stroke="#000" stroke-width="1.5"/>
<line x1="192.5" y1="386.7" x2="160.8" y2="365.0" stroke="#000" stroke-width="1.5"/>
<line x1="283.4" y1="278.7" x2="253.9" y2="246.1" stroke="#000" stroke-width="1.5"/>
<line x1="397.3" y1="194.2" x2="371.7" y2="147.8" stroke="#000" stroke-width="1.5"/>
<line x1="528.2" y1="138.0" x2="514.0" y2="86.9" stroke="#000" stroke-width="1.5"/>
<line x1="669.1" y1="113.4" x2="667.1" y2="63.1" stroke="#000" stroke-width="1.5"/>
</g>
<text transform="translate(727.9,477.4) rotate(7.9)" font-size="18" text-anchor="middle" textLength="64.0" lengthAdjust="spacingAndGlyphs">29-Feb</text>
<text transform="translate(887.2,553.3) rotate(47.7)" font-size="18" text-anchor="middle" textLength="64.0" lengthAdjust="spacingAndGlyphs">03-Mar</text>
<text transform="translate(963.0,718.4) rotate(87.5)" font-size="18" text-anchor="middle" textLength="64.0" lengthAdjust="spacingAndGlyphs">06-Mar</text>
<text transform="translate(921.9,904.9) rotate(-52.6)" font-size="18" text-anchor="middle" textLength="64.0" lengthAdjust="spacingAndGlyphs">09-Mar</text>
<text transform="translate(758.3,1018.3) rotate(-12.8)" font-size="18" text-anchor="middle" textLength="64.0" lengthAdjust="spacingAndGlyphs">12-Mar</text>
<text transform="translate(554.9,999.9) rotate(27.1)" font-size="18" text-anchor="middle" textLength="64.0" lengthAdjust="spacingAndGlyphs">15-Mar</text>
<text transform="translate(406.9,851.6) rotate(67.0)" font-size="18" text-anchor="middle" textLength="64.0" lengthAdjust="spacingAndGlyphs">18-Mar</text>
<text transform="translate(398.0,640.7) rotate(286.8)" font-size="18" text-anchor="middle" textLength="64.0" lengthAdjust="spacingAndGlyphs">21-Mar</text>
<text transform="translate(519.7,465.9) rotate(326.7)" font-size="18" text-anchor="middle" textLength="64.0" lengthAdjust="spacingAndGlyphs">24-Mar</text>
<text transform="translate(730.2,408.7) rotate(6.6)" font-size="18" text-anchor="middle" textLength="64.0" lengthAdjust="spacingAndGlyphs">27-Mar</text>
<text transform="translate(933.2,502.1) rotate(46.5)" font-size="18" text-anchor="middle" textLength="64.0" lengthAdjust="spacingAndGlyphs">30-Mar</text>
<text transform="translate(1031.0,708.7) rotate(86.4)" font-size="18" text-anchor="middle" textLength="64.0" lengthAdjust="spacingAndGlyphs">02-Apr</text>
<text transform="translate(980.3,941.1) rotate(-53.7)" font-size="18" text-anchor="middle" textLength="64.0" lengthAdjust="spacingAndGlyphs">05-Apr</text>
<text transform="translate(779.8,1083.6) rotate(-13.8)" font-size="18" text-anchor="middle" textLength="64.0" lengthAdjust="spacingAndGlyphs">08-Apr</text>
<text transform="translate(529.4,1063.8) rotate(26.1)" font-size="18" text-anchor="middle" textLength="64.0" lengthAdjust="spacingAndGlyphs">11-Apr</text>
<text transform="translate(346.4,884.1) rotate(66.0)" font-size="18" text-anchor="middle" textLength="64.0" lengthAdjust="spacingAndGlyphs">14-Apr</text>
<text transform="translate(330.7,626.5) rotate(285.9)" font-size="18" text-anchor="middle" textLength="64.0" lengthAdjust="spacingAndGlyphs">17-Apr</text>
<text transform="translate(477.3,411.8) rotate(325.9)" font-size="18" text-anchor="middle" textLength="64.0" lengthAdjust="spacingAndGlyphs">20-Apr</text>
<text transform="translate(732.5,340.0) rotate(5.8)" font-size="18" text-anchor="middle" textLength="64.0" lengthAdjust="spacingAndGlyphs">23-Apr</text>
<text transform="translate(979.1,451.0) rotate(45.7)" font-size="18" text-anchor="middle" textLength="64.0" lengthAdjust="spacingAndGlyphs">26-Apr</text>
<text transform="translate(1099.1,699.1) rotate(85.6)" font-size="18" text-anchor="middle" textLength="64.0" lengthAdjust="spacingAndGlyphs">29-Apr</text>
<text transform="translate(1038.7,977.3) rotate(-54.4)" font-size="18" text-anchor="middle" textLength="64.0" lengthAdjust="spacingAndGlyphs">02-May</text>
<text transform="translate(801.3,1148.9) rotate(-14.5)" font-size="18" text-anchor="middle" textLength="64.0" lengthAdjust="spacingAndGlyphs">05-May</text>
<text transform="translate(503.8,1127.6) rotate(25.4)" font-size="18" text-anchor="middle" textLength="64.0" lengthAdjust="spacingAndGlyphs">08-May</text>
<text transform="translate(285.8,916.6) rotate(65.4)" font-size="18" text-anchor="middle" textLength="64.0" lengthAdjust="spacingAndGlyphs">11-May</text>
<text transform="translate(263.5,612.3) rotate(285.3)" font-size="18" text-anchor="middle" textLength="64.0" lengthAdjust="spacingAndGlyphs">14-May</text>
<text transform="translate(434.9,357.8) rotate(325.3)" font-size="18" text-anchor="middle" textLength="64.0" lengthAdjust="spacingAndGlyphs">17-May</text>
<text transform="translate(734.8,271.3) rotate(5.2)" font-size="18" text-anchor="middle" textLength="64.0" lengthAdjust="spacingAndGlyphs">20-May</text>
<text transform="translate(1025.0,399.8) rotate(45.2)" font-size="18" text-anchor="middle" textLength="64.0" lengthAdjust="spacingAndGlyphs">23-May</text>
<text transform="translate(1167.1,689.4) rotate(85.1)" font-size="18" text-anchor="middle" textLength="64.0" lengthAdjust="spacingAndGlyphs">26-May</text>
<text transform="translate(1097.1,1013.5) rotate(-55.0)" font-size="18" text-anchor="middle" textLength="64.0" lengthAdjust="spacingAndGlyphs">29-May</text>
<text transform="translate(822.7,1214.2) rotate(-15.0)" font-size="18" text-anchor="middle" textLength="64.0" lengthAdjust="spacingAndGlyphs">01-Jun</text>
<text transform="translate(478.3,1191.4) rotate(25.0)" font-size="18" text-anchor="middle" textLength="64.0" lengthAdjust="spacingAndGlyphs">04-Jun</text>
<text transform="translate(225.2,949.1) rotate(64.9)" font-size="18" text-anchor="middle" textLength="64.0" lengthAdjust="spacingAndGlyphs">07-Jun</text>
<text transform="translate(196.2,598.2) rotate(284.9)" font-size="18" text-anchor="middle" textLength="64.0" lengthAdjust="spacingAndGlyphs">10-Jun</text>
<text transform="translate(392.5,303.7) rotate(324.8)" font-size="18" text-anchor="middle" textLength="64.0" lengthAdjust="spacingAndGlyphs">13-Jun</text>
<text transform="translate(737.0,202.6) rotate(4.8)" font-size="18" text-anchor="middle" textLength="64.0" lengthAdjust="spacingAndGlyphs">16-Jun</text>
<text transform="translate(1070.8,348.6) rotate(44.7)" font-size="18" text-anchor="middle" textLength="64.0" lengthAdjust="spacingAndGlyphs">19-Jun</text>
<text transform="translate(1235.1,679.6) rotate(84.7)" font-size="18" text-anchor="middle" textLength="64.0" lengthAdjust="spacingAndGlyphs">22-Jun</text>
<text transform="translate(1155.5,1049.7) rotate(-55.3)" font-size="18" text-anchor="middle" textLength="64.0" lengthAdjust="spacingAndGlyphs">25-Jun</text>
<text transform="translate(844.2,1279.5) rotate(-15.4)" font-size="18" text-anchor="middle" textLength="64.0" lengthAdjust="spacingAndGlyphs">28-Jun</text>
<text transform="translate(452.8,1255.2) rotate(24.6)" font-size="18" text-anchor="middle" textLength="64.0" lengthAdjust="spacingAndGlyphs">01-Jul</text>
<text transform="translate(164.6,981.5) rotate(64.5)" font-size="18" text-anchor="middle" textLength="64.0" lengthAdjust="spacingAndGlyphs">04-Jul</text>
<text transform="translate(129.0,584.1) rotate(284.5)" font-size="18" text-anchor="middle" textLength="64.0" lengthAdjust="spacingAndGlyphs">07-Jul</text>
<text transform="translate(350.0,249.7) rotate(324.5)" font-size="18" text-anchor="middle" textLength="64.0" lengthAdjust="spacingAndGlyphs">10-Jul</text>
<g stroke="#fff" stroke-width="1" shape-rendering="crispEdges">
<line x1="507.5" y1="89" x2="507.5" y2="94"/><line x1="507.5" y1="100" x2="507.5" y2="101.5"/>
<line x1="537.5" y1="84" x2="537.5" y2="86.5"/><line x1="537.5" y1="92.5" x2="537.5" y2="94"/><line x1="537.5" y1="96.5" x2="537.5" y2="98"/>
<line x1="560.5" y1="78" x2="560.5" y2="83"/><line x1="560.5" y1="89" x2="560.5" y2="90.5"/><line x1="560.5" y1="94" x2="560.5" y2="95.5"/>
<line x1="579.5" y1="74" x2="579.5" y2="83.5"/><line x1="579.5" y1="86.5" x2="579.5" y2="88.5"/><line x1="579.5" y1="93" x2="579.5" y2="94.5"/>
<line x1="596.5" y1="70.5" x2="596.5" y2="76.5"/><line x1="596.5" y1="80" x2="596.5" y2="82.5"/><line x1="596.5" y1="87.5" x2="596.5" y2="89"/>
<line x1="612.5" y1="69" x2="612.5" y2="74.5"/><line x1="612.5" y1="79" x2="612.5" y2="81.5"/>
<line x1="627.5" y1="67" x2="627.5" y2="73.5"/><line x1="627.5" y1="79" x2="627.5" y2="82.5"/>
<line x1="642.5" y1="66" x2="642.5" y2="74.5"/><line x1="642.5" y1="83" x2="642.5" y2="84.5"/>
<line x1="656.5" y1="64" x2="656.5" y2="75.5"/>
<line x1="57" y1="664.5" x2="69" y2="664.5"/><line x1="56" y1="699.5" x2="67" y2="699.5"/>
<line x1="57" y1="769.5" x2="69" y2="769.5"/><line x1="58" y1="802.5" x2="70" y2="802.5"/>
<line x1="605.5" y1="1341" x2="605.5" y2="1352"/>
</g>
<circle cx="42" cy="28" r="15" fill="#b4b4b4"/>
<circle cx="42" cy="84.3" r="14" fill="none" stroke="#b4b4b4" stroke-width="1.6"/>
<text x="71.4" y="27.9" font-size="16.7" textLength="78" lengthAdjust="spacingAndGlyphs">New Moon</text>
<text x="71.4" y="83.6" font-size="16.7" textLength="73" lengthAdjust="spacingAndGlyphs">Full Moon</text>
<text x="1267.7" y="37.9" font-size="17" textLength="125.4" lengthAdjust="spacingAndGlyphs">Period: 27 days</text>
<text x="5.9" y="1394.6" font-size="17" textLength="104" lengthAdjust="spacingAndGlyphs">GI-UAF 2024</text>
<text x="1079.4" y="1395.5" font-size="17.4" textLength="312" lengthAdjust="spacingAndGlyphs">Condegram plotted Jul 13 at 00:01 UT</text>
<text x="700" y="49.75" font-size="15.6" font-weight="bold" textLength="27" lengthAdjust="spacingAndGlyphs">250</text>
<text x="701" y="71.25" font-size="15.6" font-weight="bold" textLength="25" lengthAdjust="spacingAndGlyphs">190</text>
<text x="702" y="94.5" font-size="15.6" font-weight="bold" textLength="24" lengthAdjust="spacingAndGlyphs">130</text>
<line x1="688" y1="573.5" x2="688" y2="642.5" stroke="#000" stroke-width="1.8"/>
<line x1="671" y1="573.3" x2="707" y2="573.3" stroke="#000" stroke-width="1.3"/>
<line x1="671" y1="642.5" x2="707" y2="642.5" stroke="#000" stroke-width="1.3"/>
<text x="719" y="580" font-size="20.3" textLength="75" lengthAdjust="spacingAndGlyphs">250 sfu</text>
<text x="719" y="648" font-size="20.3" textLength="62.5" lengthAdjust="spacingAndGlyphs">70 sfu</text>
<g fill="#f83232">
<text x="560" y="727.6" font-size="35" font-style="italic" style="font-family:'Liberation Serif',serif;stroke:none" textLength="271" lengthAdjust="spacingAndGlyphs">10.7 cm Solar</text>
<text x="585.4" y="758.6" font-size="35" font-style="italic" style="font-family:'Liberation Serif',serif;stroke:none" textLength="213.6" lengthAdjust="spacingAndGlyphs">Radio Flux</text>
<text x="638.5" y="804" font-size="35.5" style="stroke-width:0.9px" textLength="108.5" lengthAdjust="spacingAndGlyphs">70 sfu</text>
<text x="571" y="886" font-size="30.5" style="stroke-width:0.8px" textLength="243.6" lengthAdjust="spacingAndGlyphs">Latest: 20:00 UT</text>
<text x="594" y="911.4" font-size="30.5" style="stroke-width:0.8px" textLength="197" lengthAdjust="spacingAndGlyphs">2024-Jul-13</text>
</g>
</svg></body></html>
